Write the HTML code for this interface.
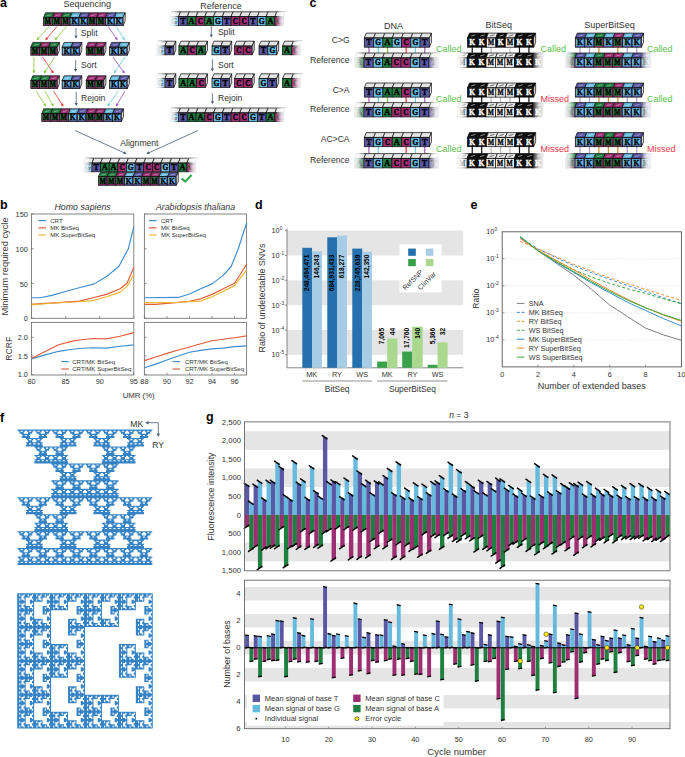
<!DOCTYPE html>
<html><head><meta charset="utf-8"><style>
html,body{margin:0;padding:0;background:#fff;width:685px;height:757px;overflow:hidden}
svg{display:block}
text{font-family:"Liberation Sans", sans-serif}
</style></head><body>
<svg width="685" height="757" viewBox="0 0 685 757">
<rect width="685" height="757" fill="#fff"/>
<text x="87.30" y="6.90" font-size="9.0" text-anchor="middle" font-weight="normal" font-style="normal" fill="#333">Sequencing</text>
<rect x="43.50" y="17.60" width="8.85" height="8.00" fill="#9d2e72"/>
<rect x="44.10" y="18.20" width="6.85" height="6.10" fill="#1f7f40"/>
<polygon points="43.50,17.60 52.35,17.60 54.35,12.80 45.50,12.80" fill="#1f7f40" stroke="#111" stroke-width="0.75"/>
<line x1="46.72" y1="15.80" x2="51.12" y2="14.60" stroke="#ffffff88" stroke-width="0.7"/>
<text x="44.82" y="24.39" font-size="8.2" textLength="6.2" lengthAdjust="spacingAndGlyphs" font-weight="bold" fill="#000" stroke="#000" stroke-width="0.35" style="font-family:'Liberation Serif', serif">M</text>
<rect x="43.50" y="17.60" width="8.85" height="8.00" fill="none" stroke="#111" stroke-width="0.75"/>
<rect x="52.35" y="17.60" width="8.85" height="8.00" fill="#9d2e72"/>
<rect x="52.95" y="18.20" width="6.85" height="6.10" fill="#1f7f40"/>
<polygon points="52.35,17.60 61.20,17.60 63.20,12.80 54.35,12.80" fill="#9d2e72" stroke="#111" stroke-width="0.75"/>
<line x1="55.57" y1="15.80" x2="59.98" y2="14.60" stroke="#ffffff88" stroke-width="0.7"/>
<text x="53.67" y="24.39" font-size="8.2" textLength="6.2" lengthAdjust="spacingAndGlyphs" font-weight="bold" fill="#000" stroke="#000" stroke-width="0.35" style="font-family:'Liberation Serif', serif">M</text>
<rect x="52.35" y="17.60" width="8.85" height="8.00" fill="none" stroke="#111" stroke-width="0.75"/>
<rect x="61.20" y="17.60" width="8.85" height="8.00" fill="#9d2e72"/>
<rect x="61.80" y="18.20" width="6.85" height="6.10" fill="#1f7f40"/>
<polygon points="61.20,17.60 70.05,17.60 72.05,12.80 63.20,12.80" fill="#1f7f40" stroke="#111" stroke-width="0.75"/>
<line x1="64.42" y1="15.80" x2="68.83" y2="14.60" stroke="#ffffff88" stroke-width="0.7"/>
<text x="62.52" y="24.39" font-size="8.2" textLength="6.2" lengthAdjust="spacingAndGlyphs" font-weight="bold" fill="#000" stroke="#000" stroke-width="0.35" style="font-family:'Liberation Serif', serif">M</text>
<rect x="61.20" y="17.60" width="8.85" height="8.00" fill="none" stroke="#111" stroke-width="0.75"/>
<rect x="70.05" y="17.60" width="8.85" height="8.00" fill="#5a57a5"/>
<rect x="70.65" y="18.20" width="6.85" height="6.10" fill="#66bade"/>
<polygon points="70.05,17.60 78.90,17.60 80.90,12.80 72.05,12.80" fill="#66bade" stroke="#111" stroke-width="0.75"/>
<line x1="73.27" y1="15.80" x2="77.67" y2="14.60" stroke="#ffffff88" stroke-width="0.7"/>
<text x="71.57" y="24.39" font-size="8.2" textLength="5.8" lengthAdjust="spacingAndGlyphs" font-weight="bold" fill="#000" stroke="#000" stroke-width="0.35" style="font-family:'Liberation Serif', serif">K</text>
<rect x="70.05" y="17.60" width="8.85" height="8.00" fill="none" stroke="#111" stroke-width="0.75"/>
<rect x="78.90" y="17.60" width="8.85" height="8.00" fill="#5a57a5"/>
<rect x="79.50" y="18.20" width="6.85" height="6.10" fill="#66bade"/>
<polygon points="78.90,17.60 87.75,17.60 89.75,12.80 80.90,12.80" fill="#5a57a5" stroke="#111" stroke-width="0.75"/>
<line x1="82.12" y1="15.80" x2="86.53" y2="14.60" stroke="#ffffff88" stroke-width="0.7"/>
<text x="80.42" y="24.39" font-size="8.2" textLength="5.8" lengthAdjust="spacingAndGlyphs" font-weight="bold" fill="#000" stroke="#000" stroke-width="0.35" style="font-family:'Liberation Serif', serif">K</text>
<rect x="78.90" y="17.60" width="8.85" height="8.00" fill="none" stroke="#111" stroke-width="0.75"/>
<rect x="87.75" y="17.60" width="8.85" height="8.00" fill="#9d2e72"/>
<rect x="88.35" y="18.20" width="6.85" height="6.10" fill="#1f7f40"/>
<polygon points="87.75,17.60 96.60,17.60 98.60,12.80 89.75,12.80" fill="#9d2e72" stroke="#111" stroke-width="0.75"/>
<line x1="90.97" y1="15.80" x2="95.38" y2="14.60" stroke="#ffffff88" stroke-width="0.7"/>
<text x="89.08" y="24.39" font-size="8.2" textLength="6.2" lengthAdjust="spacingAndGlyphs" font-weight="bold" fill="#000" stroke="#000" stroke-width="0.35" style="font-family:'Liberation Serif', serif">M</text>
<rect x="87.75" y="17.60" width="8.85" height="8.00" fill="none" stroke="#111" stroke-width="0.75"/>
<rect x="96.60" y="17.60" width="8.85" height="8.00" fill="#9d2e72"/>
<rect x="97.20" y="18.20" width="6.85" height="6.10" fill="#1f7f40"/>
<polygon points="96.60,17.60 105.45,17.60 107.45,12.80 98.60,12.80" fill="#9d2e72" stroke="#111" stroke-width="0.75"/>
<line x1="99.82" y1="15.80" x2="104.22" y2="14.60" stroke="#ffffff88" stroke-width="0.7"/>
<text x="97.92" y="24.39" font-size="8.2" textLength="6.2" lengthAdjust="spacingAndGlyphs" font-weight="bold" fill="#000" stroke="#000" stroke-width="0.35" style="font-family:'Liberation Serif', serif">M</text>
<rect x="96.60" y="17.60" width="8.85" height="8.00" fill="none" stroke="#111" stroke-width="0.75"/>
<rect x="105.45" y="17.60" width="8.85" height="8.00" fill="#5a57a5"/>
<rect x="106.05" y="18.20" width="6.85" height="6.10" fill="#66bade"/>
<polygon points="105.45,17.60 114.30,17.60 116.30,12.80 107.45,12.80" fill="#5a57a5" stroke="#111" stroke-width="0.75"/>
<line x1="108.67" y1="15.80" x2="113.07" y2="14.60" stroke="#ffffff88" stroke-width="0.7"/>
<text x="106.97" y="24.39" font-size="8.2" textLength="5.8" lengthAdjust="spacingAndGlyphs" font-weight="bold" fill="#000" stroke="#000" stroke-width="0.35" style="font-family:'Liberation Serif', serif">K</text>
<rect x="105.45" y="17.60" width="8.85" height="8.00" fill="none" stroke="#111" stroke-width="0.75"/>
<rect x="114.30" y="17.60" width="8.85" height="8.00" fill="#5a57a5"/>
<rect x="114.90" y="18.20" width="6.85" height="6.10" fill="#66bade"/>
<polygon points="114.30,17.60 123.15,17.60 125.15,12.80 116.30,12.80" fill="#66bade" stroke="#111" stroke-width="0.75"/>
<line x1="117.52" y1="15.80" x2="121.92" y2="14.60" stroke="#ffffff88" stroke-width="0.7"/>
<text x="115.82" y="24.39" font-size="8.2" textLength="5.8" lengthAdjust="spacingAndGlyphs" font-weight="bold" fill="#000" stroke="#000" stroke-width="0.35" style="font-family:'Liberation Serif', serif">K</text>
<rect x="114.30" y="17.60" width="8.85" height="8.00" fill="none" stroke="#111" stroke-width="0.75"/>
<polygon points="123.15,17.60 125.15,12.80 125.15,20.80 123.15,25.60" fill="#e8e8e8" stroke="#111" stroke-width="0.75"/>
<rect x="30.80" y="47.20" width="8.85" height="8.00" fill="#9d2e72"/>
<rect x="31.40" y="47.80" width="6.85" height="6.10" fill="#1f7f40"/>
<polygon points="30.80,47.20 39.65,47.20 41.65,42.40 32.80,42.40" fill="#1f7f40" stroke="#111" stroke-width="0.75"/>
<line x1="34.02" y1="45.40" x2="38.43" y2="44.20" stroke="#ffffff88" stroke-width="0.7"/>
<text x="32.12" y="53.99" font-size="8.2" textLength="6.2" lengthAdjust="spacingAndGlyphs" font-weight="bold" fill="#000" stroke="#000" stroke-width="0.35" style="font-family:'Liberation Serif', serif">M</text>
<rect x="30.80" y="47.20" width="8.85" height="8.00" fill="none" stroke="#111" stroke-width="0.75"/>
<rect x="39.65" y="47.20" width="8.85" height="8.00" fill="#9d2e72"/>
<rect x="40.25" y="47.80" width="6.85" height="6.10" fill="#1f7f40"/>
<polygon points="39.65,47.20 48.50,47.20 50.50,42.40 41.65,42.40" fill="#9d2e72" stroke="#111" stroke-width="0.75"/>
<line x1="42.87" y1="45.40" x2="47.27" y2="44.20" stroke="#ffffff88" stroke-width="0.7"/>
<text x="40.97" y="53.99" font-size="8.2" textLength="6.2" lengthAdjust="spacingAndGlyphs" font-weight="bold" fill="#000" stroke="#000" stroke-width="0.35" style="font-family:'Liberation Serif', serif">M</text>
<rect x="39.65" y="47.20" width="8.85" height="8.00" fill="none" stroke="#111" stroke-width="0.75"/>
<rect x="48.50" y="47.20" width="8.85" height="8.00" fill="#9d2e72"/>
<rect x="49.10" y="47.80" width="6.85" height="6.10" fill="#1f7f40"/>
<polygon points="48.50,47.20 57.35,47.20 59.35,42.40 50.50,42.40" fill="#1f7f40" stroke="#111" stroke-width="0.75"/>
<line x1="51.72" y1="45.40" x2="56.12" y2="44.20" stroke="#ffffff88" stroke-width="0.7"/>
<text x="49.82" y="53.99" font-size="8.2" textLength="6.2" lengthAdjust="spacingAndGlyphs" font-weight="bold" fill="#000" stroke="#000" stroke-width="0.35" style="font-family:'Liberation Serif', serif">M</text>
<rect x="48.50" y="47.20" width="8.85" height="8.00" fill="none" stroke="#111" stroke-width="0.75"/>
<polygon points="57.35,47.20 59.35,42.40 59.35,50.40 57.35,55.20" fill="#e8e8e8" stroke="#111" stroke-width="0.75"/>
<rect x="62.10" y="47.20" width="8.85" height="8.00" fill="#5a57a5"/>
<rect x="62.70" y="47.80" width="6.85" height="6.10" fill="#66bade"/>
<polygon points="62.10,47.20 70.95,47.20 72.95,42.40 64.10,42.40" fill="#66bade" stroke="#111" stroke-width="0.75"/>
<line x1="65.33" y1="45.40" x2="69.73" y2="44.20" stroke="#ffffff88" stroke-width="0.7"/>
<text x="63.63" y="53.99" font-size="8.2" textLength="5.8" lengthAdjust="spacingAndGlyphs" font-weight="bold" fill="#000" stroke="#000" stroke-width="0.35" style="font-family:'Liberation Serif', serif">K</text>
<rect x="62.10" y="47.20" width="8.85" height="8.00" fill="none" stroke="#111" stroke-width="0.75"/>
<rect x="70.95" y="47.20" width="8.85" height="8.00" fill="#5a57a5"/>
<rect x="71.55" y="47.80" width="6.85" height="6.10" fill="#66bade"/>
<polygon points="70.95,47.20 79.80,47.20 81.80,42.40 72.95,42.40" fill="#5a57a5" stroke="#111" stroke-width="0.75"/>
<line x1="74.17" y1="45.40" x2="78.58" y2="44.20" stroke="#ffffff88" stroke-width="0.7"/>
<text x="72.47" y="53.99" font-size="8.2" textLength="5.8" lengthAdjust="spacingAndGlyphs" font-weight="bold" fill="#000" stroke="#000" stroke-width="0.35" style="font-family:'Liberation Serif', serif">K</text>
<rect x="70.95" y="47.20" width="8.85" height="8.00" fill="none" stroke="#111" stroke-width="0.75"/>
<polygon points="79.80,47.20 81.80,42.40 81.80,50.40 79.80,55.20" fill="#e8e8e8" stroke="#111" stroke-width="0.75"/>
<rect x="86.20" y="47.20" width="8.85" height="8.00" fill="#9d2e72"/>
<rect x="86.80" y="47.80" width="6.85" height="6.10" fill="#1f7f40"/>
<polygon points="86.20,47.20 95.05,47.20 97.05,42.40 88.20,42.40" fill="#9d2e72" stroke="#111" stroke-width="0.75"/>
<line x1="89.42" y1="45.40" x2="93.83" y2="44.20" stroke="#ffffff88" stroke-width="0.7"/>
<text x="87.53" y="53.99" font-size="8.2" textLength="6.2" lengthAdjust="spacingAndGlyphs" font-weight="bold" fill="#000" stroke="#000" stroke-width="0.35" style="font-family:'Liberation Serif', serif">M</text>
<rect x="86.20" y="47.20" width="8.85" height="8.00" fill="none" stroke="#111" stroke-width="0.75"/>
<rect x="95.05" y="47.20" width="8.85" height="8.00" fill="#9d2e72"/>
<rect x="95.65" y="47.80" width="6.85" height="6.10" fill="#1f7f40"/>
<polygon points="95.05,47.20 103.90,47.20 105.90,42.40 97.05,42.40" fill="#9d2e72" stroke="#111" stroke-width="0.75"/>
<line x1="98.27" y1="45.40" x2="102.67" y2="44.20" stroke="#ffffff88" stroke-width="0.7"/>
<text x="96.38" y="53.99" font-size="8.2" textLength="6.2" lengthAdjust="spacingAndGlyphs" font-weight="bold" fill="#000" stroke="#000" stroke-width="0.35" style="font-family:'Liberation Serif', serif">M</text>
<rect x="95.05" y="47.20" width="8.85" height="8.00" fill="none" stroke="#111" stroke-width="0.75"/>
<polygon points="103.90,47.20 105.90,42.40 105.90,50.40 103.90,55.20" fill="#e8e8e8" stroke="#111" stroke-width="0.75"/>
<rect x="109.60" y="47.20" width="8.85" height="8.00" fill="#5a57a5"/>
<rect x="110.20" y="47.80" width="6.85" height="6.10" fill="#66bade"/>
<polygon points="109.60,47.20 118.45,47.20 120.45,42.40 111.60,42.40" fill="#5a57a5" stroke="#111" stroke-width="0.75"/>
<line x1="112.82" y1="45.40" x2="117.22" y2="44.20" stroke="#ffffff88" stroke-width="0.7"/>
<text x="111.12" y="53.99" font-size="8.2" textLength="5.8" lengthAdjust="spacingAndGlyphs" font-weight="bold" fill="#000" stroke="#000" stroke-width="0.35" style="font-family:'Liberation Serif', serif">K</text>
<rect x="109.60" y="47.20" width="8.85" height="8.00" fill="none" stroke="#111" stroke-width="0.75"/>
<rect x="118.45" y="47.20" width="8.85" height="8.00" fill="#5a57a5"/>
<rect x="119.05" y="47.80" width="6.85" height="6.10" fill="#66bade"/>
<polygon points="118.45,47.20 127.30,47.20 129.30,42.40 120.45,42.40" fill="#66bade" stroke="#111" stroke-width="0.75"/>
<line x1="121.67" y1="45.40" x2="126.07" y2="44.20" stroke="#ffffff88" stroke-width="0.7"/>
<text x="119.97" y="53.99" font-size="8.2" textLength="5.8" lengthAdjust="spacingAndGlyphs" font-weight="bold" fill="#000" stroke="#000" stroke-width="0.35" style="font-family:'Liberation Serif', serif">K</text>
<rect x="118.45" y="47.20" width="8.85" height="8.00" fill="none" stroke="#111" stroke-width="0.75"/>
<polygon points="127.30,47.20 129.30,42.40 129.30,50.40 127.30,55.20" fill="#e8e8e8" stroke="#111" stroke-width="0.75"/>
<rect x="30.80" y="80.60" width="8.85" height="8.00" fill="#9d2e72"/>
<rect x="31.40" y="81.20" width="6.85" height="6.10" fill="#1f7f40"/>
<polygon points="30.80,80.60 39.65,80.60 41.65,75.80 32.80,75.80" fill="#1f7f40" stroke="#111" stroke-width="0.75"/>
<line x1="34.02" y1="78.80" x2="38.43" y2="77.60" stroke="#ffffff88" stroke-width="0.7"/>
<text x="32.12" y="87.39" font-size="8.2" textLength="6.2" lengthAdjust="spacingAndGlyphs" font-weight="bold" fill="#000" stroke="#000" stroke-width="0.35" style="font-family:'Liberation Serif', serif">M</text>
<rect x="30.80" y="80.60" width="8.85" height="8.00" fill="none" stroke="#111" stroke-width="0.75"/>
<rect x="39.65" y="80.60" width="8.85" height="8.00" fill="#9d2e72"/>
<rect x="40.25" y="81.20" width="6.85" height="6.10" fill="#1f7f40"/>
<polygon points="39.65,80.60 48.50,80.60 50.50,75.80 41.65,75.80" fill="#1f7f40" stroke="#111" stroke-width="0.75"/>
<line x1="42.87" y1="78.80" x2="47.27" y2="77.60" stroke="#ffffff88" stroke-width="0.7"/>
<text x="40.97" y="87.39" font-size="8.2" textLength="6.2" lengthAdjust="spacingAndGlyphs" font-weight="bold" fill="#000" stroke="#000" stroke-width="0.35" style="font-family:'Liberation Serif', serif">M</text>
<rect x="39.65" y="80.60" width="8.85" height="8.00" fill="none" stroke="#111" stroke-width="0.75"/>
<rect x="48.50" y="80.60" width="8.85" height="8.00" fill="#9d2e72"/>
<rect x="49.10" y="81.20" width="6.85" height="6.10" fill="#1f7f40"/>
<polygon points="48.50,80.60 57.35,80.60 59.35,75.80 50.50,75.80" fill="#9d2e72" stroke="#111" stroke-width="0.75"/>
<line x1="51.72" y1="78.80" x2="56.12" y2="77.60" stroke="#ffffff88" stroke-width="0.7"/>
<text x="49.82" y="87.39" font-size="8.2" textLength="6.2" lengthAdjust="spacingAndGlyphs" font-weight="bold" fill="#000" stroke="#000" stroke-width="0.35" style="font-family:'Liberation Serif', serif">M</text>
<rect x="48.50" y="80.60" width="8.85" height="8.00" fill="none" stroke="#111" stroke-width="0.75"/>
<polygon points="57.35,80.60 59.35,75.80 59.35,83.80 57.35,88.60" fill="#e8e8e8" stroke="#111" stroke-width="0.75"/>
<rect x="62.10" y="80.60" width="8.85" height="8.00" fill="#5a57a5"/>
<rect x="62.70" y="81.20" width="6.85" height="6.10" fill="#66bade"/>
<polygon points="62.10,80.60 70.95,80.60 72.95,75.80 64.10,75.80" fill="#66bade" stroke="#111" stroke-width="0.75"/>
<line x1="65.33" y1="78.80" x2="69.73" y2="77.60" stroke="#ffffff88" stroke-width="0.7"/>
<text x="63.63" y="87.39" font-size="8.2" textLength="5.8" lengthAdjust="spacingAndGlyphs" font-weight="bold" fill="#000" stroke="#000" stroke-width="0.35" style="font-family:'Liberation Serif', serif">K</text>
<rect x="62.10" y="80.60" width="8.85" height="8.00" fill="none" stroke="#111" stroke-width="0.75"/>
<rect x="70.95" y="80.60" width="8.85" height="8.00" fill="#5a57a5"/>
<rect x="71.55" y="81.20" width="6.85" height="6.10" fill="#66bade"/>
<polygon points="70.95,80.60 79.80,80.60 81.80,75.80 72.95,75.80" fill="#5a57a5" stroke="#111" stroke-width="0.75"/>
<line x1="74.17" y1="78.80" x2="78.58" y2="77.60" stroke="#ffffff88" stroke-width="0.7"/>
<text x="72.47" y="87.39" font-size="8.2" textLength="5.8" lengthAdjust="spacingAndGlyphs" font-weight="bold" fill="#000" stroke="#000" stroke-width="0.35" style="font-family:'Liberation Serif', serif">K</text>
<rect x="70.95" y="80.60" width="8.85" height="8.00" fill="none" stroke="#111" stroke-width="0.75"/>
<polygon points="79.80,80.60 81.80,75.80 81.80,83.80 79.80,88.60" fill="#e8e8e8" stroke="#111" stroke-width="0.75"/>
<rect x="86.20" y="80.60" width="8.85" height="8.00" fill="#9d2e72"/>
<rect x="86.80" y="81.20" width="6.85" height="6.10" fill="#1f7f40"/>
<polygon points="86.20,80.60 95.05,80.60 97.05,75.80 88.20,75.80" fill="#9d2e72" stroke="#111" stroke-width="0.75"/>
<line x1="89.42" y1="78.80" x2="93.83" y2="77.60" stroke="#ffffff88" stroke-width="0.7"/>
<text x="87.53" y="87.39" font-size="8.2" textLength="6.2" lengthAdjust="spacingAndGlyphs" font-weight="bold" fill="#000" stroke="#000" stroke-width="0.35" style="font-family:'Liberation Serif', serif">M</text>
<rect x="86.20" y="80.60" width="8.85" height="8.00" fill="none" stroke="#111" stroke-width="0.75"/>
<rect x="95.05" y="80.60" width="8.85" height="8.00" fill="#9d2e72"/>
<rect x="95.65" y="81.20" width="6.85" height="6.10" fill="#1f7f40"/>
<polygon points="95.05,80.60 103.90,80.60 105.90,75.80 97.05,75.80" fill="#9d2e72" stroke="#111" stroke-width="0.75"/>
<line x1="98.27" y1="78.80" x2="102.67" y2="77.60" stroke="#ffffff88" stroke-width="0.7"/>
<text x="96.38" y="87.39" font-size="8.2" textLength="6.2" lengthAdjust="spacingAndGlyphs" font-weight="bold" fill="#000" stroke="#000" stroke-width="0.35" style="font-family:'Liberation Serif', serif">M</text>
<rect x="95.05" y="80.60" width="8.85" height="8.00" fill="none" stroke="#111" stroke-width="0.75"/>
<polygon points="103.90,80.60 105.90,75.80 105.90,83.80 103.90,88.60" fill="#e8e8e8" stroke="#111" stroke-width="0.75"/>
<rect x="109.60" y="80.60" width="8.85" height="8.00" fill="#5a57a5"/>
<rect x="110.20" y="81.20" width="6.85" height="6.10" fill="#66bade"/>
<polygon points="109.60,80.60 118.45,80.60 120.45,75.80 111.60,75.80" fill="#66bade" stroke="#111" stroke-width="0.75"/>
<line x1="112.82" y1="78.80" x2="117.22" y2="77.60" stroke="#ffffff88" stroke-width="0.7"/>
<text x="111.12" y="87.39" font-size="8.2" textLength="5.8" lengthAdjust="spacingAndGlyphs" font-weight="bold" fill="#000" stroke="#000" stroke-width="0.35" style="font-family:'Liberation Serif', serif">K</text>
<rect x="109.60" y="80.60" width="8.85" height="8.00" fill="none" stroke="#111" stroke-width="0.75"/>
<rect x="118.45" y="80.60" width="8.85" height="8.00" fill="#5a57a5"/>
<rect x="119.05" y="81.20" width="6.85" height="6.10" fill="#66bade"/>
<polygon points="118.45,80.60 127.30,80.60 129.30,75.80 120.45,75.80" fill="#5a57a5" stroke="#111" stroke-width="0.75"/>
<line x1="121.67" y1="78.80" x2="126.07" y2="77.60" stroke="#ffffff88" stroke-width="0.7"/>
<text x="119.97" y="87.39" font-size="8.2" textLength="5.8" lengthAdjust="spacingAndGlyphs" font-weight="bold" fill="#000" stroke="#000" stroke-width="0.35" style="font-family:'Liberation Serif', serif">K</text>
<rect x="118.45" y="80.60" width="8.85" height="8.00" fill="none" stroke="#111" stroke-width="0.75"/>
<polygon points="127.30,80.60 129.30,75.80 129.30,83.80 127.30,88.60" fill="#e8e8e8" stroke="#111" stroke-width="0.75"/>
<rect x="41.80" y="113.60" width="8.85" height="8.00" fill="#9d2e72"/>
<rect x="42.40" y="114.20" width="6.85" height="6.10" fill="#1f7f40"/>
<polygon points="41.80,113.60 50.65,113.60 52.65,108.80 43.80,108.80" fill="#1f7f40" stroke="#111" stroke-width="0.75"/>
<line x1="45.02" y1="111.80" x2="49.42" y2="110.60" stroke="#ffffff88" stroke-width="0.7"/>
<text x="43.12" y="120.39" font-size="8.2" textLength="6.2" lengthAdjust="spacingAndGlyphs" font-weight="bold" fill="#000" stroke="#000" stroke-width="0.35" style="font-family:'Liberation Serif', serif">M</text>
<rect x="41.80" y="113.60" width="8.85" height="8.00" fill="none" stroke="#111" stroke-width="0.75"/>
<rect x="50.65" y="113.60" width="8.85" height="8.00" fill="#9d2e72"/>
<rect x="51.25" y="114.20" width="6.85" height="6.10" fill="#1f7f40"/>
<polygon points="50.65,113.60 59.50,113.60 61.50,108.80 52.65,108.80" fill="#1f7f40" stroke="#111" stroke-width="0.75"/>
<line x1="53.87" y1="111.80" x2="58.27" y2="110.60" stroke="#ffffff88" stroke-width="0.7"/>
<text x="51.97" y="120.39" font-size="8.2" textLength="6.2" lengthAdjust="spacingAndGlyphs" font-weight="bold" fill="#000" stroke="#000" stroke-width="0.35" style="font-family:'Liberation Serif', serif">M</text>
<rect x="50.65" y="113.60" width="8.85" height="8.00" fill="none" stroke="#111" stroke-width="0.75"/>
<rect x="59.50" y="113.60" width="8.85" height="8.00" fill="#9d2e72"/>
<rect x="60.10" y="114.20" width="6.85" height="6.10" fill="#1f7f40"/>
<polygon points="59.50,113.60 68.35,113.60 70.35,108.80 61.50,108.80" fill="#9d2e72" stroke="#111" stroke-width="0.75"/>
<line x1="62.72" y1="111.80" x2="67.12" y2="110.60" stroke="#ffffff88" stroke-width="0.7"/>
<text x="60.82" y="120.39" font-size="8.2" textLength="6.2" lengthAdjust="spacingAndGlyphs" font-weight="bold" fill="#000" stroke="#000" stroke-width="0.35" style="font-family:'Liberation Serif', serif">M</text>
<rect x="59.50" y="113.60" width="8.85" height="8.00" fill="none" stroke="#111" stroke-width="0.75"/>
<rect x="68.35" y="113.60" width="8.85" height="8.00" fill="#5a57a5"/>
<rect x="68.95" y="114.20" width="6.85" height="6.10" fill="#66bade"/>
<polygon points="68.35,113.60 77.20,113.60 79.20,108.80 70.35,108.80" fill="#66bade" stroke="#111" stroke-width="0.75"/>
<line x1="71.57" y1="111.80" x2="75.97" y2="110.60" stroke="#ffffff88" stroke-width="0.7"/>
<text x="69.87" y="120.39" font-size="8.2" textLength="5.8" lengthAdjust="spacingAndGlyphs" font-weight="bold" fill="#000" stroke="#000" stroke-width="0.35" style="font-family:'Liberation Serif', serif">K</text>
<rect x="68.35" y="113.60" width="8.85" height="8.00" fill="none" stroke="#111" stroke-width="0.75"/>
<rect x="77.20" y="113.60" width="8.85" height="8.00" fill="#5a57a5"/>
<rect x="77.80" y="114.20" width="6.85" height="6.10" fill="#66bade"/>
<polygon points="77.20,113.60 86.05,113.60 88.05,108.80 79.20,108.80" fill="#5a57a5" stroke="#111" stroke-width="0.75"/>
<line x1="80.42" y1="111.80" x2="84.82" y2="110.60" stroke="#ffffff88" stroke-width="0.7"/>
<text x="78.72" y="120.39" font-size="8.2" textLength="5.8" lengthAdjust="spacingAndGlyphs" font-weight="bold" fill="#000" stroke="#000" stroke-width="0.35" style="font-family:'Liberation Serif', serif">K</text>
<rect x="77.20" y="113.60" width="8.85" height="8.00" fill="none" stroke="#111" stroke-width="0.75"/>
<rect x="86.05" y="113.60" width="8.85" height="8.00" fill="#9d2e72"/>
<rect x="86.65" y="114.20" width="6.85" height="6.10" fill="#1f7f40"/>
<polygon points="86.05,113.60 94.90,113.60 96.90,108.80 88.05,108.80" fill="#9d2e72" stroke="#111" stroke-width="0.75"/>
<line x1="89.27" y1="111.80" x2="93.67" y2="110.60" stroke="#ffffff88" stroke-width="0.7"/>
<text x="87.38" y="120.39" font-size="8.2" textLength="6.2" lengthAdjust="spacingAndGlyphs" font-weight="bold" fill="#000" stroke="#000" stroke-width="0.35" style="font-family:'Liberation Serif', serif">M</text>
<rect x="86.05" y="113.60" width="8.85" height="8.00" fill="none" stroke="#111" stroke-width="0.75"/>
<rect x="94.90" y="113.60" width="8.85" height="8.00" fill="#9d2e72"/>
<rect x="95.50" y="114.20" width="6.85" height="6.10" fill="#1f7f40"/>
<polygon points="94.90,113.60 103.75,113.60 105.75,108.80 96.90,108.80" fill="#9d2e72" stroke="#111" stroke-width="0.75"/>
<line x1="98.12" y1="111.80" x2="102.52" y2="110.60" stroke="#ffffff88" stroke-width="0.7"/>
<text x="96.22" y="120.39" font-size="8.2" textLength="6.2" lengthAdjust="spacingAndGlyphs" font-weight="bold" fill="#000" stroke="#000" stroke-width="0.35" style="font-family:'Liberation Serif', serif">M</text>
<rect x="94.90" y="113.60" width="8.85" height="8.00" fill="none" stroke="#111" stroke-width="0.75"/>
<rect x="103.75" y="113.60" width="8.85" height="8.00" fill="#5a57a5"/>
<rect x="104.35" y="114.20" width="6.85" height="6.10" fill="#66bade"/>
<polygon points="103.75,113.60 112.60,113.60 114.60,108.80 105.75,108.80" fill="#66bade" stroke="#111" stroke-width="0.75"/>
<line x1="106.97" y1="111.80" x2="111.38" y2="110.60" stroke="#ffffff88" stroke-width="0.7"/>
<text x="105.27" y="120.39" font-size="8.2" textLength="5.8" lengthAdjust="spacingAndGlyphs" font-weight="bold" fill="#000" stroke="#000" stroke-width="0.35" style="font-family:'Liberation Serif', serif">K</text>
<rect x="103.75" y="113.60" width="8.85" height="8.00" fill="none" stroke="#111" stroke-width="0.75"/>
<rect x="112.60" y="113.60" width="8.85" height="8.00" fill="#5a57a5"/>
<rect x="113.20" y="114.20" width="6.85" height="6.10" fill="#66bade"/>
<polygon points="112.60,113.60 121.45,113.60 123.45,108.80 114.60,108.80" fill="#5a57a5" stroke="#111" stroke-width="0.75"/>
<line x1="115.82" y1="111.80" x2="120.22" y2="110.60" stroke="#ffffff88" stroke-width="0.7"/>
<text x="114.12" y="120.39" font-size="8.2" textLength="5.8" lengthAdjust="spacingAndGlyphs" font-weight="bold" fill="#000" stroke="#000" stroke-width="0.35" style="font-family:'Liberation Serif', serif">K</text>
<rect x="112.60" y="113.60" width="8.85" height="8.00" fill="none" stroke="#111" stroke-width="0.75"/>
<polygon points="121.45,113.60 123.45,108.80 123.45,116.80 121.45,121.60" fill="#e8e8e8" stroke="#111" stroke-width="0.75"/>
<line x1="49.00" y1="26.50" x2="38.27" y2="38.44" stroke="#86c43c" stroke-width="0.8"/>
<polygon points="36.60,40.30 37.41,37.00 39.80,39.14" fill="#86c43c" stroke="none" stroke-width="0.5"/>
<line x1="57.00" y1="26.50" x2="46.92" y2="38.39" stroke="#e8352b" stroke-width="0.8"/>
<polygon points="45.30,40.30 46.02,36.98 48.46,39.05" fill="#e8352b" stroke="none" stroke-width="0.5"/>
<line x1="66.50" y1="26.50" x2="56.42" y2="38.39" stroke="#86c43c" stroke-width="0.8"/>
<polygon points="54.80,40.30 55.52,36.98 57.96,39.05" fill="#86c43c" stroke="none" stroke-width="0.5"/>
<line x1="108.10" y1="26.50" x2="116.18" y2="38.24" stroke="#9b52b8" stroke-width="0.8"/>
<polygon points="117.60,40.30 114.58,38.74 117.22,36.92" fill="#9b52b8" stroke="none" stroke-width="0.5"/>
<line x1="116.10" y1="26.50" x2="123.56" y2="38.19" stroke="#6fcfd0" stroke-width="0.8"/>
<polygon points="124.90,40.30 121.94,38.63 124.64,36.91" fill="#6fcfd0" stroke="none" stroke-width="0.5"/>
<line x1="76.00" y1="27.80" x2="76.00" y2="36.30" stroke="#4a5a7a" stroke-width="0.8"/>
<polygon points="76.00,38.80 74.40,35.80 77.60,35.80" fill="#4a5a7a" stroke="none" stroke-width="0.5"/>
<text x="80.80" y="35.60" font-size="8.6" text-anchor="start" font-weight="normal" font-style="normal" fill="#333">Split</text>
<line x1="33.90" y1="57.00" x2="33.90" y2="71.00" stroke="#86c43c" stroke-width="0.8"/>
<polygon points="33.90,73.50 32.30,70.50 35.50,70.50" fill="#86c43c" stroke="none" stroke-width="0.5"/>
<line x1="42.70" y1="57.00" x2="52.22" y2="71.41" stroke="#e8352b" stroke-width="0.8"/>
<polygon points="53.60,73.50 50.61,71.88 53.28,70.11" fill="#e8352b" stroke="none" stroke-width="0.5"/>
<line x1="54.70" y1="57.00" x2="45.18" y2="71.41" stroke="#86c43c" stroke-width="0.8"/>
<polygon points="43.80,73.50 44.12,70.11 46.79,71.88" fill="#86c43c" stroke="none" stroke-width="0.5"/>
<line x1="124.80" y1="57.00" x2="115.28" y2="71.41" stroke="#6fcfd0" stroke-width="0.8"/>
<polygon points="113.90,73.50 114.22,70.11 116.89,71.88" fill="#6fcfd0" stroke="none" stroke-width="0.5"/>
<line x1="112.80" y1="57.00" x2="123.33" y2="71.48" stroke="#9b52b8" stroke-width="0.8"/>
<polygon points="124.80,73.50 121.74,72.01 124.33,70.13" fill="#9b52b8" stroke="none" stroke-width="0.5"/>
<line x1="75.60" y1="60.00" x2="75.60" y2="69.50" stroke="#4a5a7a" stroke-width="0.8"/>
<polygon points="75.60,72.00 74.00,69.00 77.20,69.00" fill="#4a5a7a" stroke="none" stroke-width="0.5"/>
<text x="81.00" y="68.30" font-size="8.6" text-anchor="start" font-weight="normal" font-style="normal" fill="#333">Sort</text>
<line x1="36.10" y1="91.20" x2="44.65" y2="104.50" stroke="#86c43c" stroke-width="0.8"/>
<polygon points="46.00,106.60 43.03,104.94 45.72,103.21" fill="#86c43c" stroke="none" stroke-width="0.5"/>
<line x1="44.90" y1="91.20" x2="52.37" y2="104.42" stroke="#86c43c" stroke-width="0.8"/>
<polygon points="53.60,106.60 50.73,104.77 53.52,103.20" fill="#86c43c" stroke="none" stroke-width="0.5"/>
<line x1="53.60" y1="91.20" x2="62.15" y2="104.50" stroke="#e8352b" stroke-width="0.8"/>
<polygon points="63.50,106.60 60.53,104.94 63.22,103.21" fill="#e8352b" stroke="none" stroke-width="0.5"/>
<line x1="118.20" y1="91.20" x2="108.74" y2="104.56" stroke="#6fcfd0" stroke-width="0.8"/>
<polygon points="107.30,106.60 107.73,103.23 110.34,105.08" fill="#6fcfd0" stroke="none" stroke-width="0.5"/>
<line x1="124.80" y1="91.20" x2="117.24" y2="104.43" stroke="#9b52b8" stroke-width="0.8"/>
<polygon points="116.00,106.60 116.10,103.20 118.88,104.79" fill="#9b52b8" stroke="none" stroke-width="0.5"/>
<line x1="76.20" y1="91.80" x2="76.20" y2="103.50" stroke="#4a5a7a" stroke-width="0.8"/>
<polygon points="76.20,106.00 74.60,103.00 77.80,103.00" fill="#4a5a7a" stroke="none" stroke-width="0.5"/>
<text x="81.00" y="101.20" font-size="8.6" text-anchor="start" font-weight="normal" font-style="normal" fill="#333">Rejoin</text>
<text x="221.00" y="8.60" font-size="9.0" text-anchor="middle" font-weight="normal" font-style="normal" fill="#333">Reference</text>
<rect x="169.74" y="16.60" width="8.76" height="8.80" fill="#66bade"/>
<polygon points="169.74,16.60 178.50,16.60 180.50,11.80 171.74,11.80" fill="#e4e4e4" stroke="#111" stroke-width="0.75"/>
<text x="171.22" y="23.79" font-size="8.2" textLength="5.8" lengthAdjust="spacingAndGlyphs" font-weight="bold" fill="#000" stroke="#000" stroke-width="0.35" style="font-family:'Liberation Serif', serif">G</text>
<rect x="169.74" y="16.60" width="8.76" height="8.80" fill="none" stroke="#111" stroke-width="0.75"/>
<rect x="178.50" y="16.60" width="8.76" height="8.80" fill="#5a57a5"/>
<polygon points="178.50,16.60 187.26,16.60 189.26,11.80 180.50,11.80" fill="#e4e4e4" stroke="#111" stroke-width="0.75"/>
<text x="180.18" y="23.79" font-size="8.2" textLength="5.4" lengthAdjust="spacingAndGlyphs" font-weight="bold" fill="#000" stroke="#000" stroke-width="0.35" style="font-family:'Liberation Serif', serif">T</text>
<rect x="178.50" y="16.60" width="8.76" height="8.80" fill="none" stroke="#111" stroke-width="0.75"/>
<rect x="187.26" y="16.60" width="8.76" height="8.80" fill="#1f7f40"/>
<polygon points="187.26,16.60 196.02,16.60 198.02,11.80 189.26,11.80" fill="#e4e4e4" stroke="#111" stroke-width="0.75"/>
<text x="188.64" y="23.79" font-size="8.2" textLength="6.0" lengthAdjust="spacingAndGlyphs" font-weight="bold" fill="#000" stroke="#000" stroke-width="0.35" style="font-family:'Liberation Serif', serif">A</text>
<rect x="187.26" y="16.60" width="8.76" height="8.80" fill="none" stroke="#111" stroke-width="0.75"/>
<rect x="196.02" y="16.60" width="8.76" height="8.80" fill="#9d2e72"/>
<polygon points="196.02,16.60 204.78,16.60 206.78,11.80 198.02,11.80" fill="#e4e4e4" stroke="#111" stroke-width="0.75"/>
<text x="197.80" y="23.79" font-size="8.2" textLength="5.2" lengthAdjust="spacingAndGlyphs" font-weight="bold" fill="#000" stroke="#000" stroke-width="0.35" style="font-family:'Liberation Serif', serif">C</text>
<rect x="196.02" y="16.60" width="8.76" height="8.80" fill="none" stroke="#111" stroke-width="0.75"/>
<rect x="204.78" y="16.60" width="8.76" height="8.80" fill="#1f7f40"/>
<polygon points="204.78,16.60 213.54,16.60 215.54,11.80 206.78,11.80" fill="#e4e4e4" stroke="#111" stroke-width="0.75"/>
<text x="206.16" y="23.79" font-size="8.2" textLength="6.0" lengthAdjust="spacingAndGlyphs" font-weight="bold" fill="#000" stroke="#000" stroke-width="0.35" style="font-family:'Liberation Serif', serif">A</text>
<rect x="204.78" y="16.60" width="8.76" height="8.80" fill="none" stroke="#111" stroke-width="0.75"/>
<rect x="213.54" y="16.60" width="8.76" height="8.80" fill="#66bade"/>
<polygon points="213.54,16.60 222.30,16.60 224.30,11.80 215.54,11.80" fill="#e4e4e4" stroke="#111" stroke-width="0.75"/>
<text x="215.02" y="23.79" font-size="8.2" textLength="5.8" lengthAdjust="spacingAndGlyphs" font-weight="bold" fill="#000" stroke="#000" stroke-width="0.35" style="font-family:'Liberation Serif', serif">G</text>
<rect x="213.54" y="16.60" width="8.76" height="8.80" fill="none" stroke="#111" stroke-width="0.75"/>
<rect x="222.30" y="16.60" width="8.76" height="8.80" fill="#5a57a5"/>
<polygon points="222.30,16.60 231.06,16.60 233.06,11.80 224.30,11.80" fill="#e4e4e4" stroke="#111" stroke-width="0.75"/>
<text x="223.98" y="23.79" font-size="8.2" textLength="5.4" lengthAdjust="spacingAndGlyphs" font-weight="bold" fill="#000" stroke="#000" stroke-width="0.35" style="font-family:'Liberation Serif', serif">T</text>
<rect x="222.30" y="16.60" width="8.76" height="8.80" fill="none" stroke="#111" stroke-width="0.75"/>
<rect x="231.06" y="16.60" width="8.76" height="8.80" fill="#9d2e72"/>
<polygon points="231.06,16.60 239.82,16.60 241.82,11.80 233.06,11.80" fill="#e4e4e4" stroke="#111" stroke-width="0.75"/>
<text x="232.84" y="23.79" font-size="8.2" textLength="5.2" lengthAdjust="spacingAndGlyphs" font-weight="bold" fill="#000" stroke="#000" stroke-width="0.35" style="font-family:'Liberation Serif', serif">C</text>
<rect x="231.06" y="16.60" width="8.76" height="8.80" fill="none" stroke="#111" stroke-width="0.75"/>
<rect x="239.82" y="16.60" width="8.76" height="8.80" fill="#9d2e72"/>
<polygon points="239.82,16.60 248.58,16.60 250.58,11.80 241.82,11.80" fill="#e4e4e4" stroke="#111" stroke-width="0.75"/>
<text x="241.60" y="23.79" font-size="8.2" textLength="5.2" lengthAdjust="spacingAndGlyphs" font-weight="bold" fill="#000" stroke="#000" stroke-width="0.35" style="font-family:'Liberation Serif', serif">C</text>
<rect x="239.82" y="16.60" width="8.76" height="8.80" fill="none" stroke="#111" stroke-width="0.75"/>
<rect x="248.58" y="16.60" width="8.76" height="8.80" fill="#5a57a5"/>
<polygon points="248.58,16.60 257.34,16.60 259.34,11.80 250.58,11.80" fill="#e4e4e4" stroke="#111" stroke-width="0.75"/>
<text x="250.26" y="23.79" font-size="8.2" textLength="5.4" lengthAdjust="spacingAndGlyphs" font-weight="bold" fill="#000" stroke="#000" stroke-width="0.35" style="font-family:'Liberation Serif', serif">T</text>
<rect x="248.58" y="16.60" width="8.76" height="8.80" fill="none" stroke="#111" stroke-width="0.75"/>
<rect x="257.34" y="16.60" width="8.76" height="8.80" fill="#66bade"/>
<polygon points="257.34,16.60 266.10,16.60 268.10,11.80 259.34,11.80" fill="#e4e4e4" stroke="#111" stroke-width="0.75"/>
<text x="258.82" y="23.79" font-size="8.2" textLength="5.8" lengthAdjust="spacingAndGlyphs" font-weight="bold" fill="#000" stroke="#000" stroke-width="0.35" style="font-family:'Liberation Serif', serif">G</text>
<rect x="257.34" y="16.60" width="8.76" height="8.80" fill="none" stroke="#111" stroke-width="0.75"/>
<rect x="266.10" y="16.60" width="8.76" height="8.80" fill="#1f7f40"/>
<polygon points="266.10,16.60 274.86,16.60 276.86,11.80 268.10,11.80" fill="#e4e4e4" stroke="#111" stroke-width="0.75"/>
<text x="267.48" y="23.79" font-size="8.2" textLength="6.0" lengthAdjust="spacingAndGlyphs" font-weight="bold" fill="#000" stroke="#000" stroke-width="0.35" style="font-family:'Liberation Serif', serif">A</text>
<rect x="266.10" y="16.60" width="8.76" height="8.80" fill="none" stroke="#111" stroke-width="0.75"/>
<rect x="274.86" y="16.60" width="8.76" height="8.80" fill="#9d2e72"/>
<polygon points="274.86,16.60 283.62,16.60 285.62,11.80 276.86,11.80" fill="#e4e4e4" stroke="#111" stroke-width="0.75"/>
<text x="276.64" y="23.79" font-size="8.2" textLength="5.2" lengthAdjust="spacingAndGlyphs" font-weight="bold" fill="#000" stroke="#000" stroke-width="0.35" style="font-family:'Liberation Serif', serif">C</text>
<rect x="274.86" y="16.60" width="8.76" height="8.80" fill="none" stroke="#111" stroke-width="0.75"/>
<defs><linearGradient id="fd319" x1="0" x2="1" y1="0" y2="0"><stop offset="0" stop-color="#fff" stop-opacity="1"/><stop offset="0.55" stop-color="#fff" stop-opacity="0.8"/><stop offset="1" stop-color="#fff" stop-opacity="0.15"/></linearGradient></defs>
<rect x="168.24" y="11.30" width="10.26" height="15.10" fill="url(#fd319)"/>
<defs><linearGradient id="fd321" x1="0" x2="1" y1="0" y2="0"><stop offset="0" stop-color="#fff" stop-opacity="0.15"/><stop offset="0.45" stop-color="#fff" stop-opacity="0.8"/><stop offset="1" stop-color="#fff" stop-opacity="1"/></linearGradient></defs>
<rect x="276.36" y="11.30" width="10.76" height="15.10" fill="url(#fd321)"/>
<rect x="156.10" y="46.00" width="8.85" height="8.80" fill="#66bade"/>
<polygon points="156.10,46.00 164.95,46.00 166.95,41.20 158.10,41.20" fill="#e4e4e4" stroke="#111" stroke-width="0.75"/>
<text x="157.62" y="53.19" font-size="8.2" textLength="5.8" lengthAdjust="spacingAndGlyphs" font-weight="bold" fill="#000" stroke="#000" stroke-width="0.35" style="font-family:'Liberation Serif', serif">G</text>
<rect x="156.10" y="46.00" width="8.85" height="8.80" fill="none" stroke="#111" stroke-width="0.75"/>
<rect x="164.95" y="46.00" width="8.85" height="8.80" fill="#5a57a5"/>
<polygon points="164.95,46.00 173.80,46.00 175.80,41.20 166.95,41.20" fill="#e4e4e4" stroke="#111" stroke-width="0.75"/>
<text x="166.68" y="53.19" font-size="8.2" textLength="5.4" lengthAdjust="spacingAndGlyphs" font-weight="bold" fill="#000" stroke="#000" stroke-width="0.35" style="font-family:'Liberation Serif', serif">T</text>
<rect x="164.95" y="46.00" width="8.85" height="8.80" fill="none" stroke="#111" stroke-width="0.75"/>
<defs><linearGradient id="fd331" x1="0" x2="1" y1="0" y2="0"><stop offset="0" stop-color="#fff" stop-opacity="1"/><stop offset="0.55" stop-color="#fff" stop-opacity="0.8"/><stop offset="1" stop-color="#fff" stop-opacity="0.15"/></linearGradient></defs>
<rect x="154.60" y="40.70" width="10.35" height="15.10" fill="url(#fd331)"/>
<polygon points="173.80,46.00 175.80,41.20 175.80,50.00 173.80,54.80" fill="#e8e8e8" stroke="#111" stroke-width="0.75"/>
<rect x="178.90" y="46.00" width="8.85" height="8.80" fill="#1f7f40"/>
<polygon points="178.90,46.00 187.75,46.00 189.75,41.20 180.90,41.20" fill="#e4e4e4" stroke="#111" stroke-width="0.75"/>
<text x="180.33" y="53.19" font-size="8.2" textLength="6.0" lengthAdjust="spacingAndGlyphs" font-weight="bold" fill="#000" stroke="#000" stroke-width="0.35" style="font-family:'Liberation Serif', serif">A</text>
<rect x="178.90" y="46.00" width="8.85" height="8.80" fill="none" stroke="#111" stroke-width="0.75"/>
<rect x="187.75" y="46.00" width="8.85" height="8.80" fill="#9d2e72"/>
<polygon points="187.75,46.00 196.60,46.00 198.60,41.20 189.75,41.20" fill="#e4e4e4" stroke="#111" stroke-width="0.75"/>
<text x="189.58" y="53.19" font-size="8.2" textLength="5.2" lengthAdjust="spacingAndGlyphs" font-weight="bold" fill="#000" stroke="#000" stroke-width="0.35" style="font-family:'Liberation Serif', serif">C</text>
<rect x="187.75" y="46.00" width="8.85" height="8.80" fill="none" stroke="#111" stroke-width="0.75"/>
<rect x="196.60" y="46.00" width="8.85" height="8.80" fill="#1f7f40"/>
<polygon points="196.60,46.00 205.45,46.00 207.45,41.20 198.60,41.20" fill="#e4e4e4" stroke="#111" stroke-width="0.75"/>
<text x="198.03" y="53.19" font-size="8.2" textLength="6.0" lengthAdjust="spacingAndGlyphs" font-weight="bold" fill="#000" stroke="#000" stroke-width="0.35" style="font-family:'Liberation Serif', serif">A</text>
<rect x="196.60" y="46.00" width="8.85" height="8.80" fill="none" stroke="#111" stroke-width="0.75"/>
<polygon points="205.45,46.00 207.45,41.20 207.45,50.00 205.45,54.80" fill="#e8e8e8" stroke="#111" stroke-width="0.75"/>
<rect x="212.00" y="46.00" width="8.85" height="8.80" fill="#66bade"/>
<polygon points="212.00,46.00 220.85,46.00 222.85,41.20 214.00,41.20" fill="#e4e4e4" stroke="#111" stroke-width="0.75"/>
<text x="213.53" y="53.19" font-size="8.2" textLength="5.8" lengthAdjust="spacingAndGlyphs" font-weight="bold" fill="#000" stroke="#000" stroke-width="0.35" style="font-family:'Liberation Serif', serif">G</text>
<rect x="212.00" y="46.00" width="8.85" height="8.80" fill="none" stroke="#111" stroke-width="0.75"/>
<rect x="220.85" y="46.00" width="8.85" height="8.80" fill="#5a57a5"/>
<polygon points="220.85,46.00 229.70,46.00 231.70,41.20 222.85,41.20" fill="#e4e4e4" stroke="#111" stroke-width="0.75"/>
<text x="222.58" y="53.19" font-size="8.2" textLength="5.4" lengthAdjust="spacingAndGlyphs" font-weight="bold" fill="#000" stroke="#000" stroke-width="0.35" style="font-family:'Liberation Serif', serif">T</text>
<rect x="220.85" y="46.00" width="8.85" height="8.80" fill="none" stroke="#111" stroke-width="0.75"/>
<polygon points="229.70,46.00 231.70,41.20 231.70,50.00 229.70,54.80" fill="#e8e8e8" stroke="#111" stroke-width="0.75"/>
<rect x="234.50" y="46.00" width="8.85" height="8.80" fill="#9d2e72"/>
<polygon points="234.50,46.00 243.35,46.00 245.35,41.20 236.50,41.20" fill="#e4e4e4" stroke="#111" stroke-width="0.75"/>
<text x="236.33" y="53.19" font-size="8.2" textLength="5.2" lengthAdjust="spacingAndGlyphs" font-weight="bold" fill="#000" stroke="#000" stroke-width="0.35" style="font-family:'Liberation Serif', serif">C</text>
<rect x="234.50" y="46.00" width="8.85" height="8.80" fill="none" stroke="#111" stroke-width="0.75"/>
<rect x="243.35" y="46.00" width="8.85" height="8.80" fill="#9d2e72"/>
<polygon points="243.35,46.00 252.20,46.00 254.20,41.20 245.35,41.20" fill="#e4e4e4" stroke="#111" stroke-width="0.75"/>
<text x="245.18" y="53.19" font-size="8.2" textLength="5.2" lengthAdjust="spacingAndGlyphs" font-weight="bold" fill="#000" stroke="#000" stroke-width="0.35" style="font-family:'Liberation Serif', serif">C</text>
<rect x="243.35" y="46.00" width="8.85" height="8.80" fill="none" stroke="#111" stroke-width="0.75"/>
<polygon points="252.20,46.00 254.20,41.20 254.20,50.00 252.20,54.80" fill="#e8e8e8" stroke="#111" stroke-width="0.75"/>
<rect x="259.00" y="46.00" width="8.85" height="8.80" fill="#5a57a5"/>
<polygon points="259.00,46.00 267.85,46.00 269.85,41.20 261.00,41.20" fill="#e4e4e4" stroke="#111" stroke-width="0.75"/>
<text x="260.73" y="53.19" font-size="8.2" textLength="5.4" lengthAdjust="spacingAndGlyphs" font-weight="bold" fill="#000" stroke="#000" stroke-width="0.35" style="font-family:'Liberation Serif', serif">T</text>
<rect x="259.00" y="46.00" width="8.85" height="8.80" fill="none" stroke="#111" stroke-width="0.75"/>
<rect x="267.85" y="46.00" width="8.85" height="8.80" fill="#66bade"/>
<polygon points="267.85,46.00 276.70,46.00 278.70,41.20 269.85,41.20" fill="#e4e4e4" stroke="#111" stroke-width="0.75"/>
<text x="269.38" y="53.19" font-size="8.2" textLength="5.8" lengthAdjust="spacingAndGlyphs" font-weight="bold" fill="#000" stroke="#000" stroke-width="0.35" style="font-family:'Liberation Serif', serif">G</text>
<rect x="267.85" y="46.00" width="8.85" height="8.80" fill="none" stroke="#111" stroke-width="0.75"/>
<polygon points="276.70,46.00 278.70,41.20 278.70,50.00 276.70,54.80" fill="#e8e8e8" stroke="#111" stroke-width="0.75"/>
<rect x="282.60" y="46.00" width="8.85" height="8.80" fill="#1f7f40"/>
<polygon points="282.60,46.00 291.45,46.00 293.45,41.20 284.60,41.20" fill="#e4e4e4" stroke="#111" stroke-width="0.75"/>
<text x="284.03" y="53.19" font-size="8.2" textLength="6.0" lengthAdjust="spacingAndGlyphs" font-weight="bold" fill="#000" stroke="#000" stroke-width="0.35" style="font-family:'Liberation Serif', serif">A</text>
<rect x="282.60" y="46.00" width="8.85" height="8.80" fill="none" stroke="#111" stroke-width="0.75"/>
<rect x="291.45" y="46.00" width="8.85" height="8.80" fill="#9d2e72"/>
<polygon points="291.45,46.00 300.30,46.00 302.30,41.20 293.45,41.20" fill="#e4e4e4" stroke="#111" stroke-width="0.75"/>
<text x="293.28" y="53.19" font-size="8.2" textLength="5.2" lengthAdjust="spacingAndGlyphs" font-weight="bold" fill="#000" stroke="#000" stroke-width="0.35" style="font-family:'Liberation Serif', serif">C</text>
<rect x="291.45" y="46.00" width="8.85" height="8.80" fill="none" stroke="#111" stroke-width="0.75"/>
<defs><linearGradient id="fd382" x1="0" x2="1" y1="0" y2="0"><stop offset="0" stop-color="#fff" stop-opacity="0.15"/><stop offset="0.45" stop-color="#fff" stop-opacity="0.8"/><stop offset="1" stop-color="#fff" stop-opacity="1"/></linearGradient></defs>
<rect x="292.95" y="40.70" width="10.85" height="15.10" fill="url(#fd382)"/>
<rect x="156.10" y="78.60" width="8.85" height="8.80" fill="#66bade"/>
<polygon points="156.10,78.60 164.95,78.60 166.95,73.80 158.10,73.80" fill="#e4e4e4" stroke="#111" stroke-width="0.75"/>
<text x="157.62" y="85.79" font-size="8.2" textLength="5.8" lengthAdjust="spacingAndGlyphs" font-weight="bold" fill="#000" stroke="#000" stroke-width="0.35" style="font-family:'Liberation Serif', serif">G</text>
<rect x="156.10" y="78.60" width="8.85" height="8.80" fill="none" stroke="#111" stroke-width="0.75"/>
<rect x="164.95" y="78.60" width="8.85" height="8.80" fill="#5a57a5"/>
<polygon points="164.95,78.60 173.80,78.60 175.80,73.80 166.95,73.80" fill="#e4e4e4" stroke="#111" stroke-width="0.75"/>
<text x="166.68" y="85.79" font-size="8.2" textLength="5.4" lengthAdjust="spacingAndGlyphs" font-weight="bold" fill="#000" stroke="#000" stroke-width="0.35" style="font-family:'Liberation Serif', serif">T</text>
<rect x="164.95" y="78.60" width="8.85" height="8.80" fill="none" stroke="#111" stroke-width="0.75"/>
<defs><linearGradient id="fd392" x1="0" x2="1" y1="0" y2="0"><stop offset="0" stop-color="#fff" stop-opacity="1"/><stop offset="0.55" stop-color="#fff" stop-opacity="0.8"/><stop offset="1" stop-color="#fff" stop-opacity="0.15"/></linearGradient></defs>
<rect x="154.60" y="73.30" width="10.35" height="15.10" fill="url(#fd392)"/>
<polygon points="173.80,78.60 175.80,73.80 175.80,82.60 173.80,87.40" fill="#e8e8e8" stroke="#111" stroke-width="0.75"/>
<rect x="178.90" y="78.60" width="8.85" height="8.80" fill="#1f7f40"/>
<polygon points="178.90,78.60 187.75,78.60 189.75,73.80 180.90,73.80" fill="#e4e4e4" stroke="#111" stroke-width="0.75"/>
<text x="180.33" y="85.79" font-size="8.2" textLength="6.0" lengthAdjust="spacingAndGlyphs" font-weight="bold" fill="#000" stroke="#000" stroke-width="0.35" style="font-family:'Liberation Serif', serif">A</text>
<rect x="178.90" y="78.60" width="8.85" height="8.80" fill="none" stroke="#111" stroke-width="0.75"/>
<rect x="187.75" y="78.60" width="8.85" height="8.80" fill="#1f7f40"/>
<polygon points="187.75,78.60 196.60,78.60 198.60,73.80 189.75,73.80" fill="#e4e4e4" stroke="#111" stroke-width="0.75"/>
<text x="189.18" y="85.79" font-size="8.2" textLength="6.0" lengthAdjust="spacingAndGlyphs" font-weight="bold" fill="#000" stroke="#000" stroke-width="0.35" style="font-family:'Liberation Serif', serif">A</text>
<rect x="187.75" y="78.60" width="8.85" height="8.80" fill="none" stroke="#111" stroke-width="0.75"/>
<rect x="196.60" y="78.60" width="8.85" height="8.80" fill="#9d2e72"/>
<polygon points="196.60,78.60 205.45,78.60 207.45,73.80 198.60,73.80" fill="#e4e4e4" stroke="#111" stroke-width="0.75"/>
<text x="198.43" y="85.79" font-size="8.2" textLength="5.2" lengthAdjust="spacingAndGlyphs" font-weight="bold" fill="#000" stroke="#000" stroke-width="0.35" style="font-family:'Liberation Serif', serif">C</text>
<rect x="196.60" y="78.60" width="8.85" height="8.80" fill="none" stroke="#111" stroke-width="0.75"/>
<polygon points="205.45,78.60 207.45,73.80 207.45,82.60 205.45,87.40" fill="#e8e8e8" stroke="#111" stroke-width="0.75"/>
<rect x="212.00" y="78.60" width="8.85" height="8.80" fill="#66bade"/>
<polygon points="212.00,78.60 220.85,78.60 222.85,73.80 214.00,73.80" fill="#e4e4e4" stroke="#111" stroke-width="0.75"/>
<text x="213.53" y="85.79" font-size="8.2" textLength="5.8" lengthAdjust="spacingAndGlyphs" font-weight="bold" fill="#000" stroke="#000" stroke-width="0.35" style="font-family:'Liberation Serif', serif">G</text>
<rect x="212.00" y="78.60" width="8.85" height="8.80" fill="none" stroke="#111" stroke-width="0.75"/>
<rect x="220.85" y="78.60" width="8.85" height="8.80" fill="#5a57a5"/>
<polygon points="220.85,78.60 229.70,78.60 231.70,73.80 222.85,73.80" fill="#e4e4e4" stroke="#111" stroke-width="0.75"/>
<text x="222.58" y="85.79" font-size="8.2" textLength="5.4" lengthAdjust="spacingAndGlyphs" font-weight="bold" fill="#000" stroke="#000" stroke-width="0.35" style="font-family:'Liberation Serif', serif">T</text>
<rect x="220.85" y="78.60" width="8.85" height="8.80" fill="none" stroke="#111" stroke-width="0.75"/>
<polygon points="229.70,78.60 231.70,73.80 231.70,82.60 229.70,87.40" fill="#e8e8e8" stroke="#111" stroke-width="0.75"/>
<rect x="234.50" y="78.60" width="8.85" height="8.80" fill="#9d2e72"/>
<polygon points="234.50,78.60 243.35,78.60 245.35,73.80 236.50,73.80" fill="#e4e4e4" stroke="#111" stroke-width="0.75"/>
<text x="236.33" y="85.79" font-size="8.2" textLength="5.2" lengthAdjust="spacingAndGlyphs" font-weight="bold" fill="#000" stroke="#000" stroke-width="0.35" style="font-family:'Liberation Serif', serif">C</text>
<rect x="234.50" y="78.60" width="8.85" height="8.80" fill="none" stroke="#111" stroke-width="0.75"/>
<rect x="243.35" y="78.60" width="8.85" height="8.80" fill="#9d2e72"/>
<polygon points="243.35,78.60 252.20,78.60 254.20,73.80 245.35,73.80" fill="#e4e4e4" stroke="#111" stroke-width="0.75"/>
<text x="245.18" y="85.79" font-size="8.2" textLength="5.2" lengthAdjust="spacingAndGlyphs" font-weight="bold" fill="#000" stroke="#000" stroke-width="0.35" style="font-family:'Liberation Serif', serif">C</text>
<rect x="243.35" y="78.60" width="8.85" height="8.80" fill="none" stroke="#111" stroke-width="0.75"/>
<polygon points="252.20,78.60 254.20,73.80 254.20,82.60 252.20,87.40" fill="#e8e8e8" stroke="#111" stroke-width="0.75"/>
<rect x="259.00" y="78.60" width="8.85" height="8.80" fill="#66bade"/>
<polygon points="259.00,78.60 267.85,78.60 269.85,73.80 261.00,73.80" fill="#e4e4e4" stroke="#111" stroke-width="0.75"/>
<text x="260.53" y="85.79" font-size="8.2" textLength="5.8" lengthAdjust="spacingAndGlyphs" font-weight="bold" fill="#000" stroke="#000" stroke-width="0.35" style="font-family:'Liberation Serif', serif">G</text>
<rect x="259.00" y="78.60" width="8.85" height="8.80" fill="none" stroke="#111" stroke-width="0.75"/>
<rect x="267.85" y="78.60" width="8.85" height="8.80" fill="#5a57a5"/>
<polygon points="267.85,78.60 276.70,78.60 278.70,73.80 269.85,73.80" fill="#e4e4e4" stroke="#111" stroke-width="0.75"/>
<text x="269.58" y="85.79" font-size="8.2" textLength="5.4" lengthAdjust="spacingAndGlyphs" font-weight="bold" fill="#000" stroke="#000" stroke-width="0.35" style="font-family:'Liberation Serif', serif">T</text>
<rect x="267.85" y="78.60" width="8.85" height="8.80" fill="none" stroke="#111" stroke-width="0.75"/>
<polygon points="276.70,78.60 278.70,73.80 278.70,82.60 276.70,87.40" fill="#e8e8e8" stroke="#111" stroke-width="0.75"/>
<rect x="282.60" y="78.60" width="8.85" height="8.80" fill="#1f7f40"/>
<polygon points="282.60,78.60 291.45,78.60 293.45,73.80 284.60,73.80" fill="#e4e4e4" stroke="#111" stroke-width="0.75"/>
<text x="284.03" y="85.79" font-size="8.2" textLength="6.0" lengthAdjust="spacingAndGlyphs" font-weight="bold" fill="#000" stroke="#000" stroke-width="0.35" style="font-family:'Liberation Serif', serif">A</text>
<rect x="282.60" y="78.60" width="8.85" height="8.80" fill="none" stroke="#111" stroke-width="0.75"/>
<rect x="291.45" y="78.60" width="8.85" height="8.80" fill="#9d2e72"/>
<polygon points="291.45,78.60 300.30,78.60 302.30,73.80 293.45,73.80" fill="#e4e4e4" stroke="#111" stroke-width="0.75"/>
<text x="293.28" y="85.79" font-size="8.2" textLength="5.2" lengthAdjust="spacingAndGlyphs" font-weight="bold" fill="#000" stroke="#000" stroke-width="0.35" style="font-family:'Liberation Serif', serif">C</text>
<rect x="291.45" y="78.60" width="8.85" height="8.80" fill="none" stroke="#111" stroke-width="0.75"/>
<defs><linearGradient id="fd443" x1="0" x2="1" y1="0" y2="0"><stop offset="0" stop-color="#fff" stop-opacity="0.15"/><stop offset="0.45" stop-color="#fff" stop-opacity="0.8"/><stop offset="1" stop-color="#fff" stop-opacity="1"/></linearGradient></defs>
<rect x="292.95" y="73.30" width="10.85" height="15.10" fill="url(#fd443)"/>
<rect x="169.74" y="112.80" width="8.76" height="8.80" fill="#66bade"/>
<polygon points="169.74,112.80 178.50,112.80 180.50,108.00 171.74,108.00" fill="#e4e4e4" stroke="#111" stroke-width="0.75"/>
<text x="171.22" y="119.99" font-size="8.2" textLength="5.8" lengthAdjust="spacingAndGlyphs" font-weight="bold" fill="#000" stroke="#000" stroke-width="0.35" style="font-family:'Liberation Serif', serif">G</text>
<rect x="169.74" y="112.80" width="8.76" height="8.80" fill="none" stroke="#111" stroke-width="0.75"/>
<rect x="178.50" y="112.80" width="8.76" height="8.80" fill="#5a57a5"/>
<polygon points="178.50,112.80 187.26,112.80 189.26,108.00 180.50,108.00" fill="#e4e4e4" stroke="#111" stroke-width="0.75"/>
<text x="180.18" y="119.99" font-size="8.2" textLength="5.4" lengthAdjust="spacingAndGlyphs" font-weight="bold" fill="#000" stroke="#000" stroke-width="0.35" style="font-family:'Liberation Serif', serif">T</text>
<rect x="178.50" y="112.80" width="8.76" height="8.80" fill="none" stroke="#111" stroke-width="0.75"/>
<rect x="187.26" y="112.80" width="8.76" height="8.80" fill="#1f7f40"/>
<polygon points="187.26,112.80 196.02,112.80 198.02,108.00 189.26,108.00" fill="#e4e4e4" stroke="#111" stroke-width="0.75"/>
<text x="188.64" y="119.99" font-size="8.2" textLength="6.0" lengthAdjust="spacingAndGlyphs" font-weight="bold" fill="#000" stroke="#000" stroke-width="0.35" style="font-family:'Liberation Serif', serif">A</text>
<rect x="187.26" y="112.80" width="8.76" height="8.80" fill="none" stroke="#111" stroke-width="0.75"/>
<rect x="196.02" y="112.80" width="8.76" height="8.80" fill="#1f7f40"/>
<polygon points="196.02,112.80 204.78,112.80 206.78,108.00 198.02,108.00" fill="#e4e4e4" stroke="#111" stroke-width="0.75"/>
<text x="197.40" y="119.99" font-size="8.2" textLength="6.0" lengthAdjust="spacingAndGlyphs" font-weight="bold" fill="#000" stroke="#000" stroke-width="0.35" style="font-family:'Liberation Serif', serif">A</text>
<rect x="196.02" y="112.80" width="8.76" height="8.80" fill="none" stroke="#111" stroke-width="0.75"/>
<rect x="204.78" y="112.80" width="8.76" height="8.80" fill="#9d2e72"/>
<polygon points="204.78,112.80 213.54,112.80 215.54,108.00 206.78,108.00" fill="#e4e4e4" stroke="#111" stroke-width="0.75"/>
<text x="206.56" y="119.99" font-size="8.2" textLength="5.2" lengthAdjust="spacingAndGlyphs" font-weight="bold" fill="#000" stroke="#000" stroke-width="0.35" style="font-family:'Liberation Serif', serif">C</text>
<rect x="204.78" y="112.80" width="8.76" height="8.80" fill="none" stroke="#111" stroke-width="0.75"/>
<rect x="213.54" y="112.80" width="8.76" height="8.80" fill="#66bade"/>
<polygon points="213.54,112.80 222.30,112.80 224.30,108.00 215.54,108.00" fill="#e4e4e4" stroke="#111" stroke-width="0.75"/>
<text x="215.02" y="119.99" font-size="8.2" textLength="5.8" lengthAdjust="spacingAndGlyphs" font-weight="bold" fill="#000" stroke="#000" stroke-width="0.35" style="font-family:'Liberation Serif', serif">G</text>
<rect x="213.54" y="112.80" width="8.76" height="8.80" fill="none" stroke="#111" stroke-width="0.75"/>
<rect x="222.30" y="112.80" width="8.76" height="8.80" fill="#5a57a5"/>
<polygon points="222.30,112.80 231.06,112.80 233.06,108.00 224.30,108.00" fill="#e4e4e4" stroke="#111" stroke-width="0.75"/>
<text x="223.98" y="119.99" font-size="8.2" textLength="5.4" lengthAdjust="spacingAndGlyphs" font-weight="bold" fill="#000" stroke="#000" stroke-width="0.35" style="font-family:'Liberation Serif', serif">T</text>
<rect x="222.30" y="112.80" width="8.76" height="8.80" fill="none" stroke="#111" stroke-width="0.75"/>
<rect x="231.06" y="112.80" width="8.76" height="8.80" fill="#9d2e72"/>
<polygon points="231.06,112.80 239.82,112.80 241.82,108.00 233.06,108.00" fill="#e4e4e4" stroke="#111" stroke-width="0.75"/>
<text x="232.84" y="119.99" font-size="8.2" textLength="5.2" lengthAdjust="spacingAndGlyphs" font-weight="bold" fill="#000" stroke="#000" stroke-width="0.35" style="font-family:'Liberation Serif', serif">C</text>
<rect x="231.06" y="112.80" width="8.76" height="8.80" fill="none" stroke="#111" stroke-width="0.75"/>
<rect x="239.82" y="112.80" width="8.76" height="8.80" fill="#9d2e72"/>
<polygon points="239.82,112.80 248.58,112.80 250.58,108.00 241.82,108.00" fill="#e4e4e4" stroke="#111" stroke-width="0.75"/>
<text x="241.60" y="119.99" font-size="8.2" textLength="5.2" lengthAdjust="spacingAndGlyphs" font-weight="bold" fill="#000" stroke="#000" stroke-width="0.35" style="font-family:'Liberation Serif', serif">C</text>
<rect x="239.82" y="112.80" width="8.76" height="8.80" fill="none" stroke="#111" stroke-width="0.75"/>
<rect x="248.58" y="112.80" width="8.76" height="8.80" fill="#66bade"/>
<polygon points="248.58,112.80 257.34,112.80 259.34,108.00 250.58,108.00" fill="#e4e4e4" stroke="#111" stroke-width="0.75"/>
<text x="250.06" y="119.99" font-size="8.2" textLength="5.8" lengthAdjust="spacingAndGlyphs" font-weight="bold" fill="#000" stroke="#000" stroke-width="0.35" style="font-family:'Liberation Serif', serif">G</text>
<rect x="248.58" y="112.80" width="8.76" height="8.80" fill="none" stroke="#111" stroke-width="0.75"/>
<rect x="257.34" y="112.80" width="8.76" height="8.80" fill="#5a57a5"/>
<polygon points="257.34,112.80 266.10,112.80 268.10,108.00 259.34,108.00" fill="#e4e4e4" stroke="#111" stroke-width="0.75"/>
<text x="259.02" y="119.99" font-size="8.2" textLength="5.4" lengthAdjust="spacingAndGlyphs" font-weight="bold" fill="#000" stroke="#000" stroke-width="0.35" style="font-family:'Liberation Serif', serif">T</text>
<rect x="257.34" y="112.80" width="8.76" height="8.80" fill="none" stroke="#111" stroke-width="0.75"/>
<rect x="266.10" y="112.80" width="8.76" height="8.80" fill="#1f7f40"/>
<polygon points="266.10,112.80 274.86,112.80 276.86,108.00 268.10,108.00" fill="#e4e4e4" stroke="#111" stroke-width="0.75"/>
<text x="267.48" y="119.99" font-size="8.2" textLength="6.0" lengthAdjust="spacingAndGlyphs" font-weight="bold" fill="#000" stroke="#000" stroke-width="0.35" style="font-family:'Liberation Serif', serif">A</text>
<rect x="266.10" y="112.80" width="8.76" height="8.80" fill="none" stroke="#111" stroke-width="0.75"/>
<rect x="274.86" y="112.80" width="8.76" height="8.80" fill="#9d2e72"/>
<polygon points="274.86,112.80 283.62,112.80 285.62,108.00 276.86,108.00" fill="#e4e4e4" stroke="#111" stroke-width="0.75"/>
<text x="276.64" y="119.99" font-size="8.2" textLength="5.2" lengthAdjust="spacingAndGlyphs" font-weight="bold" fill="#000" stroke="#000" stroke-width="0.35" style="font-family:'Liberation Serif', serif">C</text>
<rect x="274.86" y="112.80" width="8.76" height="8.80" fill="none" stroke="#111" stroke-width="0.75"/>
<defs><linearGradient id="fd497" x1="0" x2="1" y1="0" y2="0"><stop offset="0" stop-color="#fff" stop-opacity="1"/><stop offset="0.55" stop-color="#fff" stop-opacity="0.8"/><stop offset="1" stop-color="#fff" stop-opacity="0.15"/></linearGradient></defs>
<rect x="168.24" y="107.50" width="10.26" height="15.10" fill="url(#fd497)"/>
<defs><linearGradient id="fd499" x1="0" x2="1" y1="0" y2="0"><stop offset="0" stop-color="#fff" stop-opacity="0.15"/><stop offset="0.45" stop-color="#fff" stop-opacity="0.8"/><stop offset="1" stop-color="#fff" stop-opacity="1"/></linearGradient></defs>
<rect x="276.36" y="107.50" width="10.76" height="15.10" fill="url(#fd499)"/>
<line x1="211.30" y1="26.30" x2="211.30" y2="34.90" stroke="#4a5a7a" stroke-width="0.8"/>
<polygon points="211.30,37.40 209.70,34.40 212.90,34.40" fill="#4a5a7a" stroke="none" stroke-width="0.5"/>
<text x="217.90" y="35.40" font-size="8.6" text-anchor="start" font-weight="normal" font-style="normal" fill="#333">Split</text>
<line x1="212.40" y1="59.30" x2="212.40" y2="68.90" stroke="#4a5a7a" stroke-width="0.8"/>
<polygon points="212.40,71.40 210.80,68.40 214.00,68.40" fill="#4a5a7a" stroke="none" stroke-width="0.5"/>
<text x="218.00" y="68.10" font-size="8.6" text-anchor="start" font-weight="normal" font-style="normal" fill="#333">Sort</text>
<line x1="212.40" y1="93.00" x2="212.40" y2="101.80" stroke="#4a5a7a" stroke-width="0.8"/>
<polygon points="212.40,104.30 210.80,101.30 214.00,101.30" fill="#4a5a7a" stroke="none" stroke-width="0.5"/>
<text x="218.00" y="101.20" font-size="8.6" text-anchor="start" font-weight="normal" font-style="normal" fill="#333">Rejoin</text>
<line x1="75.00" y1="130.50" x2="124.32" y2="152.87" stroke="#4a5a7a" stroke-width="0.8"/>
<polygon points="126.60,153.90 123.21,154.12 124.53,151.20" fill="#4a5a7a" stroke="none" stroke-width="0.5"/>
<line x1="198.00" y1="130.50" x2="148.68" y2="152.87" stroke="#4a5a7a" stroke-width="0.8"/>
<polygon points="146.40,153.90 148.47,151.20 149.79,154.12" fill="#4a5a7a" stroke="none" stroke-width="0.5"/>
<text x="139.40" y="146.40" font-size="8.6" text-anchor="middle" font-weight="normal" font-style="normal" fill="#333">Alignment</text>
<rect x="83.30" y="163.00" width="8.63" height="8.80" fill="#66bade"/>
<polygon points="83.30,163.00 91.93,163.00 93.93,158.20 85.30,158.20" fill="#e4e4e4" stroke="#111" stroke-width="0.75"/>
<text x="84.71" y="170.19" font-size="8.2" textLength="5.8" lengthAdjust="spacingAndGlyphs" font-weight="bold" fill="#000" stroke="#000" stroke-width="0.35" style="font-family:'Liberation Serif', serif">G</text>
<rect x="83.30" y="163.00" width="8.63" height="8.80" fill="none" stroke="#111" stroke-width="0.75"/>
<rect x="91.93" y="163.00" width="8.63" height="8.80" fill="#5a57a5"/>
<polygon points="91.93,163.00 100.56,163.00 102.56,158.20 93.93,158.20" fill="#e4e4e4" stroke="#111" stroke-width="0.75"/>
<text x="93.54" y="170.19" font-size="8.2" textLength="5.4" lengthAdjust="spacingAndGlyphs" font-weight="bold" fill="#000" stroke="#000" stroke-width="0.35" style="font-family:'Liberation Serif', serif">T</text>
<rect x="91.93" y="163.00" width="8.63" height="8.80" fill="none" stroke="#111" stroke-width="0.75"/>
<rect x="100.56" y="163.00" width="8.63" height="8.80" fill="#1f7f40"/>
<polygon points="100.56,163.00 109.19,163.00 111.19,158.20 102.56,158.20" fill="#e4e4e4" stroke="#111" stroke-width="0.75"/>
<text x="101.88" y="170.19" font-size="8.2" textLength="6.0" lengthAdjust="spacingAndGlyphs" font-weight="bold" fill="#000" stroke="#000" stroke-width="0.35" style="font-family:'Liberation Serif', serif">A</text>
<rect x="100.56" y="163.00" width="8.63" height="8.80" fill="none" stroke="#111" stroke-width="0.75"/>
<rect x="109.19" y="163.00" width="8.63" height="8.80" fill="#1f7f40"/>
<polygon points="109.19,163.00 117.82,163.00 119.82,158.20 111.19,158.20" fill="#e4e4e4" stroke="#111" stroke-width="0.75"/>
<text x="110.50" y="170.19" font-size="8.2" textLength="6.0" lengthAdjust="spacingAndGlyphs" font-weight="bold" fill="#000" stroke="#000" stroke-width="0.35" style="font-family:'Liberation Serif', serif">A</text>
<rect x="109.19" y="163.00" width="8.63" height="8.80" fill="none" stroke="#111" stroke-width="0.75"/>
<rect x="117.82" y="163.00" width="8.63" height="8.80" fill="#9d2e72"/>
<polygon points="117.82,163.00 126.45,163.00 128.45,158.20 119.82,158.20" fill="#e4e4e4" stroke="#111" stroke-width="0.75"/>
<text x="119.53" y="170.19" font-size="8.2" textLength="5.2" lengthAdjust="spacingAndGlyphs" font-weight="bold" fill="#000" stroke="#000" stroke-width="0.35" style="font-family:'Liberation Serif', serif">C</text>
<rect x="117.82" y="163.00" width="8.63" height="8.80" fill="none" stroke="#111" stroke-width="0.75"/>
<rect x="126.45" y="163.00" width="8.63" height="8.80" fill="#66bade"/>
<polygon points="126.45,163.00 135.08,163.00 137.08,158.20 128.45,158.20" fill="#e4e4e4" stroke="#111" stroke-width="0.75"/>
<text x="127.87" y="170.19" font-size="8.2" textLength="5.8" lengthAdjust="spacingAndGlyphs" font-weight="bold" fill="#000" stroke="#000" stroke-width="0.35" style="font-family:'Liberation Serif', serif">G</text>
<rect x="126.45" y="163.00" width="8.63" height="8.80" fill="none" stroke="#111" stroke-width="0.75"/>
<rect x="135.08" y="163.00" width="8.63" height="8.80" fill="#5a57a5"/>
<polygon points="135.08,163.00 143.71,163.00 145.71,158.20 137.08,158.20" fill="#e4e4e4" stroke="#111" stroke-width="0.75"/>
<text x="136.69" y="170.19" font-size="8.2" textLength="5.4" lengthAdjust="spacingAndGlyphs" font-weight="bold" fill="#000" stroke="#000" stroke-width="0.35" style="font-family:'Liberation Serif', serif">T</text>
<rect x="135.08" y="163.00" width="8.63" height="8.80" fill="none" stroke="#111" stroke-width="0.75"/>
<rect x="143.71" y="163.00" width="8.63" height="8.80" fill="#9d2e72"/>
<polygon points="143.71,163.00 152.34,163.00 154.34,158.20 145.71,158.20" fill="#e4e4e4" stroke="#111" stroke-width="0.75"/>
<text x="145.43" y="170.19" font-size="8.2" textLength="5.2" lengthAdjust="spacingAndGlyphs" font-weight="bold" fill="#000" stroke="#000" stroke-width="0.35" style="font-family:'Liberation Serif', serif">C</text>
<rect x="143.71" y="163.00" width="8.63" height="8.80" fill="none" stroke="#111" stroke-width="0.75"/>
<rect x="152.34" y="163.00" width="8.63" height="8.80" fill="#9d2e72"/>
<polygon points="152.34,163.00 160.97,163.00 162.97,158.20 154.34,158.20" fill="#e4e4e4" stroke="#111" stroke-width="0.75"/>
<text x="154.06" y="170.19" font-size="8.2" textLength="5.2" lengthAdjust="spacingAndGlyphs" font-weight="bold" fill="#000" stroke="#000" stroke-width="0.35" style="font-family:'Liberation Serif', serif">C</text>
<rect x="152.34" y="163.00" width="8.63" height="8.80" fill="none" stroke="#111" stroke-width="0.75"/>
<rect x="160.97" y="163.00" width="8.63" height="8.80" fill="#66bade"/>
<polygon points="160.97,163.00 169.60,163.00 171.60,158.20 162.97,158.20" fill="#e4e4e4" stroke="#111" stroke-width="0.75"/>
<text x="162.38" y="170.19" font-size="8.2" textLength="5.8" lengthAdjust="spacingAndGlyphs" font-weight="bold" fill="#000" stroke="#000" stroke-width="0.35" style="font-family:'Liberation Serif', serif">G</text>
<rect x="160.97" y="163.00" width="8.63" height="8.80" fill="none" stroke="#111" stroke-width="0.75"/>
<rect x="169.60" y="163.00" width="8.63" height="8.80" fill="#5a57a5"/>
<polygon points="169.60,163.00 178.23,163.00 180.23,158.20 171.60,158.20" fill="#e4e4e4" stroke="#111" stroke-width="0.75"/>
<text x="171.22" y="170.19" font-size="8.2" textLength="5.4" lengthAdjust="spacingAndGlyphs" font-weight="bold" fill="#000" stroke="#000" stroke-width="0.35" style="font-family:'Liberation Serif', serif">T</text>
<rect x="169.60" y="163.00" width="8.63" height="8.80" fill="none" stroke="#111" stroke-width="0.75"/>
<rect x="178.23" y="163.00" width="8.63" height="8.80" fill="#1f7f40"/>
<polygon points="178.23,163.00 186.86,163.00 188.86,158.20 180.23,158.20" fill="#e4e4e4" stroke="#111" stroke-width="0.75"/>
<text x="179.55" y="170.19" font-size="8.2" textLength="6.0" lengthAdjust="spacingAndGlyphs" font-weight="bold" fill="#000" stroke="#000" stroke-width="0.35" style="font-family:'Liberation Serif', serif">A</text>
<rect x="178.23" y="163.00" width="8.63" height="8.80" fill="none" stroke="#111" stroke-width="0.75"/>
<rect x="186.86" y="163.00" width="8.63" height="8.80" fill="#9d2e72"/>
<polygon points="186.86,163.00 195.49,163.00 197.49,158.20 188.86,158.20" fill="#e4e4e4" stroke="#111" stroke-width="0.75"/>
<text x="188.58" y="170.19" font-size="8.2" textLength="5.2" lengthAdjust="spacingAndGlyphs" font-weight="bold" fill="#000" stroke="#000" stroke-width="0.35" style="font-family:'Liberation Serif', serif">C</text>
<rect x="186.86" y="163.00" width="8.63" height="8.80" fill="none" stroke="#111" stroke-width="0.75"/>
<defs><linearGradient id="fd567" x1="0" x2="1" y1="0" y2="0"><stop offset="0" stop-color="#fff" stop-opacity="1"/><stop offset="0.55" stop-color="#fff" stop-opacity="0.8"/><stop offset="1" stop-color="#fff" stop-opacity="0.15"/></linearGradient></defs>
<rect x="81.80" y="157.70" width="10.13" height="15.10" fill="url(#fd567)"/>
<defs><linearGradient id="fd569" x1="0" x2="1" y1="0" y2="0"><stop offset="0" stop-color="#fff" stop-opacity="0.15"/><stop offset="0.45" stop-color="#fff" stop-opacity="0.8"/><stop offset="1" stop-color="#fff" stop-opacity="1"/></linearGradient></defs>
<rect x="188.36" y="157.70" width="10.63" height="15.10" fill="url(#fd569)"/>
<rect x="98.40" y="176.50" width="8.65" height="8.80" fill="#9d2e72"/>
<rect x="99.00" y="177.10" width="6.65" height="6.90" fill="#1f7f40"/>
<polygon points="98.40,176.50 107.05,176.50 109.05,172.60 100.40,172.60" fill="#1f7f40" stroke="#111" stroke-width="0.75"/>
<line x1="101.53" y1="175.15" x2="105.93" y2="173.95" stroke="#ffffff88" stroke-width="0.7"/>
<text x="99.63" y="183.69" font-size="8.2" textLength="6.2" lengthAdjust="spacingAndGlyphs" font-weight="bold" fill="#000" stroke="#000" stroke-width="0.35" style="font-family:'Liberation Serif', serif">M</text>
<rect x="98.40" y="176.50" width="8.65" height="8.80" fill="none" stroke="#111" stroke-width="0.75"/>
<rect x="107.05" y="176.50" width="8.65" height="8.80" fill="#9d2e72"/>
<rect x="107.65" y="177.10" width="6.65" height="6.90" fill="#1f7f40"/>
<polygon points="107.05,176.50 115.70,176.50 117.70,172.60 109.05,172.60" fill="#1f7f40" stroke="#111" stroke-width="0.75"/>
<line x1="110.18" y1="175.15" x2="114.58" y2="173.95" stroke="#ffffff88" stroke-width="0.7"/>
<text x="108.28" y="183.69" font-size="8.2" textLength="6.2" lengthAdjust="spacingAndGlyphs" font-weight="bold" fill="#000" stroke="#000" stroke-width="0.35" style="font-family:'Liberation Serif', serif">M</text>
<rect x="107.05" y="176.50" width="8.65" height="8.80" fill="none" stroke="#111" stroke-width="0.75"/>
<rect x="115.70" y="176.50" width="8.65" height="8.80" fill="#9d2e72"/>
<rect x="116.30" y="177.10" width="6.65" height="6.90" fill="#1f7f40"/>
<polygon points="115.70,176.50 124.35,176.50 126.35,172.60 117.70,172.60" fill="#9d2e72" stroke="#111" stroke-width="0.75"/>
<line x1="118.83" y1="175.15" x2="123.23" y2="173.95" stroke="#ffffff88" stroke-width="0.7"/>
<text x="116.93" y="183.69" font-size="8.2" textLength="6.2" lengthAdjust="spacingAndGlyphs" font-weight="bold" fill="#000" stroke="#000" stroke-width="0.35" style="font-family:'Liberation Serif', serif">M</text>
<rect x="115.70" y="176.50" width="8.65" height="8.80" fill="none" stroke="#111" stroke-width="0.75"/>
<rect x="124.35" y="176.50" width="8.65" height="8.80" fill="#5a57a5"/>
<rect x="124.95" y="177.10" width="6.65" height="6.90" fill="#66bade"/>
<polygon points="124.35,176.50 133.00,176.50 135.00,172.60 126.35,172.60" fill="#66bade" stroke="#111" stroke-width="0.75"/>
<line x1="127.48" y1="175.15" x2="131.88" y2="173.95" stroke="#ffffff88" stroke-width="0.7"/>
<text x="125.78" y="183.69" font-size="8.2" textLength="5.8" lengthAdjust="spacingAndGlyphs" font-weight="bold" fill="#000" stroke="#000" stroke-width="0.35" style="font-family:'Liberation Serif', serif">K</text>
<rect x="124.35" y="176.50" width="8.65" height="8.80" fill="none" stroke="#111" stroke-width="0.75"/>
<rect x="133.00" y="176.50" width="8.65" height="8.80" fill="#5a57a5"/>
<rect x="133.60" y="177.10" width="6.65" height="6.90" fill="#66bade"/>
<polygon points="133.00,176.50 141.65,176.50 143.65,172.60 135.00,172.60" fill="#5a57a5" stroke="#111" stroke-width="0.75"/>
<line x1="136.12" y1="175.15" x2="140.52" y2="173.95" stroke="#ffffff88" stroke-width="0.7"/>
<text x="134.42" y="183.69" font-size="8.2" textLength="5.8" lengthAdjust="spacingAndGlyphs" font-weight="bold" fill="#000" stroke="#000" stroke-width="0.35" style="font-family:'Liberation Serif', serif">K</text>
<rect x="133.00" y="176.50" width="8.65" height="8.80" fill="none" stroke="#111" stroke-width="0.75"/>
<rect x="141.65" y="176.50" width="8.65" height="8.80" fill="#9d2e72"/>
<rect x="142.25" y="177.10" width="6.65" height="6.90" fill="#1f7f40"/>
<polygon points="141.65,176.50 150.30,176.50 152.30,172.60 143.65,172.60" fill="#9d2e72" stroke="#111" stroke-width="0.75"/>
<line x1="144.78" y1="175.15" x2="149.17" y2="173.95" stroke="#ffffff88" stroke-width="0.7"/>
<text x="142.88" y="183.69" font-size="8.2" textLength="6.2" lengthAdjust="spacingAndGlyphs" font-weight="bold" fill="#000" stroke="#000" stroke-width="0.35" style="font-family:'Liberation Serif', serif">M</text>
<rect x="141.65" y="176.50" width="8.65" height="8.80" fill="none" stroke="#111" stroke-width="0.75"/>
<rect x="150.30" y="176.50" width="8.65" height="8.80" fill="#9d2e72"/>
<rect x="150.90" y="177.10" width="6.65" height="6.90" fill="#1f7f40"/>
<polygon points="150.30,176.50 158.95,176.50 160.95,172.60 152.30,172.60" fill="#9d2e72" stroke="#111" stroke-width="0.75"/>
<line x1="153.43" y1="175.15" x2="157.82" y2="173.95" stroke="#ffffff88" stroke-width="0.7"/>
<text x="151.53" y="183.69" font-size="8.2" textLength="6.2" lengthAdjust="spacingAndGlyphs" font-weight="bold" fill="#000" stroke="#000" stroke-width="0.35" style="font-family:'Liberation Serif', serif">M</text>
<rect x="150.30" y="176.50" width="8.65" height="8.80" fill="none" stroke="#111" stroke-width="0.75"/>
<rect x="158.95" y="176.50" width="8.65" height="8.80" fill="#5a57a5"/>
<rect x="159.55" y="177.10" width="6.65" height="6.90" fill="#66bade"/>
<polygon points="158.95,176.50 167.60,176.50 169.60,172.60 160.95,172.60" fill="#66bade" stroke="#111" stroke-width="0.75"/>
<line x1="162.08" y1="175.15" x2="166.47" y2="173.95" stroke="#ffffff88" stroke-width="0.7"/>
<text x="160.38" y="183.69" font-size="8.2" textLength="5.8" lengthAdjust="spacingAndGlyphs" font-weight="bold" fill="#000" stroke="#000" stroke-width="0.35" style="font-family:'Liberation Serif', serif">K</text>
<rect x="158.95" y="176.50" width="8.65" height="8.80" fill="none" stroke="#111" stroke-width="0.75"/>
<rect x="167.60" y="176.50" width="8.65" height="8.80" fill="#5a57a5"/>
<rect x="168.20" y="177.10" width="6.65" height="6.90" fill="#66bade"/>
<polygon points="167.60,176.50 176.25,176.50 178.25,172.60 169.60,172.60" fill="#5a57a5" stroke="#111" stroke-width="0.75"/>
<line x1="170.73" y1="175.15" x2="175.12" y2="173.95" stroke="#ffffff88" stroke-width="0.7"/>
<text x="169.03" y="183.69" font-size="8.2" textLength="5.8" lengthAdjust="spacingAndGlyphs" font-weight="bold" fill="#000" stroke="#000" stroke-width="0.35" style="font-family:'Liberation Serif', serif">K</text>
<rect x="167.60" y="176.50" width="8.65" height="8.80" fill="none" stroke="#111" stroke-width="0.75"/>
<polygon points="176.25,176.50 178.25,172.60 178.25,181.40 176.25,185.30" fill="#e8e8e8" stroke="#111" stroke-width="0.75"/>
<polyline points="181.60,178.40 185.20,181.60 191.60,175.00" fill="none" stroke="#27a844" stroke-width="2.0" stroke-linejoin="round"/>
<text x="393.40" y="28.60" font-size="9.0" text-anchor="middle" font-weight="normal" font-style="normal" fill="#333">DNA</text>
<text x="498.80" y="28.40" font-size="9.0" text-anchor="middle" font-weight="normal" font-style="normal" fill="#333">BitSeq</text>
<text x="609.50" y="28.40" font-size="9.0" text-anchor="middle" font-weight="normal" font-style="normal" fill="#333">SuperBitSeq</text>
<text x="349.60" y="42.90" font-size="8.6" text-anchor="end" font-weight="normal" font-style="normal" fill="#333">C&gt;G</text>
<text x="349.60" y="62.80" font-size="8.6" text-anchor="end" font-weight="normal" font-style="normal" fill="#333">Reference</text>
<line x1="368.95" y1="45.90" x2="368.95" y2="53.20" stroke="#a05bbf" stroke-width="1.2"/>
<line x1="378.25" y1="45.90" x2="378.25" y2="53.20" stroke="#6fcfe0" stroke-width="1.2"/>
<line x1="387.55" y1="45.90" x2="387.55" y2="53.20" stroke="#7ac143" stroke-width="1.2"/>
<line x1="406.15" y1="45.90" x2="406.15" y2="53.20" stroke="#e8352b" stroke-width="1.2"/>
<line x1="415.45" y1="45.90" x2="415.45" y2="53.20" stroke="#6fcfe0" stroke-width="1.2"/>
<line x1="424.75" y1="45.90" x2="424.75" y2="53.20" stroke="#a05bbf" stroke-width="1.2"/>
<rect x="364.30" y="37.90" width="9.30" height="9.30" fill="#5a57a5"/>
<polygon points="364.30,37.90 373.60,37.90 375.60,33.10 366.30,33.10" fill="#e4e4e4" stroke="#111" stroke-width="0.75"/>
<text x="366.25" y="45.34" font-size="8.2" textLength="5.4" lengthAdjust="spacingAndGlyphs" font-weight="bold" fill="#000" stroke="#000" stroke-width="0.35" style="font-family:'Liberation Serif', serif">T</text>
<rect x="364.30" y="37.90" width="9.30" height="9.30" fill="none" stroke="#111" stroke-width="0.75"/>
<rect x="373.60" y="37.90" width="9.30" height="9.30" fill="#66bade"/>
<polygon points="373.60,37.90 382.90,37.90 384.90,33.10 375.60,33.10" fill="#e4e4e4" stroke="#111" stroke-width="0.75"/>
<text x="375.35" y="45.34" font-size="8.2" textLength="5.8" lengthAdjust="spacingAndGlyphs" font-weight="bold" fill="#000" stroke="#000" stroke-width="0.35" style="font-family:'Liberation Serif', serif">G</text>
<rect x="373.60" y="37.90" width="9.30" height="9.30" fill="none" stroke="#111" stroke-width="0.75"/>
<rect x="382.90" y="37.90" width="9.30" height="9.30" fill="#1f7f40"/>
<polygon points="382.90,37.90 392.20,37.90 394.20,33.10 384.90,33.10" fill="#e4e4e4" stroke="#111" stroke-width="0.75"/>
<text x="384.55" y="45.34" font-size="8.2" textLength="6.0" lengthAdjust="spacingAndGlyphs" font-weight="bold" fill="#000" stroke="#000" stroke-width="0.35" style="font-family:'Liberation Serif', serif">A</text>
<rect x="382.90" y="37.90" width="9.30" height="9.30" fill="none" stroke="#111" stroke-width="0.75"/>
<rect x="392.20" y="37.90" width="9.30" height="9.30" fill="#66bade"/>
<polygon points="392.20,37.90 401.50,37.90 403.50,33.10 394.20,33.10" fill="#e4e4e4" stroke="#111" stroke-width="0.75"/>
<text x="393.95" y="45.34" font-size="8.2" textLength="5.8" lengthAdjust="spacingAndGlyphs" font-weight="bold" fill="#000" stroke="#000" stroke-width="0.35" style="font-family:'Liberation Serif', serif">G</text>
<rect x="392.20" y="37.90" width="9.30" height="9.30" fill="none" stroke="#111" stroke-width="0.75"/>
<rect x="401.50" y="37.90" width="9.30" height="9.30" fill="#9d2e72"/>
<polygon points="401.50,37.90 410.80,37.90 412.80,33.10 403.50,33.10" fill="#e4e4e4" stroke="#111" stroke-width="0.75"/>
<text x="403.55" y="45.34" font-size="8.2" textLength="5.2" lengthAdjust="spacingAndGlyphs" font-weight="bold" fill="#000" stroke="#000" stroke-width="0.35" style="font-family:'Liberation Serif', serif">C</text>
<rect x="401.50" y="37.90" width="9.30" height="9.30" fill="none" stroke="#111" stroke-width="0.75"/>
<rect x="410.80" y="37.90" width="9.30" height="9.30" fill="#66bade"/>
<polygon points="410.80,37.90 420.10,37.90 422.10,33.10 412.80,33.10" fill="#e4e4e4" stroke="#111" stroke-width="0.75"/>
<text x="412.55" y="45.34" font-size="8.2" textLength="5.8" lengthAdjust="spacingAndGlyphs" font-weight="bold" fill="#000" stroke="#000" stroke-width="0.35" style="font-family:'Liberation Serif', serif">G</text>
<rect x="410.80" y="37.90" width="9.30" height="9.30" fill="none" stroke="#111" stroke-width="0.75"/>
<rect x="420.10" y="37.90" width="9.30" height="9.30" fill="#5a57a5"/>
<polygon points="420.10,37.90 429.40,37.90 431.40,33.10 422.10,33.10" fill="#e4e4e4" stroke="#111" stroke-width="0.75"/>
<text x="422.05" y="45.34" font-size="8.2" textLength="5.4" lengthAdjust="spacingAndGlyphs" font-weight="bold" fill="#000" stroke="#000" stroke-width="0.35" style="font-family:'Liberation Serif', serif">T</text>
<rect x="420.10" y="37.90" width="9.30" height="9.30" fill="none" stroke="#111" stroke-width="0.75"/>
<polygon points="429.40,37.90 431.40,33.10 431.40,42.40 429.40,47.20" fill="#e8e8e8" stroke="#111" stroke-width="0.75"/>
<rect x="354.60" y="57.80" width="9.30" height="9.50" fill="#1f7f40"/>
<polygon points="354.60,57.80 363.90,57.80 365.90,53.00 356.60,53.00" fill="#e4e4e4" stroke="#111" stroke-width="0.75"/>
<text x="356.25" y="65.34" font-size="8.2" textLength="6.0" lengthAdjust="spacingAndGlyphs" font-weight="bold" fill="#000" stroke="#000" stroke-width="0.35" style="font-family:'Liberation Serif', serif">A</text>
<rect x="354.60" y="57.80" width="9.30" height="9.50" fill="none" stroke="#111" stroke-width="0.75"/>
<rect x="363.90" y="57.80" width="9.30" height="9.50" fill="#5a57a5"/>
<polygon points="363.90,57.80 373.20,57.80 375.20,53.00 365.90,53.00" fill="#e4e4e4" stroke="#111" stroke-width="0.75"/>
<text x="365.85" y="65.34" font-size="8.2" textLength="5.4" lengthAdjust="spacingAndGlyphs" font-weight="bold" fill="#000" stroke="#000" stroke-width="0.35" style="font-family:'Liberation Serif', serif">T</text>
<rect x="363.90" y="57.80" width="9.30" height="9.50" fill="none" stroke="#111" stroke-width="0.75"/>
<rect x="373.20" y="57.80" width="9.30" height="9.50" fill="#66bade"/>
<polygon points="373.20,57.80 382.50,57.80 384.50,53.00 375.20,53.00" fill="#e4e4e4" stroke="#111" stroke-width="0.75"/>
<text x="374.95" y="65.34" font-size="8.2" textLength="5.8" lengthAdjust="spacingAndGlyphs" font-weight="bold" fill="#000" stroke="#000" stroke-width="0.35" style="font-family:'Liberation Serif', serif">G</text>
<rect x="373.20" y="57.80" width="9.30" height="9.50" fill="none" stroke="#111" stroke-width="0.75"/>
<rect x="382.50" y="57.80" width="9.30" height="9.50" fill="#1f7f40"/>
<polygon points="382.50,57.80 391.80,57.80 393.80,53.00 384.50,53.00" fill="#e4e4e4" stroke="#111" stroke-width="0.75"/>
<text x="384.15" y="65.34" font-size="8.2" textLength="6.0" lengthAdjust="spacingAndGlyphs" font-weight="bold" fill="#000" stroke="#000" stroke-width="0.35" style="font-family:'Liberation Serif', serif">A</text>
<rect x="382.50" y="57.80" width="9.30" height="9.50" fill="none" stroke="#111" stroke-width="0.75"/>
<rect x="391.80" y="57.80" width="9.30" height="9.50" fill="#9d2e72"/>
<polygon points="391.80,57.80 401.10,57.80 403.10,53.00 393.80,53.00" fill="#e4e4e4" stroke="#111" stroke-width="0.75"/>
<text x="393.85" y="65.34" font-size="8.2" textLength="5.2" lengthAdjust="spacingAndGlyphs" font-weight="bold" fill="#000" stroke="#000" stroke-width="0.35" style="font-family:'Liberation Serif', serif">C</text>
<rect x="391.80" y="57.80" width="9.30" height="9.50" fill="none" stroke="#111" stroke-width="0.75"/>
<rect x="401.10" y="57.80" width="9.30" height="9.50" fill="#9d2e72"/>
<polygon points="401.10,57.80 410.40,57.80 412.40,53.00 403.10,53.00" fill="#e4e4e4" stroke="#111" stroke-width="0.75"/>
<text x="403.15" y="65.34" font-size="8.2" textLength="5.2" lengthAdjust="spacingAndGlyphs" font-weight="bold" fill="#000" stroke="#000" stroke-width="0.35" style="font-family:'Liberation Serif', serif">C</text>
<rect x="401.10" y="57.80" width="9.30" height="9.50" fill="none" stroke="#111" stroke-width="0.75"/>
<rect x="410.40" y="57.80" width="9.30" height="9.50" fill="#66bade"/>
<polygon points="410.40,57.80 419.70,57.80 421.70,53.00 412.40,53.00" fill="#e4e4e4" stroke="#111" stroke-width="0.75"/>
<text x="412.15" y="65.34" font-size="8.2" textLength="5.8" lengthAdjust="spacingAndGlyphs" font-weight="bold" fill="#000" stroke="#000" stroke-width="0.35" style="font-family:'Liberation Serif', serif">G</text>
<rect x="410.40" y="57.80" width="9.30" height="9.50" fill="none" stroke="#111" stroke-width="0.75"/>
<rect x="419.70" y="57.80" width="9.30" height="9.50" fill="#5a57a5"/>
<polygon points="419.70,57.80 429.00,57.80 431.00,53.00 421.70,53.00" fill="#e4e4e4" stroke="#111" stroke-width="0.75"/>
<text x="421.65" y="65.34" font-size="8.2" textLength="5.4" lengthAdjust="spacingAndGlyphs" font-weight="bold" fill="#000" stroke="#000" stroke-width="0.35" style="font-family:'Liberation Serif', serif">T</text>
<rect x="419.70" y="57.80" width="9.30" height="9.50" fill="none" stroke="#111" stroke-width="0.75"/>
<rect x="429.00" y="57.80" width="9.30" height="9.50" fill="#5a57a5"/>
<polygon points="429.00,57.80 438.30,57.80 440.30,53.00 431.00,53.00" fill="#e4e4e4" stroke="#111" stroke-width="0.75"/>
<text x="430.95" y="65.34" font-size="8.2" textLength="5.4" lengthAdjust="spacingAndGlyphs" font-weight="bold" fill="#000" stroke="#000" stroke-width="0.35" style="font-family:'Liberation Serif', serif">T</text>
<rect x="429.00" y="57.80" width="9.30" height="9.50" fill="none" stroke="#111" stroke-width="0.75"/>
<defs><linearGradient id="fd703" x1="0" x2="1" y1="0" y2="0"><stop offset="0" stop-color="#fff" stop-opacity="1"/><stop offset="0.55" stop-color="#fff" stop-opacity="0.8"/><stop offset="1" stop-color="#fff" stop-opacity="0.15"/></linearGradient></defs>
<rect x="351.60" y="52.30" width="12.30" height="16.00" fill="url(#fd703)"/>
<defs><linearGradient id="fd705" x1="0" x2="1" y1="0" y2="0"><stop offset="0" stop-color="#fff" stop-opacity="0.15"/><stop offset="0.45" stop-color="#fff" stop-opacity="0.8"/><stop offset="1" stop-color="#fff" stop-opacity="1"/></linearGradient></defs>
<rect x="429.00" y="52.30" width="12.30" height="16.00" fill="url(#fd705)"/>
<line x1="472.23" y1="45.90" x2="472.23" y2="53.20" stroke="#111" stroke-width="1.2"/>
<line x1="481.68" y1="45.90" x2="481.68" y2="53.20" stroke="#111" stroke-width="1.2"/>
<line x1="491.12" y1="45.90" x2="491.12" y2="53.20" stroke="#bbb" stroke-width="1.2"/>
<line x1="510.03" y1="45.90" x2="510.03" y2="53.20" stroke="#bbb" stroke-width="1.2"/>
<line x1="519.48" y1="45.90" x2="519.48" y2="53.20" stroke="#111" stroke-width="1.2"/>
<line x1="528.93" y1="45.90" x2="528.93" y2="53.20" stroke="#111" stroke-width="1.2"/>
<rect x="467.50" y="37.90" width="9.45" height="9.30" fill="#0a0a0a"/>
<polygon points="467.50,37.90 476.95,37.90 478.95,33.10 469.50,33.10" fill="#0a0a0a" stroke="#111" stroke-width="0.75"/>
<line x1="471.03" y1="36.10" x2="475.43" y2="34.90" stroke="#ffffffcc" stroke-width="0.7"/>
<text x="469.33" y="45.34" font-size="8.2" textLength="5.8" lengthAdjust="spacingAndGlyphs" font-weight="bold" fill="#fff" stroke="#fff" stroke-width="0.35" style="font-family:'Liberation Serif', serif">K</text>
<rect x="467.50" y="37.90" width="9.45" height="9.30" fill="none" stroke="#111" stroke-width="0.75"/>
<rect x="476.95" y="37.90" width="9.45" height="9.30" fill="#0a0a0a"/>
<polygon points="476.95,37.90 486.40,37.90 488.40,33.10 478.95,33.10" fill="#0a0a0a" stroke="#111" stroke-width="0.75"/>
<line x1="480.48" y1="36.10" x2="484.88" y2="34.90" stroke="#ffffffcc" stroke-width="0.7"/>
<text x="478.78" y="45.34" font-size="8.2" textLength="5.8" lengthAdjust="spacingAndGlyphs" font-weight="bold" fill="#fff" stroke="#fff" stroke-width="0.35" style="font-family:'Liberation Serif', serif">K</text>
<rect x="476.95" y="37.90" width="9.45" height="9.30" fill="none" stroke="#111" stroke-width="0.75"/>
<rect x="486.40" y="37.90" width="9.45" height="9.30" fill="#fafafa"/>
<polygon points="486.40,37.90 495.85,37.90 497.85,33.10 488.40,33.10" fill="#e8e8e8" stroke="#111" stroke-width="0.75"/>
<line x1="489.93" y1="36.10" x2="494.32" y2="34.90" stroke="#333" stroke-width="0.7"/>
<text x="488.02" y="45.34" font-size="8.2" textLength="6.2" lengthAdjust="spacingAndGlyphs" font-weight="bold" fill="#000" stroke="#000" stroke-width="0.35" style="font-family:'Liberation Serif', serif">M</text>
<rect x="486.40" y="37.90" width="9.45" height="9.30" fill="none" stroke="#111" stroke-width="0.75"/>
<rect x="495.85" y="37.90" width="9.45" height="9.30" fill="#0a0a0a"/>
<polygon points="495.85,37.90 505.30,37.90 507.30,33.10 497.85,33.10" fill="#0a0a0a" stroke="#111" stroke-width="0.75"/>
<line x1="499.38" y1="36.10" x2="503.78" y2="34.90" stroke="#ffffffcc" stroke-width="0.7"/>
<text x="497.68" y="45.34" font-size="8.2" textLength="5.8" lengthAdjust="spacingAndGlyphs" font-weight="bold" fill="#fff" stroke="#fff" stroke-width="0.35" style="font-family:'Liberation Serif', serif">K</text>
<rect x="495.85" y="37.90" width="9.45" height="9.30" fill="none" stroke="#111" stroke-width="0.75"/>
<rect x="505.30" y="37.90" width="9.45" height="9.30" fill="#fafafa"/>
<polygon points="505.30,37.90 514.75,37.90 516.75,33.10 507.30,33.10" fill="#e8e8e8" stroke="#111" stroke-width="0.75"/>
<line x1="508.83" y1="36.10" x2="513.23" y2="34.90" stroke="#333" stroke-width="0.7"/>
<text x="506.93" y="45.34" font-size="8.2" textLength="6.2" lengthAdjust="spacingAndGlyphs" font-weight="bold" fill="#000" stroke="#000" stroke-width="0.35" style="font-family:'Liberation Serif', serif">M</text>
<rect x="505.30" y="37.90" width="9.45" height="9.30" fill="none" stroke="#111" stroke-width="0.75"/>
<rect x="514.75" y="37.90" width="9.45" height="9.30" fill="#0a0a0a"/>
<polygon points="514.75,37.90 524.20,37.90 526.20,33.10 516.75,33.10" fill="#0a0a0a" stroke="#111" stroke-width="0.75"/>
<line x1="518.27" y1="36.10" x2="522.68" y2="34.90" stroke="#ffffffcc" stroke-width="0.7"/>
<text x="516.58" y="45.34" font-size="8.2" textLength="5.8" lengthAdjust="spacingAndGlyphs" font-weight="bold" fill="#fff" stroke="#fff" stroke-width="0.35" style="font-family:'Liberation Serif', serif">K</text>
<rect x="514.75" y="37.90" width="9.45" height="9.30" fill="none" stroke="#111" stroke-width="0.75"/>
<rect x="524.20" y="37.90" width="9.45" height="9.30" fill="#0a0a0a"/>
<polygon points="524.20,37.90 533.65,37.90 535.65,33.10 526.20,33.10" fill="#0a0a0a" stroke="#111" stroke-width="0.75"/>
<line x1="527.73" y1="36.10" x2="532.13" y2="34.90" stroke="#ffffffcc" stroke-width="0.7"/>
<text x="526.03" y="45.34" font-size="8.2" textLength="5.8" lengthAdjust="spacingAndGlyphs" font-weight="bold" fill="#fff" stroke="#fff" stroke-width="0.35" style="font-family:'Liberation Serif', serif">K</text>
<rect x="524.20" y="37.90" width="9.45" height="9.30" fill="none" stroke="#111" stroke-width="0.75"/>
<polygon points="533.65,37.90 535.65,33.10 535.65,42.40 533.65,47.20" fill="#e8e8e8" stroke="#111" stroke-width="0.75"/>
<rect x="457.65" y="57.80" width="9.45" height="9.50" fill="#fafafa"/>
<polygon points="457.65,57.80 467.10,57.80 469.10,53.00 459.65,53.00" fill="#e8e8e8" stroke="#111" stroke-width="0.75"/>
<line x1="461.18" y1="56.00" x2="465.58" y2="54.80" stroke="#333" stroke-width="0.7"/>
<text x="459.28" y="65.34" font-size="8.2" textLength="6.2" lengthAdjust="spacingAndGlyphs" font-weight="bold" fill="#000" stroke="#000" stroke-width="0.35" style="font-family:'Liberation Serif', serif">M</text>
<rect x="457.65" y="57.80" width="9.45" height="9.50" fill="none" stroke="#111" stroke-width="0.75"/>
<rect x="467.10" y="57.80" width="9.45" height="9.50" fill="#0a0a0a"/>
<polygon points="467.10,57.80 476.55,57.80 478.55,53.00 469.10,53.00" fill="#0a0a0a" stroke="#111" stroke-width="0.75"/>
<line x1="470.63" y1="56.00" x2="475.03" y2="54.80" stroke="#ffffffcc" stroke-width="0.7"/>
<text x="468.93" y="65.34" font-size="8.2" textLength="5.8" lengthAdjust="spacingAndGlyphs" font-weight="bold" fill="#fff" stroke="#fff" stroke-width="0.35" style="font-family:'Liberation Serif', serif">K</text>
<rect x="467.10" y="57.80" width="9.45" height="9.50" fill="none" stroke="#111" stroke-width="0.75"/>
<rect x="476.55" y="57.80" width="9.45" height="9.50" fill="#0a0a0a"/>
<polygon points="476.55,57.80 486.00,57.80 488.00,53.00 478.55,53.00" fill="#0a0a0a" stroke="#111" stroke-width="0.75"/>
<line x1="480.08" y1="56.00" x2="484.48" y2="54.80" stroke="#ffffffcc" stroke-width="0.7"/>
<text x="478.38" y="65.34" font-size="8.2" textLength="5.8" lengthAdjust="spacingAndGlyphs" font-weight="bold" fill="#fff" stroke="#fff" stroke-width="0.35" style="font-family:'Liberation Serif', serif">K</text>
<rect x="476.55" y="57.80" width="9.45" height="9.50" fill="none" stroke="#111" stroke-width="0.75"/>
<rect x="486.00" y="57.80" width="9.45" height="9.50" fill="#fafafa"/>
<polygon points="486.00,57.80 495.45,57.80 497.45,53.00 488.00,53.00" fill="#e8e8e8" stroke="#111" stroke-width="0.75"/>
<line x1="489.53" y1="56.00" x2="493.93" y2="54.80" stroke="#333" stroke-width="0.7"/>
<text x="487.63" y="65.34" font-size="8.2" textLength="6.2" lengthAdjust="spacingAndGlyphs" font-weight="bold" fill="#000" stroke="#000" stroke-width="0.35" style="font-family:'Liberation Serif', serif">M</text>
<rect x="486.00" y="57.80" width="9.45" height="9.50" fill="none" stroke="#111" stroke-width="0.75"/>
<rect x="495.45" y="57.80" width="9.45" height="9.50" fill="#fafafa"/>
<polygon points="495.45,57.80 504.90,57.80 506.90,53.00 497.45,53.00" fill="#e8e8e8" stroke="#111" stroke-width="0.75"/>
<line x1="498.98" y1="56.00" x2="503.38" y2="54.80" stroke="#333" stroke-width="0.7"/>
<text x="497.08" y="65.34" font-size="8.2" textLength="6.2" lengthAdjust="spacingAndGlyphs" font-weight="bold" fill="#000" stroke="#000" stroke-width="0.35" style="font-family:'Liberation Serif', serif">M</text>
<rect x="495.45" y="57.80" width="9.45" height="9.50" fill="none" stroke="#111" stroke-width="0.75"/>
<rect x="504.90" y="57.80" width="9.45" height="9.50" fill="#fafafa"/>
<polygon points="504.90,57.80 514.35,57.80 516.35,53.00 506.90,53.00" fill="#e8e8e8" stroke="#111" stroke-width="0.75"/>
<line x1="508.43" y1="56.00" x2="512.83" y2="54.80" stroke="#333" stroke-width="0.7"/>
<text x="506.53" y="65.34" font-size="8.2" textLength="6.2" lengthAdjust="spacingAndGlyphs" font-weight="bold" fill="#000" stroke="#000" stroke-width="0.35" style="font-family:'Liberation Serif', serif">M</text>
<rect x="504.90" y="57.80" width="9.45" height="9.50" fill="none" stroke="#111" stroke-width="0.75"/>
<rect x="514.35" y="57.80" width="9.45" height="9.50" fill="#0a0a0a"/>
<polygon points="514.35,57.80 523.80,57.80 525.80,53.00 516.35,53.00" fill="#0a0a0a" stroke="#111" stroke-width="0.75"/>
<line x1="517.88" y1="56.00" x2="522.28" y2="54.80" stroke="#ffffffcc" stroke-width="0.7"/>
<text x="516.18" y="65.34" font-size="8.2" textLength="5.8" lengthAdjust="spacingAndGlyphs" font-weight="bold" fill="#fff" stroke="#fff" stroke-width="0.35" style="font-family:'Liberation Serif', serif">K</text>
<rect x="514.35" y="57.80" width="9.45" height="9.50" fill="none" stroke="#111" stroke-width="0.75"/>
<rect x="523.80" y="57.80" width="9.45" height="9.50" fill="#0a0a0a"/>
<polygon points="523.80,57.80 533.25,57.80 535.25,53.00 525.80,53.00" fill="#0a0a0a" stroke="#111" stroke-width="0.75"/>
<line x1="527.33" y1="56.00" x2="531.73" y2="54.80" stroke="#ffffffcc" stroke-width="0.7"/>
<text x="525.63" y="65.34" font-size="8.2" textLength="5.8" lengthAdjust="spacingAndGlyphs" font-weight="bold" fill="#fff" stroke="#fff" stroke-width="0.35" style="font-family:'Liberation Serif', serif">K</text>
<rect x="523.80" y="57.80" width="9.45" height="9.50" fill="none" stroke="#111" stroke-width="0.75"/>
<rect x="533.25" y="57.80" width="9.45" height="9.50" fill="#0a0a0a"/>
<polygon points="533.25,57.80 542.70,57.80 544.70,53.00 535.25,53.00" fill="#0a0a0a" stroke="#111" stroke-width="0.75"/>
<line x1="536.77" y1="56.00" x2="541.18" y2="54.80" stroke="#ffffffcc" stroke-width="0.7"/>
<text x="535.08" y="65.34" font-size="8.2" textLength="5.8" lengthAdjust="spacingAndGlyphs" font-weight="bold" fill="#fff" stroke="#fff" stroke-width="0.35" style="font-family:'Liberation Serif', serif">K</text>
<rect x="533.25" y="57.80" width="9.45" height="9.50" fill="none" stroke="#111" stroke-width="0.75"/>
<defs><linearGradient id="fd794" x1="0" x2="1" y1="0" y2="0"><stop offset="0" stop-color="#fff" stop-opacity="1"/><stop offset="0.55" stop-color="#fff" stop-opacity="0.8"/><stop offset="1" stop-color="#fff" stop-opacity="0.15"/></linearGradient></defs>
<rect x="454.65" y="52.30" width="12.45" height="16.00" fill="url(#fd794)"/>
<defs><linearGradient id="fd796" x1="0" x2="1" y1="0" y2="0"><stop offset="0" stop-color="#fff" stop-opacity="0.15"/><stop offset="0.45" stop-color="#fff" stop-opacity="0.8"/><stop offset="1" stop-color="#fff" stop-opacity="1"/></linearGradient></defs>
<rect x="533.25" y="52.30" width="12.45" height="16.00" fill="url(#fd796)"/>
<line x1="580.02" y1="45.90" x2="580.02" y2="53.20" stroke="#b49ad8" stroke-width="1.2"/>
<line x1="589.48" y1="45.90" x2="589.48" y2="53.20" stroke="#b49ad8" stroke-width="1.2"/>
<line x1="598.92" y1="45.90" x2="598.92" y2="53.20" stroke="#c8902a" stroke-width="1.2"/>
<line x1="617.82" y1="45.90" x2="617.82" y2="53.20" stroke="#c8902a" stroke-width="1.2"/>
<line x1="627.27" y1="45.90" x2="627.27" y2="53.20" stroke="#b49ad8" stroke-width="1.2"/>
<line x1="636.73" y1="45.90" x2="636.73" y2="53.20" stroke="#b49ad8" stroke-width="1.2"/>
<rect x="575.30" y="37.90" width="9.45" height="9.30" fill="#5a57a5"/>
<rect x="575.90" y="38.50" width="7.45" height="7.40" fill="#66bade"/>
<polygon points="575.30,37.90 584.75,37.90 586.75,33.10 577.30,33.10" fill="#5a57a5" stroke="#111" stroke-width="0.75"/>
<line x1="578.82" y1="36.10" x2="583.23" y2="34.90" stroke="#ffffff88" stroke-width="0.7"/>
<text x="577.12" y="45.34" font-size="8.2" textLength="5.8" lengthAdjust="spacingAndGlyphs" font-weight="bold" fill="#000" stroke="#000" stroke-width="0.35" style="font-family:'Liberation Serif', serif">K</text>
<rect x="575.30" y="37.90" width="9.45" height="9.30" fill="none" stroke="#111" stroke-width="0.75"/>
<rect x="584.75" y="37.90" width="9.45" height="9.30" fill="#5a57a5"/>
<rect x="585.35" y="38.50" width="7.45" height="7.40" fill="#66bade"/>
<polygon points="584.75,37.90 594.20,37.90 596.20,33.10 586.75,33.10" fill="#66bade" stroke="#111" stroke-width="0.75"/>
<line x1="588.27" y1="36.10" x2="592.68" y2="34.90" stroke="#ffffff88" stroke-width="0.7"/>
<text x="586.58" y="45.34" font-size="8.2" textLength="5.8" lengthAdjust="spacingAndGlyphs" font-weight="bold" fill="#000" stroke="#000" stroke-width="0.35" style="font-family:'Liberation Serif', serif">K</text>
<rect x="584.75" y="37.90" width="9.45" height="9.30" fill="none" stroke="#111" stroke-width="0.75"/>
<rect x="594.20" y="37.90" width="9.45" height="9.30" fill="#9d2e72"/>
<rect x="594.80" y="38.50" width="7.45" height="7.40" fill="#1f7f40"/>
<polygon points="594.20,37.90 603.65,37.90 605.65,33.10 596.20,33.10" fill="#1f7f40" stroke="#111" stroke-width="0.75"/>
<line x1="597.72" y1="36.10" x2="602.12" y2="34.90" stroke="#ffffff88" stroke-width="0.7"/>
<text x="595.82" y="45.34" font-size="8.2" textLength="6.2" lengthAdjust="spacingAndGlyphs" font-weight="bold" fill="#000" stroke="#000" stroke-width="0.35" style="font-family:'Liberation Serif', serif">M</text>
<rect x="594.20" y="37.90" width="9.45" height="9.30" fill="none" stroke="#111" stroke-width="0.75"/>
<rect x="603.65" y="37.90" width="9.45" height="9.30" fill="#5a57a5"/>
<rect x="604.25" y="38.50" width="7.45" height="7.40" fill="#66bade"/>
<polygon points="603.65,37.90 613.10,37.90 615.10,33.10 605.65,33.10" fill="#66bade" stroke="#111" stroke-width="0.75"/>
<line x1="607.17" y1="36.10" x2="611.58" y2="34.90" stroke="#ffffff88" stroke-width="0.7"/>
<text x="605.48" y="45.34" font-size="8.2" textLength="5.8" lengthAdjust="spacingAndGlyphs" font-weight="bold" fill="#000" stroke="#000" stroke-width="0.35" style="font-family:'Liberation Serif', serif">K</text>
<rect x="603.65" y="37.90" width="9.45" height="9.30" fill="none" stroke="#111" stroke-width="0.75"/>
<rect x="613.10" y="37.90" width="9.45" height="9.30" fill="#9d2e72"/>
<rect x="613.70" y="38.50" width="7.45" height="7.40" fill="#1f7f40"/>
<polygon points="613.10,37.90 622.55,37.90 624.55,33.10 615.10,33.10" fill="#9d2e72" stroke="#111" stroke-width="0.75"/>
<line x1="616.62" y1="36.10" x2="621.02" y2="34.90" stroke="#ffffff88" stroke-width="0.7"/>
<text x="614.72" y="45.34" font-size="8.2" textLength="6.2" lengthAdjust="spacingAndGlyphs" font-weight="bold" fill="#000" stroke="#000" stroke-width="0.35" style="font-family:'Liberation Serif', serif">M</text>
<rect x="613.10" y="37.90" width="9.45" height="9.30" fill="none" stroke="#111" stroke-width="0.75"/>
<rect x="622.55" y="37.90" width="9.45" height="9.30" fill="#5a57a5"/>
<rect x="623.15" y="38.50" width="7.45" height="7.40" fill="#66bade"/>
<polygon points="622.55,37.90 632.00,37.90 634.00,33.10 624.55,33.10" fill="#66bade" stroke="#111" stroke-width="0.75"/>
<line x1="626.07" y1="36.10" x2="630.48" y2="34.90" stroke="#ffffff88" stroke-width="0.7"/>
<text x="624.38" y="45.34" font-size="8.2" textLength="5.8" lengthAdjust="spacingAndGlyphs" font-weight="bold" fill="#000" stroke="#000" stroke-width="0.35" style="font-family:'Liberation Serif', serif">K</text>
<rect x="622.55" y="37.90" width="9.45" height="9.30" fill="none" stroke="#111" stroke-width="0.75"/>
<rect x="632.00" y="37.90" width="9.45" height="9.30" fill="#5a57a5"/>
<rect x="632.60" y="38.50" width="7.45" height="7.40" fill="#66bade"/>
<polygon points="632.00,37.90 641.45,37.90 643.45,33.10 634.00,33.10" fill="#5a57a5" stroke="#111" stroke-width="0.75"/>
<line x1="635.52" y1="36.10" x2="639.93" y2="34.90" stroke="#ffffff88" stroke-width="0.7"/>
<text x="633.83" y="45.34" font-size="8.2" textLength="5.8" lengthAdjust="spacingAndGlyphs" font-weight="bold" fill="#000" stroke="#000" stroke-width="0.35" style="font-family:'Liberation Serif', serif">K</text>
<rect x="632.00" y="37.90" width="9.45" height="9.30" fill="none" stroke="#111" stroke-width="0.75"/>
<polygon points="641.45,37.90 643.45,33.10 643.45,42.40 641.45,47.20" fill="#e8e8e8" stroke="#111" stroke-width="0.75"/>
<rect x="565.45" y="57.80" width="9.45" height="9.50" fill="#9d2e72"/>
<rect x="566.05" y="58.40" width="7.45" height="7.60" fill="#1f7f40"/>
<polygon points="565.45,57.80 574.90,57.80 576.90,53.00 567.45,53.00" fill="#1f7f40" stroke="#111" stroke-width="0.75"/>
<line x1="568.97" y1="56.00" x2="573.38" y2="54.80" stroke="#ffffff88" stroke-width="0.7"/>
<text x="567.07" y="65.34" font-size="8.2" textLength="6.2" lengthAdjust="spacingAndGlyphs" font-weight="bold" fill="#000" stroke="#000" stroke-width="0.35" style="font-family:'Liberation Serif', serif">M</text>
<rect x="565.45" y="57.80" width="9.45" height="9.50" fill="none" stroke="#111" stroke-width="0.75"/>
<rect x="574.90" y="57.80" width="9.45" height="9.50" fill="#5a57a5"/>
<rect x="575.50" y="58.40" width="7.45" height="7.60" fill="#66bade"/>
<polygon points="574.90,57.80 584.35,57.80 586.35,53.00 576.90,53.00" fill="#5a57a5" stroke="#111" stroke-width="0.75"/>
<line x1="578.42" y1="56.00" x2="582.83" y2="54.80" stroke="#ffffff88" stroke-width="0.7"/>
<text x="576.73" y="65.34" font-size="8.2" textLength="5.8" lengthAdjust="spacingAndGlyphs" font-weight="bold" fill="#000" stroke="#000" stroke-width="0.35" style="font-family:'Liberation Serif', serif">K</text>
<rect x="574.90" y="57.80" width="9.45" height="9.50" fill="none" stroke="#111" stroke-width="0.75"/>
<rect x="584.35" y="57.80" width="9.45" height="9.50" fill="#5a57a5"/>
<rect x="584.95" y="58.40" width="7.45" height="7.60" fill="#66bade"/>
<polygon points="584.35,57.80 593.80,57.80 595.80,53.00 586.35,53.00" fill="#66bade" stroke="#111" stroke-width="0.75"/>
<line x1="587.87" y1="56.00" x2="592.27" y2="54.80" stroke="#ffffff88" stroke-width="0.7"/>
<text x="586.17" y="65.34" font-size="8.2" textLength="5.8" lengthAdjust="spacingAndGlyphs" font-weight="bold" fill="#000" stroke="#000" stroke-width="0.35" style="font-family:'Liberation Serif', serif">K</text>
<rect x="584.35" y="57.80" width="9.45" height="9.50" fill="none" stroke="#111" stroke-width="0.75"/>
<rect x="593.80" y="57.80" width="9.45" height="9.50" fill="#9d2e72"/>
<rect x="594.40" y="58.40" width="7.45" height="7.60" fill="#1f7f40"/>
<polygon points="593.80,57.80 603.25,57.80 605.25,53.00 595.80,53.00" fill="#1f7f40" stroke="#111" stroke-width="0.75"/>
<line x1="597.32" y1="56.00" x2="601.73" y2="54.80" stroke="#ffffff88" stroke-width="0.7"/>
<text x="595.42" y="65.34" font-size="8.2" textLength="6.2" lengthAdjust="spacingAndGlyphs" font-weight="bold" fill="#000" stroke="#000" stroke-width="0.35" style="font-family:'Liberation Serif', serif">M</text>
<rect x="593.80" y="57.80" width="9.45" height="9.50" fill="none" stroke="#111" stroke-width="0.75"/>
<rect x="603.25" y="57.80" width="9.45" height="9.50" fill="#9d2e72"/>
<rect x="603.85" y="58.40" width="7.45" height="7.60" fill="#1f7f40"/>
<polygon points="603.25,57.80 612.70,57.80 614.70,53.00 605.25,53.00" fill="#9d2e72" stroke="#111" stroke-width="0.75"/>
<line x1="606.77" y1="56.00" x2="611.17" y2="54.80" stroke="#ffffff88" stroke-width="0.7"/>
<text x="604.87" y="65.34" font-size="8.2" textLength="6.2" lengthAdjust="spacingAndGlyphs" font-weight="bold" fill="#000" stroke="#000" stroke-width="0.35" style="font-family:'Liberation Serif', serif">M</text>
<rect x="603.25" y="57.80" width="9.45" height="9.50" fill="none" stroke="#111" stroke-width="0.75"/>
<rect x="612.70" y="57.80" width="9.45" height="9.50" fill="#9d2e72"/>
<rect x="613.30" y="58.40" width="7.45" height="7.60" fill="#1f7f40"/>
<polygon points="612.70,57.80 622.15,57.80 624.15,53.00 614.70,53.00" fill="#9d2e72" stroke="#111" stroke-width="0.75"/>
<line x1="616.22" y1="56.00" x2="620.62" y2="54.80" stroke="#ffffff88" stroke-width="0.7"/>
<text x="614.32" y="65.34" font-size="8.2" textLength="6.2" lengthAdjust="spacingAndGlyphs" font-weight="bold" fill="#000" stroke="#000" stroke-width="0.35" style="font-family:'Liberation Serif', serif">M</text>
<rect x="612.70" y="57.80" width="9.45" height="9.50" fill="none" stroke="#111" stroke-width="0.75"/>
<rect x="622.15" y="57.80" width="9.45" height="9.50" fill="#5a57a5"/>
<rect x="622.75" y="58.40" width="7.45" height="7.60" fill="#66bade"/>
<polygon points="622.15,57.80 631.60,57.80 633.60,53.00 624.15,53.00" fill="#66bade" stroke="#111" stroke-width="0.75"/>
<line x1="625.67" y1="56.00" x2="630.08" y2="54.80" stroke="#ffffff88" stroke-width="0.7"/>
<text x="623.98" y="65.34" font-size="8.2" textLength="5.8" lengthAdjust="spacingAndGlyphs" font-weight="bold" fill="#000" stroke="#000" stroke-width="0.35" style="font-family:'Liberation Serif', serif">K</text>
<rect x="622.15" y="57.80" width="9.45" height="9.50" fill="none" stroke="#111" stroke-width="0.75"/>
<rect x="631.60" y="57.80" width="9.45" height="9.50" fill="#5a57a5"/>
<rect x="632.20" y="58.40" width="7.45" height="7.60" fill="#66bade"/>
<polygon points="631.60,57.80 641.05,57.80 643.05,53.00 633.60,53.00" fill="#5a57a5" stroke="#111" stroke-width="0.75"/>
<line x1="635.12" y1="56.00" x2="639.52" y2="54.80" stroke="#ffffff88" stroke-width="0.7"/>
<text x="633.42" y="65.34" font-size="8.2" textLength="5.8" lengthAdjust="spacingAndGlyphs" font-weight="bold" fill="#000" stroke="#000" stroke-width="0.35" style="font-family:'Liberation Serif', serif">K</text>
<rect x="631.60" y="57.80" width="9.45" height="9.50" fill="none" stroke="#111" stroke-width="0.75"/>
<rect x="641.05" y="57.80" width="9.45" height="9.50" fill="#5a57a5"/>
<rect x="641.65" y="58.40" width="7.45" height="7.60" fill="#66bade"/>
<polygon points="641.05,57.80 650.50,57.80 652.50,53.00 643.05,53.00" fill="#5a57a5" stroke="#111" stroke-width="0.75"/>
<line x1="644.57" y1="56.00" x2="648.98" y2="54.80" stroke="#ffffff88" stroke-width="0.7"/>
<text x="642.88" y="65.34" font-size="8.2" textLength="5.8" lengthAdjust="spacingAndGlyphs" font-weight="bold" fill="#000" stroke="#000" stroke-width="0.35" style="font-family:'Liberation Serif', serif">K</text>
<rect x="641.05" y="57.80" width="9.45" height="9.50" fill="none" stroke="#111" stroke-width="0.75"/>
<defs><linearGradient id="fd901" x1="0" x2="1" y1="0" y2="0"><stop offset="0" stop-color="#fff" stop-opacity="1"/><stop offset="0.55" stop-color="#fff" stop-opacity="0.8"/><stop offset="1" stop-color="#fff" stop-opacity="0.15"/></linearGradient></defs>
<rect x="562.45" y="52.30" width="12.45" height="16.00" fill="url(#fd901)"/>
<defs><linearGradient id="fd903" x1="0" x2="1" y1="0" y2="0"><stop offset="0" stop-color="#fff" stop-opacity="0.15"/><stop offset="0.45" stop-color="#fff" stop-opacity="0.8"/><stop offset="1" stop-color="#fff" stop-opacity="1"/></linearGradient></defs>
<rect x="641.05" y="52.30" width="12.45" height="16.00" fill="url(#fd903)"/>
<text x="436.00" y="52.15" font-size="9.0" text-anchor="start" font-weight="normal" font-style="normal" fill="#5cbf4a">Called</text>
<text x="540.50" y="52.15" font-size="9.0" text-anchor="start" font-weight="normal" font-style="normal" fill="#5cbf4a">Called</text>
<text x="647.00" y="52.15" font-size="9.0" text-anchor="start" font-weight="normal" font-style="normal" fill="#5cbf4a">Called</text>
<text x="349.60" y="92.80" font-size="8.6" text-anchor="end" font-weight="normal" font-style="normal" fill="#333">C&gt;A</text>
<text x="349.60" y="112.40" font-size="8.6" text-anchor="end" font-weight="normal" font-style="normal" fill="#333">Reference</text>
<line x1="368.95" y1="95.80" x2="368.95" y2="102.80" stroke="#a05bbf" stroke-width="1.2"/>
<line x1="378.25" y1="95.80" x2="378.25" y2="102.80" stroke="#6fcfe0" stroke-width="1.2"/>
<line x1="387.55" y1="95.80" x2="387.55" y2="102.80" stroke="#7ac143" stroke-width="1.2"/>
<line x1="406.15" y1="95.80" x2="406.15" y2="102.80" stroke="#e8352b" stroke-width="1.2"/>
<line x1="415.45" y1="95.80" x2="415.45" y2="102.80" stroke="#6fcfe0" stroke-width="1.2"/>
<line x1="424.75" y1="95.80" x2="424.75" y2="102.80" stroke="#a05bbf" stroke-width="1.2"/>
<rect x="364.30" y="87.80" width="9.30" height="9.30" fill="#5a57a5"/>
<polygon points="364.30,87.80 373.60,87.80 375.60,83.00 366.30,83.00" fill="#e4e4e4" stroke="#111" stroke-width="0.75"/>
<text x="366.25" y="95.24" font-size="8.2" textLength="5.4" lengthAdjust="spacingAndGlyphs" font-weight="bold" fill="#000" stroke="#000" stroke-width="0.35" style="font-family:'Liberation Serif', serif">T</text>
<rect x="364.30" y="87.80" width="9.30" height="9.30" fill="none" stroke="#111" stroke-width="0.75"/>
<rect x="373.60" y="87.80" width="9.30" height="9.30" fill="#66bade"/>
<polygon points="373.60,87.80 382.90,87.80 384.90,83.00 375.60,83.00" fill="#e4e4e4" stroke="#111" stroke-width="0.75"/>
<text x="375.35" y="95.24" font-size="8.2" textLength="5.8" lengthAdjust="spacingAndGlyphs" font-weight="bold" fill="#000" stroke="#000" stroke-width="0.35" style="font-family:'Liberation Serif', serif">G</text>
<rect x="373.60" y="87.80" width="9.30" height="9.30" fill="none" stroke="#111" stroke-width="0.75"/>
<rect x="382.90" y="87.80" width="9.30" height="9.30" fill="#1f7f40"/>
<polygon points="382.90,87.80 392.20,87.80 394.20,83.00 384.90,83.00" fill="#e4e4e4" stroke="#111" stroke-width="0.75"/>
<text x="384.55" y="95.24" font-size="8.2" textLength="6.0" lengthAdjust="spacingAndGlyphs" font-weight="bold" fill="#000" stroke="#000" stroke-width="0.35" style="font-family:'Liberation Serif', serif">A</text>
<rect x="382.90" y="87.80" width="9.30" height="9.30" fill="none" stroke="#111" stroke-width="0.75"/>
<rect x="392.20" y="87.80" width="9.30" height="9.30" fill="#1f7f40"/>
<polygon points="392.20,87.80 401.50,87.80 403.50,83.00 394.20,83.00" fill="#e4e4e4" stroke="#111" stroke-width="0.75"/>
<text x="393.85" y="95.24" font-size="8.2" textLength="6.0" lengthAdjust="spacingAndGlyphs" font-weight="bold" fill="#000" stroke="#000" stroke-width="0.35" style="font-family:'Liberation Serif', serif">A</text>
<rect x="392.20" y="87.80" width="9.30" height="9.30" fill="none" stroke="#111" stroke-width="0.75"/>
<rect x="401.50" y="87.80" width="9.30" height="9.30" fill="#9d2e72"/>
<polygon points="401.50,87.80 410.80,87.80 412.80,83.00 403.50,83.00" fill="#e4e4e4" stroke="#111" stroke-width="0.75"/>
<text x="403.55" y="95.24" font-size="8.2" textLength="5.2" lengthAdjust="spacingAndGlyphs" font-weight="bold" fill="#000" stroke="#000" stroke-width="0.35" style="font-family:'Liberation Serif', serif">C</text>
<rect x="401.50" y="87.80" width="9.30" height="9.30" fill="none" stroke="#111" stroke-width="0.75"/>
<rect x="410.80" y="87.80" width="9.30" height="9.30" fill="#66bade"/>
<polygon points="410.80,87.80 420.10,87.80 422.10,83.00 412.80,83.00" fill="#e4e4e4" stroke="#111" stroke-width="0.75"/>
<text x="412.55" y="95.24" font-size="8.2" textLength="5.8" lengthAdjust="spacingAndGlyphs" font-weight="bold" fill="#000" stroke="#000" stroke-width="0.35" style="font-family:'Liberation Serif', serif">G</text>
<rect x="410.80" y="87.80" width="9.30" height="9.30" fill="none" stroke="#111" stroke-width="0.75"/>
<rect x="420.10" y="87.80" width="9.30" height="9.30" fill="#5a57a5"/>
<polygon points="420.10,87.80 429.40,87.80 431.40,83.00 422.10,83.00" fill="#e4e4e4" stroke="#111" stroke-width="0.75"/>
<text x="422.05" y="95.24" font-size="8.2" textLength="5.4" lengthAdjust="spacingAndGlyphs" font-weight="bold" fill="#000" stroke="#000" stroke-width="0.35" style="font-family:'Liberation Serif', serif">T</text>
<rect x="420.10" y="87.80" width="9.30" height="9.30" fill="none" stroke="#111" stroke-width="0.75"/>
<polygon points="429.40,87.80 431.40,83.00 431.40,92.30 429.40,97.10" fill="#e8e8e8" stroke="#111" stroke-width="0.75"/>
<rect x="354.60" y="107.40" width="9.30" height="9.50" fill="#1f7f40"/>
<polygon points="354.60,107.40 363.90,107.40 365.90,102.60 356.60,102.60" fill="#e4e4e4" stroke="#111" stroke-width="0.75"/>
<text x="356.25" y="114.94" font-size="8.2" textLength="6.0" lengthAdjust="spacingAndGlyphs" font-weight="bold" fill="#000" stroke="#000" stroke-width="0.35" style="font-family:'Liberation Serif', serif">A</text>
<rect x="354.60" y="107.40" width="9.30" height="9.50" fill="none" stroke="#111" stroke-width="0.75"/>
<rect x="363.90" y="107.40" width="9.30" height="9.50" fill="#5a57a5"/>
<polygon points="363.90,107.40 373.20,107.40 375.20,102.60 365.90,102.60" fill="#e4e4e4" stroke="#111" stroke-width="0.75"/>
<text x="365.85" y="114.94" font-size="8.2" textLength="5.4" lengthAdjust="spacingAndGlyphs" font-weight="bold" fill="#000" stroke="#000" stroke-width="0.35" style="font-family:'Liberation Serif', serif">T</text>
<rect x="363.90" y="107.40" width="9.30" height="9.50" fill="none" stroke="#111" stroke-width="0.75"/>
<rect x="373.20" y="107.40" width="9.30" height="9.50" fill="#66bade"/>
<polygon points="373.20,107.40 382.50,107.40 384.50,102.60 375.20,102.60" fill="#e4e4e4" stroke="#111" stroke-width="0.75"/>
<text x="374.95" y="114.94" font-size="8.2" textLength="5.8" lengthAdjust="spacingAndGlyphs" font-weight="bold" fill="#000" stroke="#000" stroke-width="0.35" style="font-family:'Liberation Serif', serif">G</text>
<rect x="373.20" y="107.40" width="9.30" height="9.50" fill="none" stroke="#111" stroke-width="0.75"/>
<rect x="382.50" y="107.40" width="9.30" height="9.50" fill="#1f7f40"/>
<polygon points="382.50,107.40 391.80,107.40 393.80,102.60 384.50,102.60" fill="#e4e4e4" stroke="#111" stroke-width="0.75"/>
<text x="384.15" y="114.94" font-size="8.2" textLength="6.0" lengthAdjust="spacingAndGlyphs" font-weight="bold" fill="#000" stroke="#000" stroke-width="0.35" style="font-family:'Liberation Serif', serif">A</text>
<rect x="382.50" y="107.40" width="9.30" height="9.50" fill="none" stroke="#111" stroke-width="0.75"/>
<rect x="391.80" y="107.40" width="9.30" height="9.50" fill="#9d2e72"/>
<polygon points="391.80,107.40 401.10,107.40 403.10,102.60 393.80,102.60" fill="#e4e4e4" stroke="#111" stroke-width="0.75"/>
<text x="393.85" y="114.94" font-size="8.2" textLength="5.2" lengthAdjust="spacingAndGlyphs" font-weight="bold" fill="#000" stroke="#000" stroke-width="0.35" style="font-family:'Liberation Serif', serif">C</text>
<rect x="391.80" y="107.40" width="9.30" height="9.50" fill="none" stroke="#111" stroke-width="0.75"/>
<rect x="401.10" y="107.40" width="9.30" height="9.50" fill="#9d2e72"/>
<polygon points="401.10,107.40 410.40,107.40 412.40,102.60 403.10,102.60" fill="#e4e4e4" stroke="#111" stroke-width="0.75"/>
<text x="403.15" y="114.94" font-size="8.2" textLength="5.2" lengthAdjust="spacingAndGlyphs" font-weight="bold" fill="#000" stroke="#000" stroke-width="0.35" style="font-family:'Liberation Serif', serif">C</text>
<rect x="401.10" y="107.40" width="9.30" height="9.50" fill="none" stroke="#111" stroke-width="0.75"/>
<rect x="410.40" y="107.40" width="9.30" height="9.50" fill="#66bade"/>
<polygon points="410.40,107.40 419.70,107.40 421.70,102.60 412.40,102.60" fill="#e4e4e4" stroke="#111" stroke-width="0.75"/>
<text x="412.15" y="114.94" font-size="8.2" textLength="5.8" lengthAdjust="spacingAndGlyphs" font-weight="bold" fill="#000" stroke="#000" stroke-width="0.35" style="font-family:'Liberation Serif', serif">G</text>
<rect x="410.40" y="107.40" width="9.30" height="9.50" fill="none" stroke="#111" stroke-width="0.75"/>
<rect x="419.70" y="107.40" width="9.30" height="9.50" fill="#5a57a5"/>
<polygon points="419.70,107.40 429.00,107.40 431.00,102.60 421.70,102.60" fill="#e4e4e4" stroke="#111" stroke-width="0.75"/>
<text x="421.65" y="114.94" font-size="8.2" textLength="5.4" lengthAdjust="spacingAndGlyphs" font-weight="bold" fill="#000" stroke="#000" stroke-width="0.35" style="font-family:'Liberation Serif', serif">T</text>
<rect x="419.70" y="107.40" width="9.30" height="9.50" fill="none" stroke="#111" stroke-width="0.75"/>
<rect x="429.00" y="107.40" width="9.30" height="9.50" fill="#5a57a5"/>
<polygon points="429.00,107.40 438.30,107.40 440.30,102.60 431.00,102.60" fill="#e4e4e4" stroke="#111" stroke-width="0.75"/>
<text x="430.95" y="114.94" font-size="8.2" textLength="5.4" lengthAdjust="spacingAndGlyphs" font-weight="bold" fill="#000" stroke="#000" stroke-width="0.35" style="font-family:'Liberation Serif', serif">T</text>
<rect x="429.00" y="107.40" width="9.30" height="9.50" fill="none" stroke="#111" stroke-width="0.75"/>
<defs><linearGradient id="fd981" x1="0" x2="1" y1="0" y2="0"><stop offset="0" stop-color="#fff" stop-opacity="1"/><stop offset="0.55" stop-color="#fff" stop-opacity="0.8"/><stop offset="1" stop-color="#fff" stop-opacity="0.15"/></linearGradient></defs>
<rect x="351.60" y="101.90" width="12.30" height="16.00" fill="url(#fd981)"/>
<defs><linearGradient id="fd983" x1="0" x2="1" y1="0" y2="0"><stop offset="0" stop-color="#fff" stop-opacity="0.15"/><stop offset="0.45" stop-color="#fff" stop-opacity="0.8"/><stop offset="1" stop-color="#fff" stop-opacity="1"/></linearGradient></defs>
<rect x="429.00" y="101.90" width="12.30" height="16.00" fill="url(#fd983)"/>
<line x1="472.23" y1="95.80" x2="472.23" y2="102.80" stroke="#111" stroke-width="1.2"/>
<line x1="481.68" y1="95.80" x2="481.68" y2="102.80" stroke="#111" stroke-width="1.2"/>
<line x1="491.12" y1="95.80" x2="491.12" y2="102.80" stroke="#bbb" stroke-width="1.2"/>
<line x1="500.58" y1="95.80" x2="500.58" y2="102.80" stroke="#bbb" stroke-width="1.2"/>
<line x1="510.03" y1="95.80" x2="510.03" y2="102.80" stroke="#bbb" stroke-width="1.2"/>
<line x1="519.48" y1="95.80" x2="519.48" y2="102.80" stroke="#111" stroke-width="1.2"/>
<line x1="528.93" y1="95.80" x2="528.93" y2="102.80" stroke="#111" stroke-width="1.2"/>
<rect x="467.50" y="87.80" width="9.45" height="9.30" fill="#0a0a0a"/>
<polygon points="467.50,87.80 476.95,87.80 478.95,83.00 469.50,83.00" fill="#0a0a0a" stroke="#111" stroke-width="0.75"/>
<line x1="471.03" y1="86.00" x2="475.43" y2="84.80" stroke="#ffffffcc" stroke-width="0.7"/>
<text x="469.33" y="95.24" font-size="8.2" textLength="5.8" lengthAdjust="spacingAndGlyphs" font-weight="bold" fill="#fff" stroke="#fff" stroke-width="0.35" style="font-family:'Liberation Serif', serif">K</text>
<rect x="467.50" y="87.80" width="9.45" height="9.30" fill="none" stroke="#111" stroke-width="0.75"/>
<rect x="476.95" y="87.80" width="9.45" height="9.30" fill="#0a0a0a"/>
<polygon points="476.95,87.80 486.40,87.80 488.40,83.00 478.95,83.00" fill="#0a0a0a" stroke="#111" stroke-width="0.75"/>
<line x1="480.48" y1="86.00" x2="484.88" y2="84.80" stroke="#ffffffcc" stroke-width="0.7"/>
<text x="478.78" y="95.24" font-size="8.2" textLength="5.8" lengthAdjust="spacingAndGlyphs" font-weight="bold" fill="#fff" stroke="#fff" stroke-width="0.35" style="font-family:'Liberation Serif', serif">K</text>
<rect x="476.95" y="87.80" width="9.45" height="9.30" fill="none" stroke="#111" stroke-width="0.75"/>
<rect x="486.40" y="87.80" width="9.45" height="9.30" fill="#fafafa"/>
<polygon points="486.40,87.80 495.85,87.80 497.85,83.00 488.40,83.00" fill="#e8e8e8" stroke="#111" stroke-width="0.75"/>
<line x1="489.93" y1="86.00" x2="494.32" y2="84.80" stroke="#333" stroke-width="0.7"/>
<text x="488.02" y="95.24" font-size="8.2" textLength="6.2" lengthAdjust="spacingAndGlyphs" font-weight="bold" fill="#000" stroke="#000" stroke-width="0.35" style="font-family:'Liberation Serif', serif">M</text>
<rect x="486.40" y="87.80" width="9.45" height="9.30" fill="none" stroke="#111" stroke-width="0.75"/>
<rect x="495.85" y="87.80" width="9.45" height="9.30" fill="#fafafa"/>
<polygon points="495.85,87.80 505.30,87.80 507.30,83.00 497.85,83.00" fill="#e8e8e8" stroke="#111" stroke-width="0.75"/>
<line x1="499.38" y1="86.00" x2="503.78" y2="84.80" stroke="#333" stroke-width="0.7"/>
<text x="497.48" y="95.24" font-size="8.2" textLength="6.2" lengthAdjust="spacingAndGlyphs" font-weight="bold" fill="#000" stroke="#000" stroke-width="0.35" style="font-family:'Liberation Serif', serif">M</text>
<rect x="495.85" y="87.80" width="9.45" height="9.30" fill="none" stroke="#111" stroke-width="0.75"/>
<rect x="505.30" y="87.80" width="9.45" height="9.30" fill="#fafafa"/>
<polygon points="505.30,87.80 514.75,87.80 516.75,83.00 507.30,83.00" fill="#e8e8e8" stroke="#111" stroke-width="0.75"/>
<line x1="508.83" y1="86.00" x2="513.23" y2="84.80" stroke="#333" stroke-width="0.7"/>
<text x="506.93" y="95.24" font-size="8.2" textLength="6.2" lengthAdjust="spacingAndGlyphs" font-weight="bold" fill="#000" stroke="#000" stroke-width="0.35" style="font-family:'Liberation Serif', serif">M</text>
<rect x="505.30" y="87.80" width="9.45" height="9.30" fill="none" stroke="#111" stroke-width="0.75"/>
<rect x="514.75" y="87.80" width="9.45" height="9.30" fill="#0a0a0a"/>
<polygon points="514.75,87.80 524.20,87.80 526.20,83.00 516.75,83.00" fill="#0a0a0a" stroke="#111" stroke-width="0.75"/>
<line x1="518.27" y1="86.00" x2="522.68" y2="84.80" stroke="#ffffffcc" stroke-width="0.7"/>
<text x="516.58" y="95.24" font-size="8.2" textLength="5.8" lengthAdjust="spacingAndGlyphs" font-weight="bold" fill="#fff" stroke="#fff" stroke-width="0.35" style="font-family:'Liberation Serif', serif">K</text>
<rect x="514.75" y="87.80" width="9.45" height="9.30" fill="none" stroke="#111" stroke-width="0.75"/>
<rect x="524.20" y="87.80" width="9.45" height="9.30" fill="#0a0a0a"/>
<polygon points="524.20,87.80 533.65,87.80 535.65,83.00 526.20,83.00" fill="#0a0a0a" stroke="#111" stroke-width="0.75"/>
<line x1="527.73" y1="86.00" x2="532.13" y2="84.80" stroke="#ffffffcc" stroke-width="0.7"/>
<text x="526.03" y="95.24" font-size="8.2" textLength="5.8" lengthAdjust="spacingAndGlyphs" font-weight="bold" fill="#fff" stroke="#fff" stroke-width="0.35" style="font-family:'Liberation Serif', serif">K</text>
<rect x="524.20" y="87.80" width="9.45" height="9.30" fill="none" stroke="#111" stroke-width="0.75"/>
<polygon points="533.65,87.80 535.65,83.00 535.65,92.30 533.65,97.10" fill="#e8e8e8" stroke="#111" stroke-width="0.75"/>
<rect x="457.65" y="107.40" width="9.45" height="9.50" fill="#fafafa"/>
<polygon points="457.65,107.40 467.10,107.40 469.10,102.60 459.65,102.60" fill="#e8e8e8" stroke="#111" stroke-width="0.75"/>
<line x1="461.18" y1="105.60" x2="465.58" y2="104.40" stroke="#333" stroke-width="0.7"/>
<text x="459.28" y="114.94" font-size="8.2" textLength="6.2" lengthAdjust="spacingAndGlyphs" font-weight="bold" fill="#000" stroke="#000" stroke-width="0.35" style="font-family:'Liberation Serif', serif">M</text>
<rect x="457.65" y="107.40" width="9.45" height="9.50" fill="none" stroke="#111" stroke-width="0.75"/>
<rect x="467.10" y="107.40" width="9.45" height="9.50" fill="#0a0a0a"/>
<polygon points="467.10,107.40 476.55,107.40 478.55,102.60 469.10,102.60" fill="#0a0a0a" stroke="#111" stroke-width="0.75"/>
<line x1="470.63" y1="105.60" x2="475.03" y2="104.40" stroke="#ffffffcc" stroke-width="0.7"/>
<text x="468.93" y="114.94" font-size="8.2" textLength="5.8" lengthAdjust="spacingAndGlyphs" font-weight="bold" fill="#fff" stroke="#fff" stroke-width="0.35" style="font-family:'Liberation Serif', serif">K</text>
<rect x="467.10" y="107.40" width="9.45" height="9.50" fill="none" stroke="#111" stroke-width="0.75"/>
<rect x="476.55" y="107.40" width="9.45" height="9.50" fill="#0a0a0a"/>
<polygon points="476.55,107.40 486.00,107.40 488.00,102.60 478.55,102.60" fill="#0a0a0a" stroke="#111" stroke-width="0.75"/>
<line x1="480.08" y1="105.60" x2="484.48" y2="104.40" stroke="#ffffffcc" stroke-width="0.7"/>
<text x="478.38" y="114.94" font-size="8.2" textLength="5.8" lengthAdjust="spacingAndGlyphs" font-weight="bold" fill="#fff" stroke="#fff" stroke-width="0.35" style="font-family:'Liberation Serif', serif">K</text>
<rect x="476.55" y="107.40" width="9.45" height="9.50" fill="none" stroke="#111" stroke-width="0.75"/>
<rect x="486.00" y="107.40" width="9.45" height="9.50" fill="#fafafa"/>
<polygon points="486.00,107.40 495.45,107.40 497.45,102.60 488.00,102.60" fill="#e8e8e8" stroke="#111" stroke-width="0.75"/>
<line x1="489.53" y1="105.60" x2="493.93" y2="104.40" stroke="#333" stroke-width="0.7"/>
<text x="487.63" y="114.94" font-size="8.2" textLength="6.2" lengthAdjust="spacingAndGlyphs" font-weight="bold" fill="#000" stroke="#000" stroke-width="0.35" style="font-family:'Liberation Serif', serif">M</text>
<rect x="486.00" y="107.40" width="9.45" height="9.50" fill="none" stroke="#111" stroke-width="0.75"/>
<rect x="495.45" y="107.40" width="9.45" height="9.50" fill="#fafafa"/>
<polygon points="495.45,107.40 504.90,107.40 506.90,102.60 497.45,102.60" fill="#e8e8e8" stroke="#111" stroke-width="0.75"/>
<line x1="498.98" y1="105.60" x2="503.38" y2="104.40" stroke="#333" stroke-width="0.7"/>
<text x="497.08" y="114.94" font-size="8.2" textLength="6.2" lengthAdjust="spacingAndGlyphs" font-weight="bold" fill="#000" stroke="#000" stroke-width="0.35" style="font-family:'Liberation Serif', serif">M</text>
<rect x="495.45" y="107.40" width="9.45" height="9.50" fill="none" stroke="#111" stroke-width="0.75"/>
<rect x="504.90" y="107.40" width="9.45" height="9.50" fill="#fafafa"/>
<polygon points="504.90,107.40 514.35,107.40 516.35,102.60 506.90,102.60" fill="#e8e8e8" stroke="#111" stroke-width="0.75"/>
<line x1="508.43" y1="105.60" x2="512.83" y2="104.40" stroke="#333" stroke-width="0.7"/>
<text x="506.53" y="114.94" font-size="8.2" textLength="6.2" lengthAdjust="spacingAndGlyphs" font-weight="bold" fill="#000" stroke="#000" stroke-width="0.35" style="font-family:'Liberation Serif', serif">M</text>
<rect x="504.90" y="107.40" width="9.45" height="9.50" fill="none" stroke="#111" stroke-width="0.75"/>
<rect x="514.35" y="107.40" width="9.45" height="9.50" fill="#0a0a0a"/>
<polygon points="514.35,107.40 523.80,107.40 525.80,102.60 516.35,102.60" fill="#0a0a0a" stroke="#111" stroke-width="0.75"/>
<line x1="517.88" y1="105.60" x2="522.28" y2="104.40" stroke="#ffffffcc" stroke-width="0.7"/>
<text x="516.18" y="114.94" font-size="8.2" textLength="5.8" lengthAdjust="spacingAndGlyphs" font-weight="bold" fill="#fff" stroke="#fff" stroke-width="0.35" style="font-family:'Liberation Serif', serif">K</text>
<rect x="514.35" y="107.40" width="9.45" height="9.50" fill="none" stroke="#111" stroke-width="0.75"/>
<rect x="523.80" y="107.40" width="9.45" height="9.50" fill="#0a0a0a"/>
<polygon points="523.80,107.40 533.25,107.40 535.25,102.60 525.80,102.60" fill="#0a0a0a" stroke="#111" stroke-width="0.75"/>
<line x1="527.33" y1="105.60" x2="531.73" y2="104.40" stroke="#ffffffcc" stroke-width="0.7"/>
<text x="525.63" y="114.94" font-size="8.2" textLength="5.8" lengthAdjust="spacingAndGlyphs" font-weight="bold" fill="#fff" stroke="#fff" stroke-width="0.35" style="font-family:'Liberation Serif', serif">K</text>
<rect x="523.80" y="107.40" width="9.45" height="9.50" fill="none" stroke="#111" stroke-width="0.75"/>
<rect x="533.25" y="107.40" width="9.45" height="9.50" fill="#0a0a0a"/>
<polygon points="533.25,107.40 542.70,107.40 544.70,102.60 535.25,102.60" fill="#0a0a0a" stroke="#111" stroke-width="0.75"/>
<line x1="536.77" y1="105.60" x2="541.18" y2="104.40" stroke="#ffffffcc" stroke-width="0.7"/>
<text x="535.08" y="114.94" font-size="8.2" textLength="5.8" lengthAdjust="spacingAndGlyphs" font-weight="bold" fill="#fff" stroke="#fff" stroke-width="0.35" style="font-family:'Liberation Serif', serif">K</text>
<rect x="533.25" y="107.40" width="9.45" height="9.50" fill="none" stroke="#111" stroke-width="0.75"/>
<defs><linearGradient id="fd1073" x1="0" x2="1" y1="0" y2="0"><stop offset="0" stop-color="#fff" stop-opacity="1"/><stop offset="0.55" stop-color="#fff" stop-opacity="0.8"/><stop offset="1" stop-color="#fff" stop-opacity="0.15"/></linearGradient></defs>
<rect x="454.65" y="101.90" width="12.45" height="16.00" fill="url(#fd1073)"/>
<defs><linearGradient id="fd1075" x1="0" x2="1" y1="0" y2="0"><stop offset="0" stop-color="#fff" stop-opacity="0.15"/><stop offset="0.45" stop-color="#fff" stop-opacity="0.8"/><stop offset="1" stop-color="#fff" stop-opacity="1"/></linearGradient></defs>
<rect x="533.25" y="101.90" width="12.45" height="16.00" fill="url(#fd1075)"/>
<line x1="580.02" y1="95.80" x2="580.02" y2="102.80" stroke="#b49ad8" stroke-width="1.2"/>
<line x1="589.48" y1="95.80" x2="589.48" y2="102.80" stroke="#b49ad8" stroke-width="1.2"/>
<line x1="598.92" y1="95.80" x2="598.92" y2="102.80" stroke="#c8902a" stroke-width="1.2"/>
<line x1="608.38" y1="95.80" x2="608.38" y2="102.80" stroke="#c8902a" stroke-width="1.2"/>
<line x1="617.82" y1="95.80" x2="617.82" y2="102.80" stroke="#c8902a" stroke-width="1.2"/>
<line x1="627.27" y1="95.80" x2="627.27" y2="102.80" stroke="#b49ad8" stroke-width="1.2"/>
<line x1="636.73" y1="95.80" x2="636.73" y2="102.80" stroke="#b49ad8" stroke-width="1.2"/>
<rect x="575.30" y="87.80" width="9.45" height="9.30" fill="#5a57a5"/>
<rect x="575.90" y="88.40" width="7.45" height="7.40" fill="#66bade"/>
<polygon points="575.30,87.80 584.75,87.80 586.75,83.00 577.30,83.00" fill="#5a57a5" stroke="#111" stroke-width="0.75"/>
<line x1="578.82" y1="86.00" x2="583.23" y2="84.80" stroke="#ffffff88" stroke-width="0.7"/>
<text x="577.12" y="95.24" font-size="8.2" textLength="5.8" lengthAdjust="spacingAndGlyphs" font-weight="bold" fill="#000" stroke="#000" stroke-width="0.35" style="font-family:'Liberation Serif', serif">K</text>
<rect x="575.30" y="87.80" width="9.45" height="9.30" fill="none" stroke="#111" stroke-width="0.75"/>
<rect x="584.75" y="87.80" width="9.45" height="9.30" fill="#5a57a5"/>
<rect x="585.35" y="88.40" width="7.45" height="7.40" fill="#66bade"/>
<polygon points="584.75,87.80 594.20,87.80 596.20,83.00 586.75,83.00" fill="#66bade" stroke="#111" stroke-width="0.75"/>
<line x1="588.27" y1="86.00" x2="592.68" y2="84.80" stroke="#ffffff88" stroke-width="0.7"/>
<text x="586.58" y="95.24" font-size="8.2" textLength="5.8" lengthAdjust="spacingAndGlyphs" font-weight="bold" fill="#000" stroke="#000" stroke-width="0.35" style="font-family:'Liberation Serif', serif">K</text>
<rect x="584.75" y="87.80" width="9.45" height="9.30" fill="none" stroke="#111" stroke-width="0.75"/>
<rect x="594.20" y="87.80" width="9.45" height="9.30" fill="#9d2e72"/>
<rect x="594.80" y="88.40" width="7.45" height="7.40" fill="#1f7f40"/>
<polygon points="594.20,87.80 603.65,87.80 605.65,83.00 596.20,83.00" fill="#1f7f40" stroke="#111" stroke-width="0.75"/>
<line x1="597.72" y1="86.00" x2="602.12" y2="84.80" stroke="#ffffff88" stroke-width="0.7"/>
<text x="595.82" y="95.24" font-size="8.2" textLength="6.2" lengthAdjust="spacingAndGlyphs" font-weight="bold" fill="#000" stroke="#000" stroke-width="0.35" style="font-family:'Liberation Serif', serif">M</text>
<rect x="594.20" y="87.80" width="9.45" height="9.30" fill="none" stroke="#111" stroke-width="0.75"/>
<rect x="603.65" y="87.80" width="9.45" height="9.30" fill="#9d2e72"/>
<rect x="604.25" y="88.40" width="7.45" height="7.40" fill="#1f7f40"/>
<polygon points="603.65,87.80 613.10,87.80 615.10,83.00 605.65,83.00" fill="#1f7f40" stroke="#111" stroke-width="0.75"/>
<line x1="607.17" y1="86.00" x2="611.58" y2="84.80" stroke="#ffffff88" stroke-width="0.7"/>
<text x="605.27" y="95.24" font-size="8.2" textLength="6.2" lengthAdjust="spacingAndGlyphs" font-weight="bold" fill="#000" stroke="#000" stroke-width="0.35" style="font-family:'Liberation Serif', serif">M</text>
<rect x="603.65" y="87.80" width="9.45" height="9.30" fill="none" stroke="#111" stroke-width="0.75"/>
<rect x="613.10" y="87.80" width="9.45" height="9.30" fill="#9d2e72"/>
<rect x="613.70" y="88.40" width="7.45" height="7.40" fill="#1f7f40"/>
<polygon points="613.10,87.80 622.55,87.80 624.55,83.00 615.10,83.00" fill="#9d2e72" stroke="#111" stroke-width="0.75"/>
<line x1="616.62" y1="86.00" x2="621.02" y2="84.80" stroke="#ffffff88" stroke-width="0.7"/>
<text x="614.72" y="95.24" font-size="8.2" textLength="6.2" lengthAdjust="spacingAndGlyphs" font-weight="bold" fill="#000" stroke="#000" stroke-width="0.35" style="font-family:'Liberation Serif', serif">M</text>
<rect x="613.10" y="87.80" width="9.45" height="9.30" fill="none" stroke="#111" stroke-width="0.75"/>
<rect x="622.55" y="87.80" width="9.45" height="9.30" fill="#5a57a5"/>
<rect x="623.15" y="88.40" width="7.45" height="7.40" fill="#66bade"/>
<polygon points="622.55,87.80 632.00,87.80 634.00,83.00 624.55,83.00" fill="#66bade" stroke="#111" stroke-width="0.75"/>
<line x1="626.07" y1="86.00" x2="630.48" y2="84.80" stroke="#ffffff88" stroke-width="0.7"/>
<text x="624.38" y="95.24" font-size="8.2" textLength="5.8" lengthAdjust="spacingAndGlyphs" font-weight="bold" fill="#000" stroke="#000" stroke-width="0.35" style="font-family:'Liberation Serif', serif">K</text>
<rect x="622.55" y="87.80" width="9.45" height="9.30" fill="none" stroke="#111" stroke-width="0.75"/>
<rect x="632.00" y="87.80" width="9.45" height="9.30" fill="#5a57a5"/>
<rect x="632.60" y="88.40" width="7.45" height="7.40" fill="#66bade"/>
<polygon points="632.00,87.80 641.45,87.80 643.45,83.00 634.00,83.00" fill="#5a57a5" stroke="#111" stroke-width="0.75"/>
<line x1="635.52" y1="86.00" x2="639.93" y2="84.80" stroke="#ffffff88" stroke-width="0.7"/>
<text x="633.83" y="95.24" font-size="8.2" textLength="5.8" lengthAdjust="spacingAndGlyphs" font-weight="bold" fill="#000" stroke="#000" stroke-width="0.35" style="font-family:'Liberation Serif', serif">K</text>
<rect x="632.00" y="87.80" width="9.45" height="9.30" fill="none" stroke="#111" stroke-width="0.75"/>
<polygon points="641.45,87.80 643.45,83.00 643.45,92.30 641.45,97.10" fill="#e8e8e8" stroke="#111" stroke-width="0.75"/>
<rect x="565.45" y="107.40" width="9.45" height="9.50" fill="#9d2e72"/>
<rect x="566.05" y="108.00" width="7.45" height="7.60" fill="#1f7f40"/>
<polygon points="565.45,107.40 574.90,107.40 576.90,102.60 567.45,102.60" fill="#1f7f40" stroke="#111" stroke-width="0.75"/>
<line x1="568.97" y1="105.60" x2="573.38" y2="104.40" stroke="#ffffff88" stroke-width="0.7"/>
<text x="567.07" y="114.94" font-size="8.2" textLength="6.2" lengthAdjust="spacingAndGlyphs" font-weight="bold" fill="#000" stroke="#000" stroke-width="0.35" style="font-family:'Liberation Serif', serif">M</text>
<rect x="565.45" y="107.40" width="9.45" height="9.50" fill="none" stroke="#111" stroke-width="0.75"/>
<rect x="574.90" y="107.40" width="9.45" height="9.50" fill="#5a57a5"/>
<rect x="575.50" y="108.00" width="7.45" height="7.60" fill="#66bade"/>
<polygon points="574.90,107.40 584.35,107.40 586.35,102.60 576.90,102.60" fill="#5a57a5" stroke="#111" stroke-width="0.75"/>
<line x1="578.42" y1="105.60" x2="582.83" y2="104.40" stroke="#ffffff88" stroke-width="0.7"/>
<text x="576.73" y="114.94" font-size="8.2" textLength="5.8" lengthAdjust="spacingAndGlyphs" font-weight="bold" fill="#000" stroke="#000" stroke-width="0.35" style="font-family:'Liberation Serif', serif">K</text>
<rect x="574.90" y="107.40" width="9.45" height="9.50" fill="none" stroke="#111" stroke-width="0.75"/>
<rect x="584.35" y="107.40" width="9.45" height="9.50" fill="#5a57a5"/>
<rect x="584.95" y="108.00" width="7.45" height="7.60" fill="#66bade"/>
<polygon points="584.35,107.40 593.80,107.40 595.80,102.60 586.35,102.60" fill="#66bade" stroke="#111" stroke-width="0.75"/>
<line x1="587.87" y1="105.60" x2="592.27" y2="104.40" stroke="#ffffff88" stroke-width="0.7"/>
<text x="586.17" y="114.94" font-size="8.2" textLength="5.8" lengthAdjust="spacingAndGlyphs" font-weight="bold" fill="#000" stroke="#000" stroke-width="0.35" style="font-family:'Liberation Serif', serif">K</text>
<rect x="584.35" y="107.40" width="9.45" height="9.50" fill="none" stroke="#111" stroke-width="0.75"/>
<rect x="593.80" y="107.40" width="9.45" height="9.50" fill="#9d2e72"/>
<rect x="594.40" y="108.00" width="7.45" height="7.60" fill="#1f7f40"/>
<polygon points="593.80,107.40 603.25,107.40 605.25,102.60 595.80,102.60" fill="#1f7f40" stroke="#111" stroke-width="0.75"/>
<line x1="597.32" y1="105.60" x2="601.73" y2="104.40" stroke="#ffffff88" stroke-width="0.7"/>
<text x="595.42" y="114.94" font-size="8.2" textLength="6.2" lengthAdjust="spacingAndGlyphs" font-weight="bold" fill="#000" stroke="#000" stroke-width="0.35" style="font-family:'Liberation Serif', serif">M</text>
<rect x="593.80" y="107.40" width="9.45" height="9.50" fill="none" stroke="#111" stroke-width="0.75"/>
<rect x="603.25" y="107.40" width="9.45" height="9.50" fill="#9d2e72"/>
<rect x="603.85" y="108.00" width="7.45" height="7.60" fill="#1f7f40"/>
<polygon points="603.25,107.40 612.70,107.40 614.70,102.60 605.25,102.60" fill="#9d2e72" stroke="#111" stroke-width="0.75"/>
<line x1="606.77" y1="105.60" x2="611.17" y2="104.40" stroke="#ffffff88" stroke-width="0.7"/>
<text x="604.87" y="114.94" font-size="8.2" textLength="6.2" lengthAdjust="spacingAndGlyphs" font-weight="bold" fill="#000" stroke="#000" stroke-width="0.35" style="font-family:'Liberation Serif', serif">M</text>
<rect x="603.25" y="107.40" width="9.45" height="9.50" fill="none" stroke="#111" stroke-width="0.75"/>
<rect x="612.70" y="107.40" width="9.45" height="9.50" fill="#9d2e72"/>
<rect x="613.30" y="108.00" width="7.45" height="7.60" fill="#1f7f40"/>
<polygon points="612.70,107.40 622.15,107.40 624.15,102.60 614.70,102.60" fill="#9d2e72" stroke="#111" stroke-width="0.75"/>
<line x1="616.22" y1="105.60" x2="620.62" y2="104.40" stroke="#ffffff88" stroke-width="0.7"/>
<text x="614.32" y="114.94" font-size="8.2" textLength="6.2" lengthAdjust="spacingAndGlyphs" font-weight="bold" fill="#000" stroke="#000" stroke-width="0.35" style="font-family:'Liberation Serif', serif">M</text>
<rect x="612.70" y="107.40" width="9.45" height="9.50" fill="none" stroke="#111" stroke-width="0.75"/>
<rect x="622.15" y="107.40" width="9.45" height="9.50" fill="#5a57a5"/>
<rect x="622.75" y="108.00" width="7.45" height="7.60" fill="#66bade"/>
<polygon points="622.15,107.40 631.60,107.40 633.60,102.60 624.15,102.60" fill="#66bade" stroke="#111" stroke-width="0.75"/>
<line x1="625.67" y1="105.60" x2="630.08" y2="104.40" stroke="#ffffff88" stroke-width="0.7"/>
<text x="623.98" y="114.94" font-size="8.2" textLength="5.8" lengthAdjust="spacingAndGlyphs" font-weight="bold" fill="#000" stroke="#000" stroke-width="0.35" style="font-family:'Liberation Serif', serif">K</text>
<rect x="622.15" y="107.40" width="9.45" height="9.50" fill="none" stroke="#111" stroke-width="0.75"/>
<rect x="631.60" y="107.40" width="9.45" height="9.50" fill="#5a57a5"/>
<rect x="632.20" y="108.00" width="7.45" height="7.60" fill="#66bade"/>
<polygon points="631.60,107.40 641.05,107.40 643.05,102.60 633.60,102.60" fill="#5a57a5" stroke="#111" stroke-width="0.75"/>
<line x1="635.12" y1="105.60" x2="639.52" y2="104.40" stroke="#ffffff88" stroke-width="0.7"/>
<text x="633.42" y="114.94" font-size="8.2" textLength="5.8" lengthAdjust="spacingAndGlyphs" font-weight="bold" fill="#000" stroke="#000" stroke-width="0.35" style="font-family:'Liberation Serif', serif">K</text>
<rect x="631.60" y="107.40" width="9.45" height="9.50" fill="none" stroke="#111" stroke-width="0.75"/>
<rect x="641.05" y="107.40" width="9.45" height="9.50" fill="#5a57a5"/>
<rect x="641.65" y="108.00" width="7.45" height="7.60" fill="#66bade"/>
<polygon points="641.05,107.40 650.50,107.40 652.50,102.60 643.05,102.60" fill="#5a57a5" stroke="#111" stroke-width="0.75"/>
<line x1="644.57" y1="105.60" x2="648.98" y2="104.40" stroke="#ffffff88" stroke-width="0.7"/>
<text x="642.88" y="114.94" font-size="8.2" textLength="5.8" lengthAdjust="spacingAndGlyphs" font-weight="bold" fill="#000" stroke="#000" stroke-width="0.35" style="font-family:'Liberation Serif', serif">K</text>
<rect x="641.05" y="107.40" width="9.45" height="9.50" fill="none" stroke="#111" stroke-width="0.75"/>
<defs><linearGradient id="fd1181" x1="0" x2="1" y1="0" y2="0"><stop offset="0" stop-color="#fff" stop-opacity="1"/><stop offset="0.55" stop-color="#fff" stop-opacity="0.8"/><stop offset="1" stop-color="#fff" stop-opacity="0.15"/></linearGradient></defs>
<rect x="562.45" y="101.90" width="12.45" height="16.00" fill="url(#fd1181)"/>
<defs><linearGradient id="fd1183" x1="0" x2="1" y1="0" y2="0"><stop offset="0" stop-color="#fff" stop-opacity="0.15"/><stop offset="0.45" stop-color="#fff" stop-opacity="0.8"/><stop offset="1" stop-color="#fff" stop-opacity="1"/></linearGradient></defs>
<rect x="641.05" y="101.90" width="12.45" height="16.00" fill="url(#fd1183)"/>
<text x="436.00" y="101.90" font-size="9.0" text-anchor="start" font-weight="normal" font-style="normal" fill="#5cbf4a">Called</text>
<text x="540.50" y="101.90" font-size="9.0" text-anchor="start" font-weight="normal" font-style="normal" fill="#e8384a">Missed</text>
<text x="647.00" y="101.90" font-size="9.0" text-anchor="start" font-weight="normal" font-style="normal" fill="#5cbf4a">Called</text>
<text x="349.60" y="142.40" font-size="8.6" text-anchor="end" font-weight="normal" font-style="normal" fill="#333">AC&gt;CA</text>
<text x="349.60" y="163.40" font-size="8.6" text-anchor="end" font-weight="normal" font-style="normal" fill="#333">Reference</text>
<line x1="368.95" y1="145.40" x2="368.95" y2="153.80" stroke="#a05bbf" stroke-width="1.2"/>
<line x1="378.25" y1="145.40" x2="378.25" y2="153.80" stroke="#6fcfe0" stroke-width="1.2"/>
<line x1="406.15" y1="145.40" x2="406.15" y2="153.80" stroke="#e8352b" stroke-width="1.2"/>
<line x1="415.45" y1="145.40" x2="415.45" y2="153.80" stroke="#6fcfe0" stroke-width="1.2"/>
<line x1="424.75" y1="145.40" x2="424.75" y2="153.80" stroke="#a05bbf" stroke-width="1.2"/>
<rect x="364.30" y="137.40" width="9.30" height="9.30" fill="#5a57a5"/>
<polygon points="364.30,137.40 373.60,137.40 375.60,132.60 366.30,132.60" fill="#e4e4e4" stroke="#111" stroke-width="0.75"/>
<text x="366.25" y="144.84" font-size="8.2" textLength="5.4" lengthAdjust="spacingAndGlyphs" font-weight="bold" fill="#000" stroke="#000" stroke-width="0.35" style="font-family:'Liberation Serif', serif">T</text>
<rect x="364.30" y="137.40" width="9.30" height="9.30" fill="none" stroke="#111" stroke-width="0.75"/>
<rect x="373.60" y="137.40" width="9.30" height="9.30" fill="#66bade"/>
<polygon points="373.60,137.40 382.90,137.40 384.90,132.60 375.60,132.60" fill="#e4e4e4" stroke="#111" stroke-width="0.75"/>
<text x="375.35" y="144.84" font-size="8.2" textLength="5.8" lengthAdjust="spacingAndGlyphs" font-weight="bold" fill="#000" stroke="#000" stroke-width="0.35" style="font-family:'Liberation Serif', serif">G</text>
<rect x="373.60" y="137.40" width="9.30" height="9.30" fill="none" stroke="#111" stroke-width="0.75"/>
<rect x="382.90" y="137.40" width="9.30" height="9.30" fill="#9d2e72"/>
<polygon points="382.90,137.40 392.20,137.40 394.20,132.60 384.90,132.60" fill="#e4e4e4" stroke="#111" stroke-width="0.75"/>
<text x="384.95" y="144.84" font-size="8.2" textLength="5.2" lengthAdjust="spacingAndGlyphs" font-weight="bold" fill="#000" stroke="#000" stroke-width="0.35" style="font-family:'Liberation Serif', serif">C</text>
<rect x="382.90" y="137.40" width="9.30" height="9.30" fill="none" stroke="#111" stroke-width="0.75"/>
<rect x="392.20" y="137.40" width="9.30" height="9.30" fill="#1f7f40"/>
<polygon points="392.20,137.40 401.50,137.40 403.50,132.60 394.20,132.60" fill="#e4e4e4" stroke="#111" stroke-width="0.75"/>
<text x="393.85" y="144.84" font-size="8.2" textLength="6.0" lengthAdjust="spacingAndGlyphs" font-weight="bold" fill="#000" stroke="#000" stroke-width="0.35" style="font-family:'Liberation Serif', serif">A</text>
<rect x="392.20" y="137.40" width="9.30" height="9.30" fill="none" stroke="#111" stroke-width="0.75"/>
<rect x="401.50" y="137.40" width="9.30" height="9.30" fill="#9d2e72"/>
<polygon points="401.50,137.40 410.80,137.40 412.80,132.60 403.50,132.60" fill="#e4e4e4" stroke="#111" stroke-width="0.75"/>
<text x="403.55" y="144.84" font-size="8.2" textLength="5.2" lengthAdjust="spacingAndGlyphs" font-weight="bold" fill="#000" stroke="#000" stroke-width="0.35" style="font-family:'Liberation Serif', serif">C</text>
<rect x="401.50" y="137.40" width="9.30" height="9.30" fill="none" stroke="#111" stroke-width="0.75"/>
<rect x="410.80" y="137.40" width="9.30" height="9.30" fill="#66bade"/>
<polygon points="410.80,137.40 420.10,137.40 422.10,132.60 412.80,132.60" fill="#e4e4e4" stroke="#111" stroke-width="0.75"/>
<text x="412.55" y="144.84" font-size="8.2" textLength="5.8" lengthAdjust="spacingAndGlyphs" font-weight="bold" fill="#000" stroke="#000" stroke-width="0.35" style="font-family:'Liberation Serif', serif">G</text>
<rect x="410.80" y="137.40" width="9.30" height="9.30" fill="none" stroke="#111" stroke-width="0.75"/>
<rect x="420.10" y="137.40" width="9.30" height="9.30" fill="#5a57a5"/>
<polygon points="420.10,137.40 429.40,137.40 431.40,132.60 422.10,132.60" fill="#e4e4e4" stroke="#111" stroke-width="0.75"/>
<text x="422.05" y="144.84" font-size="8.2" textLength="5.4" lengthAdjust="spacingAndGlyphs" font-weight="bold" fill="#000" stroke="#000" stroke-width="0.35" style="font-family:'Liberation Serif', serif">T</text>
<rect x="420.10" y="137.40" width="9.30" height="9.30" fill="none" stroke="#111" stroke-width="0.75"/>
<polygon points="429.40,137.40 431.40,132.60 431.40,141.90 429.40,146.70" fill="#e8e8e8" stroke="#111" stroke-width="0.75"/>
<rect x="354.60" y="158.40" width="9.30" height="9.50" fill="#1f7f40"/>
<polygon points="354.60,158.40 363.90,158.40 365.90,153.60 356.60,153.60" fill="#e4e4e4" stroke="#111" stroke-width="0.75"/>
<text x="356.25" y="165.94" font-size="8.2" textLength="6.0" lengthAdjust="spacingAndGlyphs" font-weight="bold" fill="#000" stroke="#000" stroke-width="0.35" style="font-family:'Liberation Serif', serif">A</text>
<rect x="354.60" y="158.40" width="9.30" height="9.50" fill="none" stroke="#111" stroke-width="0.75"/>
<rect x="363.90" y="158.40" width="9.30" height="9.50" fill="#5a57a5"/>
<polygon points="363.90,158.40 373.20,158.40 375.20,153.60 365.90,153.60" fill="#e4e4e4" stroke="#111" stroke-width="0.75"/>
<text x="365.85" y="165.94" font-size="8.2" textLength="5.4" lengthAdjust="spacingAndGlyphs" font-weight="bold" fill="#000" stroke="#000" stroke-width="0.35" style="font-family:'Liberation Serif', serif">T</text>
<rect x="363.90" y="158.40" width="9.30" height="9.50" fill="none" stroke="#111" stroke-width="0.75"/>
<rect x="373.20" y="158.40" width="9.30" height="9.50" fill="#66bade"/>
<polygon points="373.20,158.40 382.50,158.40 384.50,153.60 375.20,153.60" fill="#e4e4e4" stroke="#111" stroke-width="0.75"/>
<text x="374.95" y="165.94" font-size="8.2" textLength="5.8" lengthAdjust="spacingAndGlyphs" font-weight="bold" fill="#000" stroke="#000" stroke-width="0.35" style="font-family:'Liberation Serif', serif">G</text>
<rect x="373.20" y="158.40" width="9.30" height="9.50" fill="none" stroke="#111" stroke-width="0.75"/>
<rect x="382.50" y="158.40" width="9.30" height="9.50" fill="#1f7f40"/>
<polygon points="382.50,158.40 391.80,158.40 393.80,153.60 384.50,153.60" fill="#e4e4e4" stroke="#111" stroke-width="0.75"/>
<text x="384.15" y="165.94" font-size="8.2" textLength="6.0" lengthAdjust="spacingAndGlyphs" font-weight="bold" fill="#000" stroke="#000" stroke-width="0.35" style="font-family:'Liberation Serif', serif">A</text>
<rect x="382.50" y="158.40" width="9.30" height="9.50" fill="none" stroke="#111" stroke-width="0.75"/>
<rect x="391.80" y="158.40" width="9.30" height="9.50" fill="#9d2e72"/>
<polygon points="391.80,158.40 401.10,158.40 403.10,153.60 393.80,153.60" fill="#e4e4e4" stroke="#111" stroke-width="0.75"/>
<text x="393.85" y="165.94" font-size="8.2" textLength="5.2" lengthAdjust="spacingAndGlyphs" font-weight="bold" fill="#000" stroke="#000" stroke-width="0.35" style="font-family:'Liberation Serif', serif">C</text>
<rect x="391.80" y="158.40" width="9.30" height="9.50" fill="none" stroke="#111" stroke-width="0.75"/>
<rect x="401.10" y="158.40" width="9.30" height="9.50" fill="#9d2e72"/>
<polygon points="401.10,158.40 410.40,158.40 412.40,153.60 403.10,153.60" fill="#e4e4e4" stroke="#111" stroke-width="0.75"/>
<text x="403.15" y="165.94" font-size="8.2" textLength="5.2" lengthAdjust="spacingAndGlyphs" font-weight="bold" fill="#000" stroke="#000" stroke-width="0.35" style="font-family:'Liberation Serif', serif">C</text>
<rect x="401.10" y="158.40" width="9.30" height="9.50" fill="none" stroke="#111" stroke-width="0.75"/>
<rect x="410.40" y="158.40" width="9.30" height="9.50" fill="#66bade"/>
<polygon points="410.40,158.40 419.70,158.40 421.70,153.60 412.40,153.60" fill="#e4e4e4" stroke="#111" stroke-width="0.75"/>
<text x="412.15" y="165.94" font-size="8.2" textLength="5.8" lengthAdjust="spacingAndGlyphs" font-weight="bold" fill="#000" stroke="#000" stroke-width="0.35" style="font-family:'Liberation Serif', serif">G</text>
<rect x="410.40" y="158.40" width="9.30" height="9.50" fill="none" stroke="#111" stroke-width="0.75"/>
<rect x="419.70" y="158.40" width="9.30" height="9.50" fill="#5a57a5"/>
<polygon points="419.70,158.40 429.00,158.40 431.00,153.60 421.70,153.60" fill="#e4e4e4" stroke="#111" stroke-width="0.75"/>
<text x="421.65" y="165.94" font-size="8.2" textLength="5.4" lengthAdjust="spacingAndGlyphs" font-weight="bold" fill="#000" stroke="#000" stroke-width="0.35" style="font-family:'Liberation Serif', serif">T</text>
<rect x="419.70" y="158.40" width="9.30" height="9.50" fill="none" stroke="#111" stroke-width="0.75"/>
<rect x="429.00" y="158.40" width="9.30" height="9.50" fill="#5a57a5"/>
<polygon points="429.00,158.40 438.30,158.40 440.30,153.60 431.00,153.60" fill="#e4e4e4" stroke="#111" stroke-width="0.75"/>
<text x="430.95" y="165.94" font-size="8.2" textLength="5.4" lengthAdjust="spacingAndGlyphs" font-weight="bold" fill="#000" stroke="#000" stroke-width="0.35" style="font-family:'Liberation Serif', serif">T</text>
<rect x="429.00" y="158.40" width="9.30" height="9.50" fill="none" stroke="#111" stroke-width="0.75"/>
<defs><linearGradient id="fd1260" x1="0" x2="1" y1="0" y2="0"><stop offset="0" stop-color="#fff" stop-opacity="1"/><stop offset="0.55" stop-color="#fff" stop-opacity="0.8"/><stop offset="1" stop-color="#fff" stop-opacity="0.15"/></linearGradient></defs>
<rect x="351.60" y="152.90" width="12.30" height="16.00" fill="url(#fd1260)"/>
<defs><linearGradient id="fd1262" x1="0" x2="1" y1="0" y2="0"><stop offset="0" stop-color="#fff" stop-opacity="0.15"/><stop offset="0.45" stop-color="#fff" stop-opacity="0.8"/><stop offset="1" stop-color="#fff" stop-opacity="1"/></linearGradient></defs>
<rect x="429.00" y="152.90" width="12.30" height="16.00" fill="url(#fd1262)"/>
<line x1="472.23" y1="145.40" x2="472.23" y2="153.80" stroke="#111" stroke-width="1.2"/>
<line x1="481.68" y1="145.40" x2="481.68" y2="153.80" stroke="#111" stroke-width="1.2"/>
<line x1="491.12" y1="145.40" x2="491.12" y2="153.80" stroke="#bbb" stroke-width="1.2"/>
<line x1="500.58" y1="145.40" x2="500.58" y2="153.80" stroke="#bbb" stroke-width="1.2"/>
<line x1="510.03" y1="145.40" x2="510.03" y2="153.80" stroke="#bbb" stroke-width="1.2"/>
<line x1="519.48" y1="145.40" x2="519.48" y2="153.80" stroke="#111" stroke-width="1.2"/>
<line x1="528.93" y1="145.40" x2="528.93" y2="153.80" stroke="#111" stroke-width="1.2"/>
<rect x="467.50" y="137.40" width="9.45" height="9.30" fill="#0a0a0a"/>
<polygon points="467.50,137.40 476.95,137.40 478.95,132.60 469.50,132.60" fill="#0a0a0a" stroke="#111" stroke-width="0.75"/>
<line x1="471.03" y1="135.60" x2="475.43" y2="134.40" stroke="#ffffffcc" stroke-width="0.7"/>
<text x="469.33" y="144.84" font-size="8.2" textLength="5.8" lengthAdjust="spacingAndGlyphs" font-weight="bold" fill="#fff" stroke="#fff" stroke-width="0.35" style="font-family:'Liberation Serif', serif">K</text>
<rect x="467.50" y="137.40" width="9.45" height="9.30" fill="none" stroke="#111" stroke-width="0.75"/>
<rect x="476.95" y="137.40" width="9.45" height="9.30" fill="#0a0a0a"/>
<polygon points="476.95,137.40 486.40,137.40 488.40,132.60 478.95,132.60" fill="#0a0a0a" stroke="#111" stroke-width="0.75"/>
<line x1="480.48" y1="135.60" x2="484.88" y2="134.40" stroke="#ffffffcc" stroke-width="0.7"/>
<text x="478.78" y="144.84" font-size="8.2" textLength="5.8" lengthAdjust="spacingAndGlyphs" font-weight="bold" fill="#fff" stroke="#fff" stroke-width="0.35" style="font-family:'Liberation Serif', serif">K</text>
<rect x="476.95" y="137.40" width="9.45" height="9.30" fill="none" stroke="#111" stroke-width="0.75"/>
<rect x="486.40" y="137.40" width="9.45" height="9.30" fill="#fafafa"/>
<polygon points="486.40,137.40 495.85,137.40 497.85,132.60 488.40,132.60" fill="#e8e8e8" stroke="#111" stroke-width="0.75"/>
<line x1="489.93" y1="135.60" x2="494.32" y2="134.40" stroke="#333" stroke-width="0.7"/>
<text x="488.02" y="144.84" font-size="8.2" textLength="6.2" lengthAdjust="spacingAndGlyphs" font-weight="bold" fill="#000" stroke="#000" stroke-width="0.35" style="font-family:'Liberation Serif', serif">M</text>
<rect x="486.40" y="137.40" width="9.45" height="9.30" fill="none" stroke="#111" stroke-width="0.75"/>
<rect x="495.85" y="137.40" width="9.45" height="9.30" fill="#fafafa"/>
<polygon points="495.85,137.40 505.30,137.40 507.30,132.60 497.85,132.60" fill="#e8e8e8" stroke="#111" stroke-width="0.75"/>
<line x1="499.38" y1="135.60" x2="503.78" y2="134.40" stroke="#333" stroke-width="0.7"/>
<text x="497.48" y="144.84" font-size="8.2" textLength="6.2" lengthAdjust="spacingAndGlyphs" font-weight="bold" fill="#000" stroke="#000" stroke-width="0.35" style="font-family:'Liberation Serif', serif">M</text>
<rect x="495.85" y="137.40" width="9.45" height="9.30" fill="none" stroke="#111" stroke-width="0.75"/>
<rect x="505.30" y="137.40" width="9.45" height="9.30" fill="#fafafa"/>
<polygon points="505.30,137.40 514.75,137.40 516.75,132.60 507.30,132.60" fill="#e8e8e8" stroke="#111" stroke-width="0.75"/>
<line x1="508.83" y1="135.60" x2="513.23" y2="134.40" stroke="#333" stroke-width="0.7"/>
<text x="506.93" y="144.84" font-size="8.2" textLength="6.2" lengthAdjust="spacingAndGlyphs" font-weight="bold" fill="#000" stroke="#000" stroke-width="0.35" style="font-family:'Liberation Serif', serif">M</text>
<rect x="505.30" y="137.40" width="9.45" height="9.30" fill="none" stroke="#111" stroke-width="0.75"/>
<rect x="514.75" y="137.40" width="9.45" height="9.30" fill="#0a0a0a"/>
<polygon points="514.75,137.40 524.20,137.40 526.20,132.60 516.75,132.60" fill="#0a0a0a" stroke="#111" stroke-width="0.75"/>
<line x1="518.27" y1="135.60" x2="522.68" y2="134.40" stroke="#ffffffcc" stroke-width="0.7"/>
<text x="516.58" y="144.84" font-size="8.2" textLength="5.8" lengthAdjust="spacingAndGlyphs" font-weight="bold" fill="#fff" stroke="#fff" stroke-width="0.35" style="font-family:'Liberation Serif', serif">K</text>
<rect x="514.75" y="137.40" width="9.45" height="9.30" fill="none" stroke="#111" stroke-width="0.75"/>
<rect x="524.20" y="137.40" width="9.45" height="9.30" fill="#0a0a0a"/>
<polygon points="524.20,137.40 533.65,137.40 535.65,132.60 526.20,132.60" fill="#0a0a0a" stroke="#111" stroke-width="0.75"/>
<line x1="527.73" y1="135.60" x2="532.13" y2="134.40" stroke="#ffffffcc" stroke-width="0.7"/>
<text x="526.03" y="144.84" font-size="8.2" textLength="5.8" lengthAdjust="spacingAndGlyphs" font-weight="bold" fill="#fff" stroke="#fff" stroke-width="0.35" style="font-family:'Liberation Serif', serif">K</text>
<rect x="524.20" y="137.40" width="9.45" height="9.30" fill="none" stroke="#111" stroke-width="0.75"/>
<polygon points="533.65,137.40 535.65,132.60 535.65,141.90 533.65,146.70" fill="#e8e8e8" stroke="#111" stroke-width="0.75"/>
<rect x="457.65" y="158.40" width="9.45" height="9.50" fill="#fafafa"/>
<polygon points="457.65,158.40 467.10,158.40 469.10,153.60 459.65,153.60" fill="#e8e8e8" stroke="#111" stroke-width="0.75"/>
<line x1="461.18" y1="156.60" x2="465.58" y2="155.40" stroke="#333" stroke-width="0.7"/>
<text x="459.28" y="165.94" font-size="8.2" textLength="6.2" lengthAdjust="spacingAndGlyphs" font-weight="bold" fill="#000" stroke="#000" stroke-width="0.35" style="font-family:'Liberation Serif', serif">M</text>
<rect x="457.65" y="158.40" width="9.45" height="9.50" fill="none" stroke="#111" stroke-width="0.75"/>
<rect x="467.10" y="158.40" width="9.45" height="9.50" fill="#0a0a0a"/>
<polygon points="467.10,158.40 476.55,158.40 478.55,153.60 469.10,153.60" fill="#0a0a0a" stroke="#111" stroke-width="0.75"/>
<line x1="470.63" y1="156.60" x2="475.03" y2="155.40" stroke="#ffffffcc" stroke-width="0.7"/>
<text x="468.93" y="165.94" font-size="8.2" textLength="5.8" lengthAdjust="spacingAndGlyphs" font-weight="bold" fill="#fff" stroke="#fff" stroke-width="0.35" style="font-family:'Liberation Serif', serif">K</text>
<rect x="467.10" y="158.40" width="9.45" height="9.50" fill="none" stroke="#111" stroke-width="0.75"/>
<rect x="476.55" y="158.40" width="9.45" height="9.50" fill="#0a0a0a"/>
<polygon points="476.55,158.40 486.00,158.40 488.00,153.60 478.55,153.60" fill="#0a0a0a" stroke="#111" stroke-width="0.75"/>
<line x1="480.08" y1="156.60" x2="484.48" y2="155.40" stroke="#ffffffcc" stroke-width="0.7"/>
<text x="478.38" y="165.94" font-size="8.2" textLength="5.8" lengthAdjust="spacingAndGlyphs" font-weight="bold" fill="#fff" stroke="#fff" stroke-width="0.35" style="font-family:'Liberation Serif', serif">K</text>
<rect x="476.55" y="158.40" width="9.45" height="9.50" fill="none" stroke="#111" stroke-width="0.75"/>
<rect x="486.00" y="158.40" width="9.45" height="9.50" fill="#fafafa"/>
<polygon points="486.00,158.40 495.45,158.40 497.45,153.60 488.00,153.60" fill="#e8e8e8" stroke="#111" stroke-width="0.75"/>
<line x1="489.53" y1="156.60" x2="493.93" y2="155.40" stroke="#333" stroke-width="0.7"/>
<text x="487.63" y="165.94" font-size="8.2" textLength="6.2" lengthAdjust="spacingAndGlyphs" font-weight="bold" fill="#000" stroke="#000" stroke-width="0.35" style="font-family:'Liberation Serif', serif">M</text>
<rect x="486.00" y="158.40" width="9.45" height="9.50" fill="none" stroke="#111" stroke-width="0.75"/>
<rect x="495.45" y="158.40" width="9.45" height="9.50" fill="#fafafa"/>
<polygon points="495.45,158.40 504.90,158.40 506.90,153.60 497.45,153.60" fill="#e8e8e8" stroke="#111" stroke-width="0.75"/>
<line x1="498.98" y1="156.60" x2="503.38" y2="155.40" stroke="#333" stroke-width="0.7"/>
<text x="497.08" y="165.94" font-size="8.2" textLength="6.2" lengthAdjust="spacingAndGlyphs" font-weight="bold" fill="#000" stroke="#000" stroke-width="0.35" style="font-family:'Liberation Serif', serif">M</text>
<rect x="495.45" y="158.40" width="9.45" height="9.50" fill="none" stroke="#111" stroke-width="0.75"/>
<rect x="504.90" y="158.40" width="9.45" height="9.50" fill="#fafafa"/>
<polygon points="504.90,158.40 514.35,158.40 516.35,153.60 506.90,153.60" fill="#e8e8e8" stroke="#111" stroke-width="0.75"/>
<line x1="508.43" y1="156.60" x2="512.83" y2="155.40" stroke="#333" stroke-width="0.7"/>
<text x="506.53" y="165.94" font-size="8.2" textLength="6.2" lengthAdjust="spacingAndGlyphs" font-weight="bold" fill="#000" stroke="#000" stroke-width="0.35" style="font-family:'Liberation Serif', serif">M</text>
<rect x="504.90" y="158.40" width="9.45" height="9.50" fill="none" stroke="#111" stroke-width="0.75"/>
<rect x="514.35" y="158.40" width="9.45" height="9.50" fill="#0a0a0a"/>
<polygon points="514.35,158.40 523.80,158.40 525.80,153.60 516.35,153.60" fill="#0a0a0a" stroke="#111" stroke-width="0.75"/>
<line x1="517.88" y1="156.60" x2="522.28" y2="155.40" stroke="#ffffffcc" stroke-width="0.7"/>
<text x="516.18" y="165.94" font-size="8.2" textLength="5.8" lengthAdjust="spacingAndGlyphs" font-weight="bold" fill="#fff" stroke="#fff" stroke-width="0.35" style="font-family:'Liberation Serif', serif">K</text>
<rect x="514.35" y="158.40" width="9.45" height="9.50" fill="none" stroke="#111" stroke-width="0.75"/>
<rect x="523.80" y="158.40" width="9.45" height="9.50" fill="#0a0a0a"/>
<polygon points="523.80,158.40 533.25,158.40 535.25,153.60 525.80,153.60" fill="#0a0a0a" stroke="#111" stroke-width="0.75"/>
<line x1="527.33" y1="156.60" x2="531.73" y2="155.40" stroke="#ffffffcc" stroke-width="0.7"/>
<text x="525.63" y="165.94" font-size="8.2" textLength="5.8" lengthAdjust="spacingAndGlyphs" font-weight="bold" fill="#fff" stroke="#fff" stroke-width="0.35" style="font-family:'Liberation Serif', serif">K</text>
<rect x="523.80" y="158.40" width="9.45" height="9.50" fill="none" stroke="#111" stroke-width="0.75"/>
<rect x="533.25" y="158.40" width="9.45" height="9.50" fill="#0a0a0a"/>
<polygon points="533.25,158.40 542.70,158.40 544.70,153.60 535.25,153.60" fill="#0a0a0a" stroke="#111" stroke-width="0.75"/>
<line x1="536.77" y1="156.60" x2="541.18" y2="155.40" stroke="#ffffffcc" stroke-width="0.7"/>
<text x="535.08" y="165.94" font-size="8.2" textLength="5.8" lengthAdjust="spacingAndGlyphs" font-weight="bold" fill="#fff" stroke="#fff" stroke-width="0.35" style="font-family:'Liberation Serif', serif">K</text>
<rect x="533.25" y="158.40" width="9.45" height="9.50" fill="none" stroke="#111" stroke-width="0.75"/>
<defs><linearGradient id="fd1352" x1="0" x2="1" y1="0" y2="0"><stop offset="0" stop-color="#fff" stop-opacity="1"/><stop offset="0.55" stop-color="#fff" stop-opacity="0.8"/><stop offset="1" stop-color="#fff" stop-opacity="0.15"/></linearGradient></defs>
<rect x="454.65" y="152.90" width="12.45" height="16.00" fill="url(#fd1352)"/>
<defs><linearGradient id="fd1354" x1="0" x2="1" y1="0" y2="0"><stop offset="0" stop-color="#fff" stop-opacity="0.15"/><stop offset="0.45" stop-color="#fff" stop-opacity="0.8"/><stop offset="1" stop-color="#fff" stop-opacity="1"/></linearGradient></defs>
<rect x="533.25" y="152.90" width="12.45" height="16.00" fill="url(#fd1354)"/>
<line x1="580.02" y1="145.40" x2="580.02" y2="153.80" stroke="#b49ad8" stroke-width="1.2"/>
<line x1="589.48" y1="145.40" x2="589.48" y2="153.80" stroke="#b49ad8" stroke-width="1.2"/>
<line x1="598.92" y1="145.40" x2="598.92" y2="153.80" stroke="#c8902a" stroke-width="1.2"/>
<line x1="608.38" y1="145.40" x2="608.38" y2="153.80" stroke="#c8902a" stroke-width="1.2"/>
<line x1="617.82" y1="145.40" x2="617.82" y2="153.80" stroke="#c8902a" stroke-width="1.2"/>
<line x1="627.27" y1="145.40" x2="627.27" y2="153.80" stroke="#b49ad8" stroke-width="1.2"/>
<line x1="636.73" y1="145.40" x2="636.73" y2="153.80" stroke="#b49ad8" stroke-width="1.2"/>
<rect x="575.30" y="137.40" width="9.45" height="9.30" fill="#5a57a5"/>
<rect x="575.90" y="138.00" width="7.45" height="7.40" fill="#66bade"/>
<polygon points="575.30,137.40 584.75,137.40 586.75,132.60 577.30,132.60" fill="#5a57a5" stroke="#111" stroke-width="0.75"/>
<line x1="578.82" y1="135.60" x2="583.23" y2="134.40" stroke="#ffffff88" stroke-width="0.7"/>
<text x="577.12" y="144.84" font-size="8.2" textLength="5.8" lengthAdjust="spacingAndGlyphs" font-weight="bold" fill="#000" stroke="#000" stroke-width="0.35" style="font-family:'Liberation Serif', serif">K</text>
<rect x="575.30" y="137.40" width="9.45" height="9.30" fill="none" stroke="#111" stroke-width="0.75"/>
<rect x="584.75" y="137.40" width="9.45" height="9.30" fill="#5a57a5"/>
<rect x="585.35" y="138.00" width="7.45" height="7.40" fill="#66bade"/>
<polygon points="584.75,137.40 594.20,137.40 596.20,132.60 586.75,132.60" fill="#66bade" stroke="#111" stroke-width="0.75"/>
<line x1="588.27" y1="135.60" x2="592.68" y2="134.40" stroke="#ffffff88" stroke-width="0.7"/>
<text x="586.58" y="144.84" font-size="8.2" textLength="5.8" lengthAdjust="spacingAndGlyphs" font-weight="bold" fill="#000" stroke="#000" stroke-width="0.35" style="font-family:'Liberation Serif', serif">K</text>
<rect x="584.75" y="137.40" width="9.45" height="9.30" fill="none" stroke="#111" stroke-width="0.75"/>
<rect x="594.20" y="137.40" width="9.45" height="9.30" fill="#9d2e72"/>
<rect x="594.80" y="138.00" width="7.45" height="7.40" fill="#1f7f40"/>
<polygon points="594.20,137.40 603.65,137.40 605.65,132.60 596.20,132.60" fill="#9d2e72" stroke="#111" stroke-width="0.75"/>
<line x1="597.72" y1="135.60" x2="602.12" y2="134.40" stroke="#ffffff88" stroke-width="0.7"/>
<text x="595.82" y="144.84" font-size="8.2" textLength="6.2" lengthAdjust="spacingAndGlyphs" font-weight="bold" fill="#000" stroke="#000" stroke-width="0.35" style="font-family:'Liberation Serif', serif">M</text>
<rect x="594.20" y="137.40" width="9.45" height="9.30" fill="none" stroke="#111" stroke-width="0.75"/>
<rect x="603.65" y="137.40" width="9.45" height="9.30" fill="#9d2e72"/>
<rect x="604.25" y="138.00" width="7.45" height="7.40" fill="#1f7f40"/>
<polygon points="603.65,137.40 613.10,137.40 615.10,132.60 605.65,132.60" fill="#1f7f40" stroke="#111" stroke-width="0.75"/>
<line x1="607.17" y1="135.60" x2="611.58" y2="134.40" stroke="#ffffff88" stroke-width="0.7"/>
<text x="605.27" y="144.84" font-size="8.2" textLength="6.2" lengthAdjust="spacingAndGlyphs" font-weight="bold" fill="#000" stroke="#000" stroke-width="0.35" style="font-family:'Liberation Serif', serif">M</text>
<rect x="603.65" y="137.40" width="9.45" height="9.30" fill="none" stroke="#111" stroke-width="0.75"/>
<rect x="613.10" y="137.40" width="9.45" height="9.30" fill="#9d2e72"/>
<rect x="613.70" y="138.00" width="7.45" height="7.40" fill="#1f7f40"/>
<polygon points="613.10,137.40 622.55,137.40 624.55,132.60 615.10,132.60" fill="#9d2e72" stroke="#111" stroke-width="0.75"/>
<line x1="616.62" y1="135.60" x2="621.02" y2="134.40" stroke="#ffffff88" stroke-width="0.7"/>
<text x="614.72" y="144.84" font-size="8.2" textLength="6.2" lengthAdjust="spacingAndGlyphs" font-weight="bold" fill="#000" stroke="#000" stroke-width="0.35" style="font-family:'Liberation Serif', serif">M</text>
<rect x="613.10" y="137.40" width="9.45" height="9.30" fill="none" stroke="#111" stroke-width="0.75"/>
<rect x="622.55" y="137.40" width="9.45" height="9.30" fill="#5a57a5"/>
<rect x="623.15" y="138.00" width="7.45" height="7.40" fill="#66bade"/>
<polygon points="622.55,137.40 632.00,137.40 634.00,132.60 624.55,132.60" fill="#66bade" stroke="#111" stroke-width="0.75"/>
<line x1="626.07" y1="135.60" x2="630.48" y2="134.40" stroke="#ffffff88" stroke-width="0.7"/>
<text x="624.38" y="144.84" font-size="8.2" textLength="5.8" lengthAdjust="spacingAndGlyphs" font-weight="bold" fill="#000" stroke="#000" stroke-width="0.35" style="font-family:'Liberation Serif', serif">K</text>
<rect x="622.55" y="137.40" width="9.45" height="9.30" fill="none" stroke="#111" stroke-width="0.75"/>
<rect x="632.00" y="137.40" width="9.45" height="9.30" fill="#5a57a5"/>
<rect x="632.60" y="138.00" width="7.45" height="7.40" fill="#66bade"/>
<polygon points="632.00,137.40 641.45,137.40 643.45,132.60 634.00,132.60" fill="#5a57a5" stroke="#111" stroke-width="0.75"/>
<line x1="635.52" y1="135.60" x2="639.93" y2="134.40" stroke="#ffffff88" stroke-width="0.7"/>
<text x="633.83" y="144.84" font-size="8.2" textLength="5.8" lengthAdjust="spacingAndGlyphs" font-weight="bold" fill="#000" stroke="#000" stroke-width="0.35" style="font-family:'Liberation Serif', serif">K</text>
<rect x="632.00" y="137.40" width="9.45" height="9.30" fill="none" stroke="#111" stroke-width="0.75"/>
<polygon points="641.45,137.40 643.45,132.60 643.45,141.90 641.45,146.70" fill="#e8e8e8" stroke="#111" stroke-width="0.75"/>
<rect x="565.45" y="158.40" width="9.45" height="9.50" fill="#9d2e72"/>
<rect x="566.05" y="159.00" width="7.45" height="7.60" fill="#1f7f40"/>
<polygon points="565.45,158.40 574.90,158.40 576.90,153.60 567.45,153.60" fill="#1f7f40" stroke="#111" stroke-width="0.75"/>
<line x1="568.97" y1="156.60" x2="573.38" y2="155.40" stroke="#ffffff88" stroke-width="0.7"/>
<text x="567.07" y="165.94" font-size="8.2" textLength="6.2" lengthAdjust="spacingAndGlyphs" font-weight="bold" fill="#000" stroke="#000" stroke-width="0.35" style="font-family:'Liberation Serif', serif">M</text>
<rect x="565.45" y="158.40" width="9.45" height="9.50" fill="none" stroke="#111" stroke-width="0.75"/>
<rect x="574.90" y="158.40" width="9.45" height="9.50" fill="#5a57a5"/>
<rect x="575.50" y="159.00" width="7.45" height="7.60" fill="#66bade"/>
<polygon points="574.90,158.40 584.35,158.40 586.35,153.60 576.90,153.60" fill="#5a57a5" stroke="#111" stroke-width="0.75"/>
<line x1="578.42" y1="156.60" x2="582.83" y2="155.40" stroke="#ffffff88" stroke-width="0.7"/>
<text x="576.73" y="165.94" font-size="8.2" textLength="5.8" lengthAdjust="spacingAndGlyphs" font-weight="bold" fill="#000" stroke="#000" stroke-width="0.35" style="font-family:'Liberation Serif', serif">K</text>
<rect x="574.90" y="158.40" width="9.45" height="9.50" fill="none" stroke="#111" stroke-width="0.75"/>
<rect x="584.35" y="158.40" width="9.45" height="9.50" fill="#5a57a5"/>
<rect x="584.95" y="159.00" width="7.45" height="7.60" fill="#66bade"/>
<polygon points="584.35,158.40 593.80,158.40 595.80,153.60 586.35,153.60" fill="#66bade" stroke="#111" stroke-width="0.75"/>
<line x1="587.87" y1="156.60" x2="592.27" y2="155.40" stroke="#ffffff88" stroke-width="0.7"/>
<text x="586.17" y="165.94" font-size="8.2" textLength="5.8" lengthAdjust="spacingAndGlyphs" font-weight="bold" fill="#000" stroke="#000" stroke-width="0.35" style="font-family:'Liberation Serif', serif">K</text>
<rect x="584.35" y="158.40" width="9.45" height="9.50" fill="none" stroke="#111" stroke-width="0.75"/>
<rect x="593.80" y="158.40" width="9.45" height="9.50" fill="#9d2e72"/>
<rect x="594.40" y="159.00" width="7.45" height="7.60" fill="#1f7f40"/>
<polygon points="593.80,158.40 603.25,158.40 605.25,153.60 595.80,153.60" fill="#1f7f40" stroke="#111" stroke-width="0.75"/>
<line x1="597.32" y1="156.60" x2="601.73" y2="155.40" stroke="#ffffff88" stroke-width="0.7"/>
<text x="595.42" y="165.94" font-size="8.2" textLength="6.2" lengthAdjust="spacingAndGlyphs" font-weight="bold" fill="#000" stroke="#000" stroke-width="0.35" style="font-family:'Liberation Serif', serif">M</text>
<rect x="593.80" y="158.40" width="9.45" height="9.50" fill="none" stroke="#111" stroke-width="0.75"/>
<rect x="603.25" y="158.40" width="9.45" height="9.50" fill="#9d2e72"/>
<rect x="603.85" y="159.00" width="7.45" height="7.60" fill="#1f7f40"/>
<polygon points="603.25,158.40 612.70,158.40 614.70,153.60 605.25,153.60" fill="#9d2e72" stroke="#111" stroke-width="0.75"/>
<line x1="606.77" y1="156.60" x2="611.17" y2="155.40" stroke="#ffffff88" stroke-width="0.7"/>
<text x="604.87" y="165.94" font-size="8.2" textLength="6.2" lengthAdjust="spacingAndGlyphs" font-weight="bold" fill="#000" stroke="#000" stroke-width="0.35" style="font-family:'Liberation Serif', serif">M</text>
<rect x="603.25" y="158.40" width="9.45" height="9.50" fill="none" stroke="#111" stroke-width="0.75"/>
<rect x="612.70" y="158.40" width="9.45" height="9.50" fill="#9d2e72"/>
<rect x="613.30" y="159.00" width="7.45" height="7.60" fill="#1f7f40"/>
<polygon points="612.70,158.40 622.15,158.40 624.15,153.60 614.70,153.60" fill="#9d2e72" stroke="#111" stroke-width="0.75"/>
<line x1="616.22" y1="156.60" x2="620.62" y2="155.40" stroke="#ffffff88" stroke-width="0.7"/>
<text x="614.32" y="165.94" font-size="8.2" textLength="6.2" lengthAdjust="spacingAndGlyphs" font-weight="bold" fill="#000" stroke="#000" stroke-width="0.35" style="font-family:'Liberation Serif', serif">M</text>
<rect x="612.70" y="158.40" width="9.45" height="9.50" fill="none" stroke="#111" stroke-width="0.75"/>
<rect x="622.15" y="158.40" width="9.45" height="9.50" fill="#5a57a5"/>
<rect x="622.75" y="159.00" width="7.45" height="7.60" fill="#66bade"/>
<polygon points="622.15,158.40 631.60,158.40 633.60,153.60 624.15,153.60" fill="#66bade" stroke="#111" stroke-width="0.75"/>
<line x1="625.67" y1="156.60" x2="630.08" y2="155.40" stroke="#ffffff88" stroke-width="0.7"/>
<text x="623.98" y="165.94" font-size="8.2" textLength="5.8" lengthAdjust="spacingAndGlyphs" font-weight="bold" fill="#000" stroke="#000" stroke-width="0.35" style="font-family:'Liberation Serif', serif">K</text>
<rect x="622.15" y="158.40" width="9.45" height="9.50" fill="none" stroke="#111" stroke-width="0.75"/>
<rect x="631.60" y="158.40" width="9.45" height="9.50" fill="#5a57a5"/>
<rect x="632.20" y="159.00" width="7.45" height="7.60" fill="#66bade"/>
<polygon points="631.60,158.40 641.05,158.40 643.05,153.60 633.60,153.60" fill="#5a57a5" stroke="#111" stroke-width="0.75"/>
<line x1="635.12" y1="156.60" x2="639.52" y2="155.40" stroke="#ffffff88" stroke-width="0.7"/>
<text x="633.42" y="165.94" font-size="8.2" textLength="5.8" lengthAdjust="spacingAndGlyphs" font-weight="bold" fill="#000" stroke="#000" stroke-width="0.35" style="font-family:'Liberation Serif', serif">K</text>
<rect x="631.60" y="158.40" width="9.45" height="9.50" fill="none" stroke="#111" stroke-width="0.75"/>
<rect x="641.05" y="158.40" width="9.45" height="9.50" fill="#5a57a5"/>
<rect x="641.65" y="159.00" width="7.45" height="7.60" fill="#66bade"/>
<polygon points="641.05,158.40 650.50,158.40 652.50,153.60 643.05,153.60" fill="#5a57a5" stroke="#111" stroke-width="0.75"/>
<line x1="644.57" y1="156.60" x2="648.98" y2="155.40" stroke="#ffffff88" stroke-width="0.7"/>
<text x="642.88" y="165.94" font-size="8.2" textLength="5.8" lengthAdjust="spacingAndGlyphs" font-weight="bold" fill="#000" stroke="#000" stroke-width="0.35" style="font-family:'Liberation Serif', serif">K</text>
<rect x="641.05" y="158.40" width="9.45" height="9.50" fill="none" stroke="#111" stroke-width="0.75"/>
<defs><linearGradient id="fd1460" x1="0" x2="1" y1="0" y2="0"><stop offset="0" stop-color="#fff" stop-opacity="1"/><stop offset="0.55" stop-color="#fff" stop-opacity="0.8"/><stop offset="1" stop-color="#fff" stop-opacity="0.15"/></linearGradient></defs>
<rect x="562.45" y="152.90" width="12.45" height="16.00" fill="url(#fd1460)"/>
<defs><linearGradient id="fd1462" x1="0" x2="1" y1="0" y2="0"><stop offset="0" stop-color="#fff" stop-opacity="0.15"/><stop offset="0.45" stop-color="#fff" stop-opacity="0.8"/><stop offset="1" stop-color="#fff" stop-opacity="1"/></linearGradient></defs>
<rect x="641.05" y="152.90" width="12.45" height="16.00" fill="url(#fd1462)"/>
<text x="436.00" y="152.20" font-size="9.0" text-anchor="start" font-weight="normal" font-style="normal" fill="#5cbf4a">Called</text>
<text x="540.50" y="152.20" font-size="9.0" text-anchor="start" font-weight="normal" font-style="normal" fill="#e8384a">Missed</text>
<text x="647.00" y="152.20" font-size="9.0" text-anchor="start" font-weight="normal" font-style="normal" fill="#e8384a">Missed</text>
<rect x="31.5" y="214.0" width="102.30000000000001" height="104.30000000000001" fill="none" stroke="#777" stroke-width="0.9"/>
<rect x="31.5" y="322.4" width="102.30000000000001" height="52.60000000000002" fill="none" stroke="#777" stroke-width="0.9"/>
<line x1="31.50" y1="318.30" x2="33.70" y2="318.30" stroke="#777" stroke-width="0.8"/>
<line x1="31.50" y1="283.53" x2="33.70" y2="283.53" stroke="#777" stroke-width="0.8"/>
<line x1="31.50" y1="248.77" x2="33.70" y2="248.77" stroke="#777" stroke-width="0.8"/>
<line x1="31.50" y1="214.00" x2="33.70" y2="214.00" stroke="#777" stroke-width="0.8"/>
<line x1="31.50" y1="374.50" x2="33.70" y2="374.50" stroke="#777" stroke-width="0.8"/>
<line x1="31.50" y1="355.95" x2="33.70" y2="355.95" stroke="#777" stroke-width="0.8"/>
<line x1="31.50" y1="337.40" x2="33.70" y2="337.40" stroke="#777" stroke-width="0.8"/>
<line x1="31.50" y1="318.30" x2="31.50" y2="316.10" stroke="#777" stroke-width="0.8"/>
<line x1="31.50" y1="375.00" x2="31.50" y2="372.80" stroke="#777" stroke-width="0.8"/>
<line x1="65.60" y1="318.30" x2="65.60" y2="316.10" stroke="#777" stroke-width="0.8"/>
<line x1="65.60" y1="375.00" x2="65.60" y2="372.80" stroke="#777" stroke-width="0.8"/>
<line x1="99.70" y1="318.30" x2="99.70" y2="316.10" stroke="#777" stroke-width="0.8"/>
<line x1="99.70" y1="375.00" x2="99.70" y2="372.80" stroke="#777" stroke-width="0.8"/>
<line x1="133.80" y1="318.30" x2="133.80" y2="316.10" stroke="#777" stroke-width="0.8"/>
<line x1="133.80" y1="375.00" x2="133.80" y2="372.80" stroke="#777" stroke-width="0.8"/>
<polyline points="31.50,297.79 40.37,297.79 51.96,295.35 65.60,291.53 79.24,287.71 94.24,283.88 106.52,276.58 118.80,266.50 128.34,248.77 133.80,226.52" fill="none" stroke="#3d8cd0" stroke-width="1.15" stroke-linejoin="round"/>
<polyline points="31.50,304.39 45.14,303.35 58.78,302.66 79.24,301.13 92.88,297.79 106.52,294.38 120.16,288.82 126.98,283.26 133.80,267.54" fill="none" stroke="#e05d3a" stroke-width="1.15" stroke-linejoin="round"/>
<polyline points="31.50,304.88 45.14,303.70 58.78,302.79 79.24,301.75 92.88,300.64 106.52,296.74 120.16,292.16 126.98,286.59 133.80,274.49" fill="none" stroke="#f0b334" stroke-width="1.15" stroke-linejoin="round"/>
<polyline points="31.50,358.92 45.14,354.84 58.78,351.31 72.42,349.27 79.24,348.53 92.88,347.79 106.52,348.16 120.16,346.30 133.80,344.82" fill="none" stroke="#3d8cd0" stroke-width="1.15" stroke-linejoin="round"/>
<polyline points="31.50,358.55 45.14,351.50 58.78,344.82 72.42,341.11 79.24,340.00 92.88,338.51 106.52,338.88 120.16,336.29 133.80,332.58" fill="none" stroke="#e05d3a" stroke-width="1.15" stroke-linejoin="round"/>
<rect x="144.4" y="214.0" width="102.19999999999999" height="104.30000000000001" fill="none" stroke="#777" stroke-width="0.9"/>
<rect x="144.4" y="322.4" width="102.19999999999999" height="52.60000000000002" fill="none" stroke="#777" stroke-width="0.9"/>
<line x1="144.40" y1="318.30" x2="146.60" y2="318.30" stroke="#777" stroke-width="0.8"/>
<line x1="144.40" y1="283.53" x2="146.60" y2="283.53" stroke="#777" stroke-width="0.8"/>
<line x1="144.40" y1="248.77" x2="146.60" y2="248.77" stroke="#777" stroke-width="0.8"/>
<line x1="144.40" y1="214.00" x2="146.60" y2="214.00" stroke="#777" stroke-width="0.8"/>
<line x1="144.40" y1="374.50" x2="146.60" y2="374.50" stroke="#777" stroke-width="0.8"/>
<line x1="144.40" y1="355.95" x2="146.60" y2="355.95" stroke="#777" stroke-width="0.8"/>
<line x1="144.40" y1="337.40" x2="146.60" y2="337.40" stroke="#777" stroke-width="0.8"/>
<line x1="144.40" y1="318.30" x2="144.40" y2="316.10" stroke="#777" stroke-width="0.8"/>
<line x1="144.40" y1="375.00" x2="144.40" y2="372.80" stroke="#777" stroke-width="0.8"/>
<line x1="166.94" y1="318.30" x2="166.94" y2="316.10" stroke="#777" stroke-width="0.8"/>
<line x1="166.94" y1="375.00" x2="166.94" y2="372.80" stroke="#777" stroke-width="0.8"/>
<line x1="189.47" y1="318.30" x2="189.47" y2="316.10" stroke="#777" stroke-width="0.8"/>
<line x1="189.47" y1="375.00" x2="189.47" y2="372.80" stroke="#777" stroke-width="0.8"/>
<line x1="212.01" y1="318.30" x2="212.01" y2="316.10" stroke="#777" stroke-width="0.8"/>
<line x1="212.01" y1="375.00" x2="212.01" y2="372.80" stroke="#777" stroke-width="0.8"/>
<line x1="234.54" y1="318.30" x2="234.54" y2="316.10" stroke="#777" stroke-width="0.8"/>
<line x1="234.54" y1="375.00" x2="234.54" y2="372.80" stroke="#777" stroke-width="0.8"/>
<polyline points="144.40,297.79 178.20,297.44 189.47,293.96 200.74,288.82 212.01,283.88 223.28,275.40 231.16,266.50 237.92,249.74 246.60,223.04" fill="none" stroke="#3d8cd0" stroke-width="1.15" stroke-linejoin="round"/>
<polyline points="144.40,304.39 155.67,304.39 166.94,303.35 178.20,302.31 189.47,301.26 200.74,298.83 212.01,294.38 223.28,288.82 234.54,283.26 246.60,264.27" fill="none" stroke="#e05d3a" stroke-width="1.15" stroke-linejoin="round"/>
<polyline points="144.40,302.66 178.20,302.31 189.47,301.61 200.74,301.13 212.01,296.74 223.28,291.18 234.54,285.62 246.60,269.84" fill="none" stroke="#f0b334" stroke-width="1.15" stroke-linejoin="round"/>
<polyline points="144.40,367.82 155.67,364.11 166.94,360.03 178.20,355.95 189.47,352.24 200.74,350.38 212.01,348.90 223.28,348.16 234.54,346.68 246.60,345.93" fill="none" stroke="#3d8cd0" stroke-width="1.15" stroke-linejoin="round"/>
<polyline points="144.40,360.59 155.67,357.06 166.94,353.35 178.20,350.01 189.47,347.05 200.74,343.71 212.01,340.74 223.28,339.25 234.54,337.77 246.60,335.92" fill="none" stroke="#e05d3a" stroke-width="1.15" stroke-linejoin="round"/>
<text x="27.80" y="217.20" font-size="7.3" text-anchor="end" font-weight="normal" font-style="normal" fill="#333">150</text>
<text x="27.80" y="251.70" font-size="7.3" text-anchor="end" font-weight="normal" font-style="normal" fill="#333">100</text>
<text x="27.80" y="286.50" font-size="7.3" text-anchor="end" font-weight="normal" font-style="normal" fill="#333">50</text>
<text x="27.80" y="321.30" font-size="7.3" text-anchor="end" font-weight="normal" font-style="normal" fill="#333">0</text>
<text x="27.80" y="340.30" font-size="7.3" text-anchor="end" font-weight="normal" font-style="normal" fill="#333">2.0</text>
<text x="27.80" y="358.90" font-size="7.3" text-anchor="end" font-weight="normal" font-style="normal" fill="#333">1.5</text>
<text x="27.80" y="377.40" font-size="7.3" text-anchor="end" font-weight="normal" font-style="normal" fill="#333">1.0</text>
<text x="31.50" y="384.40" font-size="7.3" text-anchor="middle" font-weight="normal" font-style="normal" fill="#333">80</text>
<text x="65.60" y="384.40" font-size="7.3" text-anchor="middle" font-weight="normal" font-style="normal" fill="#333">85</text>
<text x="99.70" y="384.40" font-size="7.3" text-anchor="middle" font-weight="normal" font-style="normal" fill="#333">90</text>
<text x="133.80" y="384.40" font-size="7.3" text-anchor="middle" font-weight="normal" font-style="normal" fill="#333">95</text>
<text x="144.40" y="384.40" font-size="7.3" text-anchor="middle" font-weight="normal" font-style="normal" fill="#333">88</text>
<text x="166.90" y="384.40" font-size="7.3" text-anchor="middle" font-weight="normal" font-style="normal" fill="#333">90</text>
<text x="189.50" y="384.40" font-size="7.3" text-anchor="middle" font-weight="normal" font-style="normal" fill="#333">92</text>
<text x="212.00" y="384.40" font-size="7.3" text-anchor="middle" font-weight="normal" font-style="normal" fill="#333">94</text>
<text x="234.60" y="384.40" font-size="7.3" text-anchor="middle" font-weight="normal" font-style="normal" fill="#333">96</text>
<text x="138.70" y="397.50" font-size="7.8" text-anchor="middle" font-weight="normal" font-style="normal" fill="#333">UMR (%)</text>
<text x="82.60" y="210.00" font-size="8.8" text-anchor="middle" font-weight="normal" font-style="italic" fill="#333">Homo sapiens</text>
<text x="195.50" y="210.00" font-size="8.8" text-anchor="middle" font-weight="normal" font-style="italic" fill="#333">Arabidopsis thaliana</text>
<text x="7.90" y="266.50" font-size="9.3" text-anchor="middle" font-weight="normal" font-style="normal" fill="#333" transform="rotate(-90 7.9 266.5)">Minimum required cycle</text>
<text x="12.30" y="348.70" font-size="8.6" text-anchor="middle" font-weight="normal" font-style="normal" fill="#333" transform="rotate(-90 12.3 348.7)">RCRF</text>
<line x1="38.40" y1="220.60" x2="46.00" y2="220.60" stroke="#3d8cd0" stroke-width="1.15"/>
<text x="50.20" y="222.70" font-size="6.1" text-anchor="start" font-weight="normal" font-style="normal" fill="#333">CRT</text>
<line x1="38.40" y1="227.80" x2="46.00" y2="227.80" stroke="#e05d3a" stroke-width="1.15"/>
<text x="50.20" y="229.90" font-size="6.1" text-anchor="start" font-weight="normal" font-style="normal" fill="#333">MK BitSeq</text>
<line x1="38.40" y1="235.00" x2="46.00" y2="235.00" stroke="#f0b334" stroke-width="1.15"/>
<text x="50.20" y="237.10" font-size="6.1" text-anchor="start" font-weight="normal" font-style="normal" fill="#333">MK SuperBitSeq</text>
<line x1="149.00" y1="220.60" x2="156.60" y2="220.60" stroke="#3d8cd0" stroke-width="1.15"/>
<text x="160.90" y="222.70" font-size="6.1" text-anchor="start" font-weight="normal" font-style="normal" fill="#333">CRT</text>
<line x1="149.00" y1="227.80" x2="156.60" y2="227.80" stroke="#e05d3a" stroke-width="1.15"/>
<text x="160.90" y="229.90" font-size="6.1" text-anchor="start" font-weight="normal" font-style="normal" fill="#333">MK BitSeq</text>
<line x1="149.00" y1="235.00" x2="156.60" y2="235.00" stroke="#f0b334" stroke-width="1.15"/>
<text x="160.90" y="237.10" font-size="6.1" text-anchor="start" font-weight="normal" font-style="normal" fill="#333">MK SuperBitSeq</text>
<line x1="61.20" y1="361.60" x2="68.80" y2="361.60" stroke="#3d8cd0" stroke-width="1.15"/>
<text x="72.20" y="363.70" font-size="6.1" text-anchor="start" font-weight="normal" font-style="normal" fill="#333">CRT/MK BitSeq</text>
<line x1="61.20" y1="369.00" x2="68.80" y2="369.00" stroke="#e05d3a" stroke-width="1.15"/>
<text x="72.20" y="371.10" font-size="6.1" text-anchor="start" font-weight="normal" font-style="normal" fill="#333">CRT/MK SuperBitSeq</text>
<line x1="172.50" y1="361.60" x2="180.10" y2="361.60" stroke="#3d8cd0" stroke-width="1.15"/>
<text x="184.90" y="363.70" font-size="6.1" text-anchor="start" font-weight="normal" font-style="normal" fill="#333">CRT/MK BitSeq</text>
<line x1="172.50" y1="369.00" x2="180.10" y2="369.00" stroke="#e05d3a" stroke-width="1.15"/>
<text x="184.90" y="371.10" font-size="6.1" text-anchor="start" font-weight="normal" font-style="normal" fill="#333">CRT/MK SuperBitSeq</text>
<rect x="287.00" y="230.60" width="176.20" height="24.85" fill="#e5e5e5"/>
<rect x="287.00" y="280.30" width="176.20" height="24.85" fill="#e5e5e5"/>
<rect x="287.00" y="330.00" width="176.20" height="24.85" fill="#e5e5e5"/>
<line x1="287.00" y1="228.50" x2="287.00" y2="367.80" stroke="#777" stroke-width="0.9"/>
<line x1="287.00" y1="367.80" x2="463.20" y2="367.80" stroke="#777" stroke-width="0.9"/>
<line x1="284.80" y1="230.60" x2="287.00" y2="230.60" stroke="#777" stroke-width="0.8"/>
<line x1="284.80" y1="255.45" x2="287.00" y2="255.45" stroke="#777" stroke-width="0.8"/>
<line x1="284.80" y1="280.30" x2="287.00" y2="280.30" stroke="#777" stroke-width="0.8"/>
<line x1="284.80" y1="305.15" x2="287.00" y2="305.15" stroke="#777" stroke-width="0.8"/>
<line x1="284.80" y1="330.00" x2="287.00" y2="330.00" stroke="#777" stroke-width="0.8"/>
<line x1="284.80" y1="354.85" x2="287.00" y2="354.85" stroke="#777" stroke-width="0.8"/>
<rect x="302.30" y="247.80" width="9.70" height="120.00" fill="#2570ad"/>
<rect x="312.00" y="251.30" width="10.00" height="116.50" fill="#a6cde5"/>
<rect x="327.30" y="237.30" width="9.70" height="130.50" fill="#2570ad"/>
<rect x="337.00" y="235.50" width="10.00" height="132.30" fill="#a6cde5"/>
<rect x="352.30" y="248.60" width="9.90" height="119.20" fill="#2570ad"/>
<rect x="362.20" y="251.80" width="9.80" height="116.00" fill="#a6cde5"/>
<rect x="377.20" y="361.60" width="10.00" height="6.20" fill="#38a049"/>
<rect x="387.20" y="338.50" width="10.20" height="29.30" fill="#a9d88e"/>
<rect x="402.20" y="351.60" width="10.00" height="16.20" fill="#38a049"/>
<rect x="412.20" y="326.70" width="10.50" height="41.10" fill="#a9d88e"/>
<rect x="427.70" y="364.80" width="9.90" height="3.00" fill="#38a049"/>
<rect x="437.60" y="342.40" width="10.00" height="25.40" fill="#a9d88e"/>
<text x="309.45" y="254.60" font-size="6.6" text-anchor="end" font-weight="bold" font-style="normal" fill="#000" transform="rotate(-90 309.45 254.6)">248,494,471</text>
<text x="319.30" y="254.60" font-size="6.6" text-anchor="end" font-weight="bold" font-style="normal" fill="#000" transform="rotate(-90 319.3 254.6)">146,243</text>
<text x="334.45" y="254.60" font-size="6.6" text-anchor="end" font-weight="bold" font-style="normal" fill="#000" transform="rotate(-90 334.45 254.6)">684,931,433</text>
<text x="344.30" y="254.60" font-size="6.6" text-anchor="end" font-weight="bold" font-style="normal" fill="#000" transform="rotate(-90 344.3 254.6)">618,277</text>
<text x="359.55" y="254.60" font-size="6.6" text-anchor="end" font-weight="bold" font-style="normal" fill="#000" transform="rotate(-90 359.55 254.6)">228,745,639</text>
<text x="369.40" y="254.60" font-size="6.6" text-anchor="end" font-weight="bold" font-style="normal" fill="#000" transform="rotate(-90 369.40000000000003 254.6)">142,350</text>
<text x="384.50" y="327.80" font-size="6.6" text-anchor="end" font-weight="bold" font-style="normal" fill="#000" transform="rotate(-90 384.5 327.8)">7,065</text>
<text x="394.60" y="327.80" font-size="6.6" text-anchor="end" font-weight="bold" font-style="normal" fill="#000" transform="rotate(-90 394.59999999999997 327.8)">44</text>
<text x="409.50" y="327.80" font-size="6.6" text-anchor="end" font-weight="bold" font-style="normal" fill="#000" transform="rotate(-90 409.5 327.8)">17,760</text>
<text x="419.75" y="327.80" font-size="6.6" text-anchor="end" font-weight="bold" font-style="normal" fill="#000" transform="rotate(-90 419.75 327.8)">140</text>
<text x="434.95" y="327.80" font-size="6.6" text-anchor="end" font-weight="bold" font-style="normal" fill="#000" transform="rotate(-90 434.95 327.8)">5,366</text>
<text x="444.90" y="327.80" font-size="6.6" text-anchor="end" font-weight="bold" font-style="normal" fill="#000" transform="rotate(-90 444.90000000000003 327.8)">32</text>
<rect x="399.50" y="244.40" width="42.10" height="48.10" fill="#fff"/>
<rect x="408.20" y="248.60" width="7.60" height="7.20" fill="#2570ad"/>
<rect x="425.80" y="248.60" width="7.60" height="7.20" fill="#a6cde5"/>
<rect x="408.20" y="259.00" width="7.60" height="7.20" fill="#38a049"/>
<rect x="425.80" y="259.00" width="7.60" height="7.20" fill="#a9d88e"/>
<text x="405.50" y="290.50" font-size="7.0" text-anchor="start" font-weight="normal" font-style="normal" fill="#333" transform="rotate(-45 405.5 290.5)">RefSNP</text>
<text x="420.50" y="290.50" font-size="7.0" text-anchor="start" font-weight="normal" font-style="normal" fill="#333" transform="rotate(-45 420.5 290.5)">ClinVar</text>
<text x="279.60" y="233.20" font-size="7.2" text-anchor="end" font-weight="normal" font-style="normal" fill="#333">10</text>
<text x="279.80" y="230.20" font-size="4.8" text-anchor="start" font-weight="normal" font-style="normal" fill="#333">0</text>
<text x="279.60" y="258.05" font-size="7.2" text-anchor="end" font-weight="normal" font-style="normal" fill="#333">10</text>
<text x="279.80" y="255.05" font-size="4.8" text-anchor="start" font-weight="normal" font-style="normal" fill="#333">-1</text>
<text x="279.60" y="282.90" font-size="7.2" text-anchor="end" font-weight="normal" font-style="normal" fill="#333">10</text>
<text x="279.80" y="279.90" font-size="4.8" text-anchor="start" font-weight="normal" font-style="normal" fill="#333">-2</text>
<text x="279.60" y="307.75" font-size="7.2" text-anchor="end" font-weight="normal" font-style="normal" fill="#333">10</text>
<text x="279.80" y="304.75" font-size="4.8" text-anchor="start" font-weight="normal" font-style="normal" fill="#333">-3</text>
<text x="279.60" y="332.60" font-size="7.2" text-anchor="end" font-weight="normal" font-style="normal" fill="#333">10</text>
<text x="279.80" y="329.60" font-size="4.8" text-anchor="start" font-weight="normal" font-style="normal" fill="#333">-4</text>
<text x="279.60" y="357.45" font-size="7.2" text-anchor="end" font-weight="normal" font-style="normal" fill="#333">10</text>
<text x="279.80" y="354.45" font-size="4.8" text-anchor="start" font-weight="normal" font-style="normal" fill="#333">-5</text>
<text x="311.70" y="377.40" font-size="7.3" text-anchor="middle" font-weight="normal" font-style="normal" fill="#333">MK</text>
<text x="337.00" y="377.40" font-size="7.3" text-anchor="middle" font-weight="normal" font-style="normal" fill="#333">RY</text>
<text x="362.20" y="377.40" font-size="7.3" text-anchor="middle" font-weight="normal" font-style="normal" fill="#333">WS</text>
<text x="387.20" y="377.40" font-size="7.3" text-anchor="middle" font-weight="normal" font-style="normal" fill="#333">MK</text>
<text x="412.40" y="377.40" font-size="7.3" text-anchor="middle" font-weight="normal" font-style="normal" fill="#333">RY</text>
<text x="437.60" y="377.40" font-size="7.3" text-anchor="middle" font-weight="normal" font-style="normal" fill="#333">WS</text>
<line x1="302.30" y1="381.00" x2="372.00" y2="381.00" stroke="#777" stroke-width="0.8"/>
<line x1="377.20" y1="381.00" x2="447.60" y2="381.00" stroke="#777" stroke-width="0.8"/>
<text x="337.20" y="392.20" font-size="8.4" text-anchor="middle" font-weight="normal" font-style="normal" fill="#333">BitSeq</text>
<text x="412.40" y="392.20" font-size="8.4" text-anchor="middle" font-weight="normal" font-style="normal" fill="#333">SuperBitSeq</text>
<text x="264.50" y="298.00" font-size="8.9" text-anchor="middle" font-weight="normal" font-style="normal" fill="#333" transform="rotate(-90 264.5 298.0)">Ratio of undetectable SNVs</text>
<line x1="502.20" y1="258.82" x2="681.40" y2="258.82" stroke="#d0d0d0" stroke-width="0.6" stroke-dasharray="1.2,1.6"/>
<line x1="502.20" y1="285.84" x2="681.40" y2="285.84" stroke="#d0d0d0" stroke-width="0.6" stroke-dasharray="1.2,1.6"/>
<line x1="502.20" y1="312.86" x2="681.40" y2="312.86" stroke="#d0d0d0" stroke-width="0.6" stroke-dasharray="1.2,1.6"/>
<line x1="502.20" y1="339.88" x2="681.40" y2="339.88" stroke="#d0d0d0" stroke-width="0.6" stroke-dasharray="1.2,1.6"/>
<rect x="502.2" y="231.8" width="179.2" height="135.09999999999997" fill="none" stroke="#555" stroke-width="0.9"/>
<line x1="538.04" y1="366.90" x2="538.04" y2="364.70" stroke="#777" stroke-width="0.8"/>
<line x1="573.88" y1="366.90" x2="573.88" y2="364.70" stroke="#777" stroke-width="0.8"/>
<line x1="609.72" y1="366.90" x2="609.72" y2="364.70" stroke="#777" stroke-width="0.8"/>
<line x1="645.56" y1="366.90" x2="645.56" y2="364.70" stroke="#777" stroke-width="0.8"/>
<line x1="502.20" y1="258.82" x2="504.40" y2="258.82" stroke="#777" stroke-width="0.8"/>
<line x1="502.20" y1="285.84" x2="504.40" y2="285.84" stroke="#777" stroke-width="0.8"/>
<line x1="502.20" y1="312.86" x2="504.40" y2="312.86" stroke="#777" stroke-width="0.8"/>
<line x1="502.20" y1="339.88" x2="504.40" y2="339.88" stroke="#777" stroke-width="0.8"/>
<polyline points="520.12,237.23 538.04,250.79 555.96,263.00 573.88,275.21 591.80,289.58 609.72,305.05 627.64,316.71 645.56,328.11 663.48,334.89 681.40,340.31" fill="none" stroke="#808080" stroke-width="1.0" stroke-linejoin="round"/>
<polyline points="520.12,237.23 538.04,248.89 555.96,257.57 573.88,265.71 591.80,272.76 609.72,279.27 627.64,285.51 645.56,291.48 663.48,297.72 681.40,303.69" fill="none" stroke="#3b8ed3" stroke-width="1.0" stroke-linejoin="round" stroke-dasharray="3,2.2"/>
<polyline points="520.12,241.29 538.04,248.89 555.96,256.76 573.88,264.35 591.80,271.14 609.72,277.92 627.64,283.62 645.56,289.31 663.48,295.01 681.40,300.44" fill="none" stroke="#f28c2e" stroke-width="1.0" stroke-linejoin="round" stroke-dasharray="3,2.2"/>
<polyline points="520.12,237.23 538.04,250.79 555.96,260.83 573.88,269.78 591.80,277.10 609.72,283.34 627.64,288.77 645.56,293.38 663.48,298.81 681.40,303.69" fill="none" stroke="#3aa63c" stroke-width="1.0" stroke-linejoin="round" stroke-dasharray="3,2.2"/>
<polyline points="520.12,237.23 538.04,250.79 555.96,262.18 573.88,272.49 591.80,283.07 609.72,292.84 627.64,302.33 645.56,310.47 663.48,318.61 681.40,325.94" fill="none" stroke="#3b8ed3" stroke-width="1.0" stroke-linejoin="round"/>
<polyline points="520.12,238.58 538.04,250.25 555.96,260.28 573.88,269.78 591.80,280.36 609.72,290.13 627.64,299.35 645.56,307.76 663.48,315.08 681.40,321.32" fill="none" stroke="#f28c2e" stroke-width="1.0" stroke-linejoin="round"/>
<polyline points="520.12,236.41 538.04,250.79 555.96,261.64 573.88,271.68 591.80,281.99 609.72,291.48 627.64,300.16 645.56,307.76 663.48,314.54 681.40,320.51" fill="none" stroke="#3aa63c" stroke-width="1.0" stroke-linejoin="round"/>
<line x1="516.90" y1="303.40" x2="524.40" y2="303.40" stroke="#808080" stroke-width="1.0"/>
<text x="528.70" y="305.90" font-size="7.2" text-anchor="start" font-weight="normal" font-style="normal" fill="#333">SNA</text>
<line x1="516.90" y1="312.35" x2="524.40" y2="312.35" stroke="#3b8ed3" stroke-width="1.0" stroke-dasharray="3,1.6"/>
<text x="528.70" y="314.85" font-size="7.2" text-anchor="start" font-weight="normal" font-style="normal" fill="#333">MK BitSeq</text>
<line x1="516.90" y1="321.30" x2="524.40" y2="321.30" stroke="#f28c2e" stroke-width="1.0" stroke-dasharray="3,1.6"/>
<text x="528.70" y="323.80" font-size="7.2" text-anchor="start" font-weight="normal" font-style="normal" fill="#333">RY BitSeq</text>
<line x1="516.90" y1="330.25" x2="524.40" y2="330.25" stroke="#3aa63c" stroke-width="1.0" stroke-dasharray="3,1.6"/>
<text x="528.70" y="332.75" font-size="7.2" text-anchor="start" font-weight="normal" font-style="normal" fill="#333">WS BitSeq</text>
<line x1="516.90" y1="339.20" x2="524.40" y2="339.20" stroke="#3b8ed3" stroke-width="1.0"/>
<text x="528.70" y="341.70" font-size="7.2" text-anchor="start" font-weight="normal" font-style="normal" fill="#333">MK SuperBitSeq</text>
<line x1="516.90" y1="348.15" x2="524.40" y2="348.15" stroke="#f28c2e" stroke-width="1.0"/>
<text x="528.70" y="350.65" font-size="7.2" text-anchor="start" font-weight="normal" font-style="normal" fill="#333">RY SuperBitSeq</text>
<line x1="516.90" y1="357.10" x2="524.40" y2="357.10" stroke="#3aa63c" stroke-width="1.0"/>
<text x="528.70" y="359.60" font-size="7.2" text-anchor="start" font-weight="normal" font-style="normal" fill="#333">WS SuperBitSeq</text>
<text x="494.20" y="234.40" font-size="7.2" text-anchor="end" font-weight="normal" font-style="normal" fill="#333">10</text>
<text x="494.40" y="231.40" font-size="4.8" text-anchor="start" font-weight="normal" font-style="normal" fill="#333">0</text>
<text x="494.20" y="261.42" font-size="7.2" text-anchor="end" font-weight="normal" font-style="normal" fill="#333">10</text>
<text x="494.40" y="258.42" font-size="4.8" text-anchor="start" font-weight="normal" font-style="normal" fill="#333">-1</text>
<text x="494.20" y="288.44" font-size="7.2" text-anchor="end" font-weight="normal" font-style="normal" fill="#333">10</text>
<text x="494.40" y="285.44" font-size="4.8" text-anchor="start" font-weight="normal" font-style="normal" fill="#333">-2</text>
<text x="494.20" y="315.46" font-size="7.2" text-anchor="end" font-weight="normal" font-style="normal" fill="#333">10</text>
<text x="494.40" y="312.46" font-size="4.8" text-anchor="start" font-weight="normal" font-style="normal" fill="#333">-3</text>
<text x="494.20" y="342.48" font-size="7.2" text-anchor="end" font-weight="normal" font-style="normal" fill="#333">10</text>
<text x="494.40" y="339.48" font-size="4.8" text-anchor="start" font-weight="normal" font-style="normal" fill="#333">-4</text>
<text x="502.20" y="377.00" font-size="7.3" text-anchor="middle" font-weight="normal" font-style="normal" fill="#333">0</text>
<text x="538.04" y="377.00" font-size="7.3" text-anchor="middle" font-weight="normal" font-style="normal" fill="#333">2</text>
<text x="573.88" y="377.00" font-size="7.3" text-anchor="middle" font-weight="normal" font-style="normal" fill="#333">4</text>
<text x="609.72" y="377.00" font-size="7.3" text-anchor="middle" font-weight="normal" font-style="normal" fill="#333">6</text>
<text x="645.56" y="377.00" font-size="7.3" text-anchor="middle" font-weight="normal" font-style="normal" fill="#333">8</text>
<text x="681.40" y="377.00" font-size="7.3" text-anchor="middle" font-weight="normal" font-style="normal" fill="#333">10</text>
<text x="591.80" y="389.30" font-size="9.0" text-anchor="middle" font-weight="normal" font-style="normal" fill="#333">Number of extended bases</text>
<text x="479.00" y="298.70" font-size="8.6" text-anchor="middle" font-weight="normal" font-style="normal" fill="#333" transform="rotate(-90 479.0 298.7)">Ratio</text>
<path transform="translate(17.5 429.6) scale(1.05391 1.05781)" d="M0 0h128v1h-128zM1 1h2v1h-2zM5 1h2v1h-2zM9 1h2v1h-2zM13 1h2v1h-2zM17 1h2v1h-2zM21 1h2v1h-2zM25 1h2v1h-2zM29 1h2v1h-2zM33 1h2v1h-2zM37 1h2v1h-2zM41 1h2v1h-2zM45 1h2v1h-2zM49 1h2v1h-2zM53 1h2v1h-2zM57 1h2v1h-2zM61 1h2v1h-2zM65 1h2v1h-2zM69 1h2v1h-2zM73 1h2v1h-2zM77 1h2v1h-2zM81 1h2v1h-2zM85 1h2v1h-2zM89 1h2v1h-2zM93 1h2v1h-2zM97 1h2v1h-2zM101 1h2v1h-2zM105 1h2v1h-2zM109 1h2v1h-2zM113 1h2v1h-2zM117 1h2v1h-2zM121 1h2v1h-2zM125 1h2v1h-2zM2 2h4v1h-4zM10 2h4v1h-4zM18 2h4v1h-4zM26 2h4v1h-4zM34 2h4v1h-4zM42 2h4v1h-4zM50 2h4v1h-4zM58 2h4v1h-4zM66 2h4v1h-4zM74 2h4v1h-4zM82 2h4v1h-4zM90 2h4v1h-4zM98 2h4v1h-4zM106 2h4v1h-4zM114 2h4v1h-4zM122 2h4v1h-4zM2 3h4v1h-4zM10 3h4v1h-4zM18 3h4v1h-4zM26 3h4v1h-4zM34 3h4v1h-4zM42 3h4v1h-4zM50 3h4v1h-4zM58 3h4v1h-4zM66 3h4v1h-4zM74 3h4v1h-4zM82 3h4v1h-4zM90 3h4v1h-4zM98 3h4v1h-4zM106 3h4v1h-4zM114 3h4v1h-4zM122 3h4v1h-4zM4 4h8v1h-8zM20 4h8v1h-8zM36 4h8v1h-8zM52 4h8v1h-8zM68 4h8v1h-8zM84 4h8v1h-8zM100 4h8v1h-8zM116 4h8v1h-8zM5 5h2v1h-2zM9 5h2v1h-2zM21 5h2v1h-2zM25 5h2v1h-2zM37 5h2v1h-2zM41 5h2v1h-2zM53 5h2v1h-2zM57 5h2v1h-2zM69 5h2v1h-2zM73 5h2v1h-2zM85 5h2v1h-2zM89 5h2v1h-2zM101 5h2v1h-2zM105 5h2v1h-2zM117 5h2v1h-2zM121 5h2v1h-2zM4 6h8v1h-8zM20 6h8v1h-8zM36 6h8v1h-8zM52 6h8v1h-8zM68 6h8v1h-8zM84 6h8v1h-8zM100 6h8v1h-8zM116 6h8v1h-8zM4 7h8v1h-8zM20 7h8v1h-8zM36 7h8v1h-8zM52 7h8v1h-8zM68 7h8v1h-8zM84 7h8v1h-8zM100 7h8v1h-8zM116 7h8v1h-8zM8 8h16v1h-16zM40 8h16v1h-16zM72 8h16v1h-16zM104 8h16v1h-16zM9 9h2v1h-2zM13 9h2v1h-2zM17 9h2v1h-2zM21 9h2v1h-2zM41 9h2v1h-2zM45 9h2v1h-2zM49 9h2v1h-2zM53 9h2v1h-2zM73 9h2v1h-2zM77 9h2v1h-2zM81 9h2v1h-2zM85 9h2v1h-2zM105 9h2v1h-2zM109 9h2v1h-2zM113 9h2v1h-2zM117 9h2v1h-2zM10 10h4v1h-4zM18 10h4v1h-4zM42 10h4v1h-4zM50 10h4v1h-4zM74 10h4v1h-4zM82 10h4v1h-4zM106 10h4v1h-4zM114 10h4v1h-4zM10 11h4v1h-4zM18 11h4v1h-4zM42 11h4v1h-4zM50 11h4v1h-4zM74 11h4v1h-4zM82 11h4v1h-4zM106 11h4v1h-4zM114 11h4v1h-4zM8 12h16v1h-16zM40 12h16v1h-16zM72 12h16v1h-16zM104 12h16v1h-16zM9 13h2v1h-2zM13 13h2v1h-2zM17 13h2v1h-2zM21 13h2v1h-2zM41 13h2v1h-2zM45 13h2v1h-2zM49 13h2v1h-2zM53 13h2v1h-2zM73 13h2v1h-2zM77 13h2v1h-2zM81 13h2v1h-2zM85 13h2v1h-2zM105 13h2v1h-2zM109 13h2v1h-2zM113 13h2v1h-2zM117 13h2v1h-2zM8 14h16v1h-16zM40 14h16v1h-16zM72 14h16v1h-16zM104 14h16v1h-16zM8 15h16v1h-16zM40 15h16v1h-16zM72 15h16v1h-16zM104 15h16v1h-16zM16 16h32v1h-32zM80 16h32v1h-32zM17 17h2v1h-2zM21 17h2v1h-2zM25 17h2v1h-2zM29 17h2v1h-2zM33 17h2v1h-2zM37 17h2v1h-2zM41 17h2v1h-2zM45 17h2v1h-2zM81 17h2v1h-2zM85 17h2v1h-2zM89 17h2v1h-2zM93 17h2v1h-2zM97 17h2v1h-2zM101 17h2v1h-2zM105 17h2v1h-2zM109 17h2v1h-2zM18 18h4v1h-4zM26 18h4v1h-4zM34 18h4v1h-4zM42 18h4v1h-4zM82 18h4v1h-4zM90 18h4v1h-4zM98 18h4v1h-4zM106 18h4v1h-4zM18 19h4v1h-4zM26 19h4v1h-4zM34 19h4v1h-4zM42 19h4v1h-4zM82 19h4v1h-4zM90 19h4v1h-4zM98 19h4v1h-4zM106 19h4v1h-4zM20 20h8v1h-8zM36 20h8v1h-8zM84 20h8v1h-8zM100 20h8v1h-8zM21 21h2v1h-2zM25 21h2v1h-2zM37 21h2v1h-2zM41 21h2v1h-2zM85 21h2v1h-2zM89 21h2v1h-2zM101 21h2v1h-2zM105 21h2v1h-2zM20 22h8v1h-8zM36 22h8v1h-8zM84 22h8v1h-8zM100 22h8v1h-8zM20 23h8v1h-8zM36 23h8v1h-8zM84 23h8v1h-8zM100 23h8v1h-8zM16 24h32v1h-32zM80 24h32v1h-32zM17 25h2v1h-2zM21 25h2v1h-2zM25 25h2v1h-2zM29 25h2v1h-2zM33 25h2v1h-2zM37 25h2v1h-2zM41 25h2v1h-2zM45 25h2v1h-2zM81 25h2v1h-2zM85 25h2v1h-2zM89 25h2v1h-2zM93 25h2v1h-2zM97 25h2v1h-2zM101 25h2v1h-2zM105 25h2v1h-2zM109 25h2v1h-2zM18 26h4v1h-4zM26 26h4v1h-4zM34 26h4v1h-4zM42 26h4v1h-4zM82 26h4v1h-4zM90 26h4v1h-4zM98 26h4v1h-4zM106 26h4v1h-4zM18 27h4v1h-4zM26 27h4v1h-4zM34 27h4v1h-4zM42 27h4v1h-4zM82 27h4v1h-4zM90 27h4v1h-4zM98 27h4v1h-4zM106 27h4v1h-4zM16 28h32v1h-32zM80 28h32v1h-32zM17 29h2v1h-2zM21 29h2v1h-2zM25 29h2v1h-2zM29 29h2v1h-2zM33 29h2v1h-2zM37 29h2v1h-2zM41 29h2v1h-2zM45 29h2v1h-2zM81 29h2v1h-2zM85 29h2v1h-2zM89 29h2v1h-2zM93 29h2v1h-2zM97 29h2v1h-2zM101 29h2v1h-2zM105 29h2v1h-2zM109 29h2v1h-2zM16 30h32v1h-32zM80 30h32v1h-32zM16 31h32v1h-32zM80 31h32v1h-32zM32 32h64v1h-64zM33 33h2v1h-2zM37 33h2v1h-2zM41 33h2v1h-2zM45 33h2v1h-2zM49 33h2v1h-2zM53 33h2v1h-2zM57 33h2v1h-2zM61 33h2v1h-2zM65 33h2v1h-2zM69 33h2v1h-2zM73 33h2v1h-2zM77 33h2v1h-2zM81 33h2v1h-2zM85 33h2v1h-2zM89 33h2v1h-2zM93 33h2v1h-2zM34 34h4v1h-4zM42 34h4v1h-4zM50 34h4v1h-4zM58 34h4v1h-4zM66 34h4v1h-4zM74 34h4v1h-4zM82 34h4v1h-4zM90 34h4v1h-4zM34 35h4v1h-4zM42 35h4v1h-4zM50 35h4v1h-4zM58 35h4v1h-4zM66 35h4v1h-4zM74 35h4v1h-4zM82 35h4v1h-4zM90 35h4v1h-4zM36 36h8v1h-8zM52 36h8v1h-8zM68 36h8v1h-8zM84 36h8v1h-8zM37 37h2v1h-2zM41 37h2v1h-2zM53 37h2v1h-2zM57 37h2v1h-2zM69 37h2v1h-2zM73 37h2v1h-2zM85 37h2v1h-2zM89 37h2v1h-2zM36 38h8v1h-8zM52 38h8v1h-8zM68 38h8v1h-8zM84 38h8v1h-8zM36 39h8v1h-8zM52 39h8v1h-8zM68 39h8v1h-8zM84 39h8v1h-8zM40 40h16v1h-16zM72 40h16v1h-16zM41 41h2v1h-2zM45 41h2v1h-2zM49 41h2v1h-2zM53 41h2v1h-2zM73 41h2v1h-2zM77 41h2v1h-2zM81 41h2v1h-2zM85 41h2v1h-2zM42 42h4v1h-4zM50 42h4v1h-4zM74 42h4v1h-4zM82 42h4v1h-4zM42 43h4v1h-4zM50 43h4v1h-4zM74 43h4v1h-4zM82 43h4v1h-4zM40 44h16v1h-16zM72 44h16v1h-16zM41 45h2v1h-2zM45 45h2v1h-2zM49 45h2v1h-2zM53 45h2v1h-2zM73 45h2v1h-2zM77 45h2v1h-2zM81 45h2v1h-2zM85 45h2v1h-2zM40 46h16v1h-16zM72 46h16v1h-16zM40 47h16v1h-16zM72 47h16v1h-16zM32 48h64v1h-64zM33 49h2v1h-2zM37 49h2v1h-2zM41 49h2v1h-2zM45 49h2v1h-2zM49 49h2v1h-2zM53 49h2v1h-2zM57 49h2v1h-2zM61 49h2v1h-2zM65 49h2v1h-2zM69 49h2v1h-2zM73 49h2v1h-2zM77 49h2v1h-2zM81 49h2v1h-2zM85 49h2v1h-2zM89 49h2v1h-2zM93 49h2v1h-2zM34 50h4v1h-4zM42 50h4v1h-4zM50 50h4v1h-4zM58 50h4v1h-4zM66 50h4v1h-4zM74 50h4v1h-4zM82 50h4v1h-4zM90 50h4v1h-4zM34 51h4v1h-4zM42 51h4v1h-4zM50 51h4v1h-4zM58 51h4v1h-4zM66 51h4v1h-4zM74 51h4v1h-4zM82 51h4v1h-4zM90 51h4v1h-4zM36 52h8v1h-8zM52 52h8v1h-8zM68 52h8v1h-8zM84 52h8v1h-8zM37 53h2v1h-2zM41 53h2v1h-2zM53 53h2v1h-2zM57 53h2v1h-2zM69 53h2v1h-2zM73 53h2v1h-2zM85 53h2v1h-2zM89 53h2v1h-2zM36 54h8v1h-8zM52 54h8v1h-8zM68 54h8v1h-8zM84 54h8v1h-8zM36 55h8v1h-8zM52 55h8v1h-8zM68 55h8v1h-8zM84 55h8v1h-8zM32 56h64v1h-64zM33 57h2v1h-2zM37 57h2v1h-2zM41 57h2v1h-2zM45 57h2v1h-2zM49 57h2v1h-2zM53 57h2v1h-2zM57 57h2v1h-2zM61 57h2v1h-2zM65 57h2v1h-2zM69 57h2v1h-2zM73 57h2v1h-2zM77 57h2v1h-2zM81 57h2v1h-2zM85 57h2v1h-2zM89 57h2v1h-2zM93 57h2v1h-2zM34 58h4v1h-4zM42 58h4v1h-4zM50 58h4v1h-4zM58 58h4v1h-4zM66 58h4v1h-4zM74 58h4v1h-4zM82 58h4v1h-4zM90 58h4v1h-4zM34 59h4v1h-4zM42 59h4v1h-4zM50 59h4v1h-4zM58 59h4v1h-4zM66 59h4v1h-4zM74 59h4v1h-4zM82 59h4v1h-4zM90 59h4v1h-4zM32 60h64v1h-64zM33 61h2v1h-2zM37 61h2v1h-2zM41 61h2v1h-2zM45 61h2v1h-2zM49 61h2v1h-2zM53 61h2v1h-2zM57 61h2v1h-2zM61 61h2v1h-2zM65 61h2v1h-2zM69 61h2v1h-2zM73 61h2v1h-2zM77 61h2v1h-2zM81 61h2v1h-2zM85 61h2v1h-2zM89 61h2v1h-2zM93 61h2v1h-2zM32 62h64v1h-64zM32 63h64v1h-64zM0 64h128v1h-128zM1 65h2v1h-2zM5 65h2v1h-2zM9 65h2v1h-2zM13 65h2v1h-2zM17 65h2v1h-2zM21 65h2v1h-2zM25 65h2v1h-2zM29 65h2v1h-2zM33 65h2v1h-2zM37 65h2v1h-2zM41 65h2v1h-2zM45 65h2v1h-2zM49 65h2v1h-2zM53 65h2v1h-2zM57 65h2v1h-2zM61 65h2v1h-2zM65 65h2v1h-2zM69 65h2v1h-2zM73 65h2v1h-2zM77 65h2v1h-2zM81 65h2v1h-2zM85 65h2v1h-2zM89 65h2v1h-2zM93 65h2v1h-2zM97 65h2v1h-2zM101 65h2v1h-2zM105 65h2v1h-2zM109 65h2v1h-2zM113 65h2v1h-2zM117 65h2v1h-2zM121 65h2v1h-2zM125 65h2v1h-2zM2 66h4v1h-4zM10 66h4v1h-4zM18 66h4v1h-4zM26 66h4v1h-4zM34 66h4v1h-4zM42 66h4v1h-4zM50 66h4v1h-4zM58 66h4v1h-4zM66 66h4v1h-4zM74 66h4v1h-4zM82 66h4v1h-4zM90 66h4v1h-4zM98 66h4v1h-4zM106 66h4v1h-4zM114 66h4v1h-4zM122 66h4v1h-4zM2 67h4v1h-4zM10 67h4v1h-4zM18 67h4v1h-4zM26 67h4v1h-4zM34 67h4v1h-4zM42 67h4v1h-4zM50 67h4v1h-4zM58 67h4v1h-4zM66 67h4v1h-4zM74 67h4v1h-4zM82 67h4v1h-4zM90 67h4v1h-4zM98 67h4v1h-4zM106 67h4v1h-4zM114 67h4v1h-4zM122 67h4v1h-4zM4 68h8v1h-8zM20 68h8v1h-8zM36 68h8v1h-8zM52 68h8v1h-8zM68 68h8v1h-8zM84 68h8v1h-8zM100 68h8v1h-8zM116 68h8v1h-8zM5 69h2v1h-2zM9 69h2v1h-2zM21 69h2v1h-2zM25 69h2v1h-2zM37 69h2v1h-2zM41 69h2v1h-2zM53 69h2v1h-2zM57 69h2v1h-2zM69 69h2v1h-2zM73 69h2v1h-2zM85 69h2v1h-2zM89 69h2v1h-2zM101 69h2v1h-2zM105 69h2v1h-2zM117 69h2v1h-2zM121 69h2v1h-2zM4 70h8v1h-8zM20 70h8v1h-8zM36 70h8v1h-8zM52 70h8v1h-8zM68 70h8v1h-8zM84 70h8v1h-8zM100 70h8v1h-8zM116 70h8v1h-8zM4 71h8v1h-8zM20 71h8v1h-8zM36 71h8v1h-8zM52 71h8v1h-8zM68 71h8v1h-8zM84 71h8v1h-8zM100 71h8v1h-8zM116 71h8v1h-8zM8 72h16v1h-16zM40 72h16v1h-16zM72 72h16v1h-16zM104 72h16v1h-16zM9 73h2v1h-2zM13 73h2v1h-2zM17 73h2v1h-2zM21 73h2v1h-2zM41 73h2v1h-2zM45 73h2v1h-2zM49 73h2v1h-2zM53 73h2v1h-2zM73 73h2v1h-2zM77 73h2v1h-2zM81 73h2v1h-2zM85 73h2v1h-2zM105 73h2v1h-2zM109 73h2v1h-2zM113 73h2v1h-2zM117 73h2v1h-2zM10 74h4v1h-4zM18 74h4v1h-4zM42 74h4v1h-4zM50 74h4v1h-4zM74 74h4v1h-4zM82 74h4v1h-4zM106 74h4v1h-4zM114 74h4v1h-4zM10 75h4v1h-4zM18 75h4v1h-4zM42 75h4v1h-4zM50 75h4v1h-4zM74 75h4v1h-4zM82 75h4v1h-4zM106 75h4v1h-4zM114 75h4v1h-4zM8 76h16v1h-16zM40 76h16v1h-16zM72 76h16v1h-16zM104 76h16v1h-16zM9 77h2v1h-2zM13 77h2v1h-2zM17 77h2v1h-2zM21 77h2v1h-2zM41 77h2v1h-2zM45 77h2v1h-2zM49 77h2v1h-2zM53 77h2v1h-2zM73 77h2v1h-2zM77 77h2v1h-2zM81 77h2v1h-2zM85 77h2v1h-2zM105 77h2v1h-2zM109 77h2v1h-2zM113 77h2v1h-2zM117 77h2v1h-2zM8 78h16v1h-16zM40 78h16v1h-16zM72 78h16v1h-16zM104 78h16v1h-16zM8 79h16v1h-16zM40 79h16v1h-16zM72 79h16v1h-16zM104 79h16v1h-16zM16 80h32v1h-32zM80 80h32v1h-32zM17 81h2v1h-2zM21 81h2v1h-2zM25 81h2v1h-2zM29 81h2v1h-2zM33 81h2v1h-2zM37 81h2v1h-2zM41 81h2v1h-2zM45 81h2v1h-2zM81 81h2v1h-2zM85 81h2v1h-2zM89 81h2v1h-2zM93 81h2v1h-2zM97 81h2v1h-2zM101 81h2v1h-2zM105 81h2v1h-2zM109 81h2v1h-2zM18 82h4v1h-4zM26 82h4v1h-4zM34 82h4v1h-4zM42 82h4v1h-4zM82 82h4v1h-4zM90 82h4v1h-4zM98 82h4v1h-4zM106 82h4v1h-4zM18 83h4v1h-4zM26 83h4v1h-4zM34 83h4v1h-4zM42 83h4v1h-4zM82 83h4v1h-4zM90 83h4v1h-4zM98 83h4v1h-4zM106 83h4v1h-4zM20 84h8v1h-8zM36 84h8v1h-8zM84 84h8v1h-8zM100 84h8v1h-8zM21 85h2v1h-2zM25 85h2v1h-2zM37 85h2v1h-2zM41 85h2v1h-2zM85 85h2v1h-2zM89 85h2v1h-2zM101 85h2v1h-2zM105 85h2v1h-2zM20 86h8v1h-8zM36 86h8v1h-8zM84 86h8v1h-8zM100 86h8v1h-8zM20 87h8v1h-8zM36 87h8v1h-8zM84 87h8v1h-8zM100 87h8v1h-8zM16 88h32v1h-32zM80 88h32v1h-32zM17 89h2v1h-2zM21 89h2v1h-2zM25 89h2v1h-2zM29 89h2v1h-2zM33 89h2v1h-2zM37 89h2v1h-2zM41 89h2v1h-2zM45 89h2v1h-2zM81 89h2v1h-2zM85 89h2v1h-2zM89 89h2v1h-2zM93 89h2v1h-2zM97 89h2v1h-2zM101 89h2v1h-2zM105 89h2v1h-2zM109 89h2v1h-2zM18 90h4v1h-4zM26 90h4v1h-4zM34 90h4v1h-4zM42 90h4v1h-4zM82 90h4v1h-4zM90 90h4v1h-4zM98 90h4v1h-4zM106 90h4v1h-4zM18 91h4v1h-4zM26 91h4v1h-4zM34 91h4v1h-4zM42 91h4v1h-4zM82 91h4v1h-4zM90 91h4v1h-4zM98 91h4v1h-4zM106 91h4v1h-4zM16 92h32v1h-32zM80 92h32v1h-32zM17 93h2v1h-2zM21 93h2v1h-2zM25 93h2v1h-2zM29 93h2v1h-2zM33 93h2v1h-2zM37 93h2v1h-2zM41 93h2v1h-2zM45 93h2v1h-2zM81 93h2v1h-2zM85 93h2v1h-2zM89 93h2v1h-2zM93 93h2v1h-2zM97 93h2v1h-2zM101 93h2v1h-2zM105 93h2v1h-2zM109 93h2v1h-2zM16 94h32v1h-32zM80 94h32v1h-32zM16 95h32v1h-32zM80 95h32v1h-32zM0 96h128v1h-128zM1 97h2v1h-2zM5 97h2v1h-2zM9 97h2v1h-2zM13 97h2v1h-2zM17 97h2v1h-2zM21 97h2v1h-2zM25 97h2v1h-2zM29 97h2v1h-2zM33 97h2v1h-2zM37 97h2v1h-2zM41 97h2v1h-2zM45 97h2v1h-2zM49 97h2v1h-2zM53 97h2v1h-2zM57 97h2v1h-2zM61 97h2v1h-2zM65 97h2v1h-2zM69 97h2v1h-2zM73 97h2v1h-2zM77 97h2v1h-2zM81 97h2v1h-2zM85 97h2v1h-2zM89 97h2v1h-2zM93 97h2v1h-2zM97 97h2v1h-2zM101 97h2v1h-2zM105 97h2v1h-2zM109 97h2v1h-2zM113 97h2v1h-2zM117 97h2v1h-2zM121 97h2v1h-2zM125 97h2v1h-2zM2 98h4v1h-4zM10 98h4v1h-4zM18 98h4v1h-4zM26 98h4v1h-4zM34 98h4v1h-4zM42 98h4v1h-4zM50 98h4v1h-4zM58 98h4v1h-4zM66 98h4v1h-4zM74 98h4v1h-4zM82 98h4v1h-4zM90 98h4v1h-4zM98 98h4v1h-4zM106 98h4v1h-4zM114 98h4v1h-4zM122 98h4v1h-4zM2 99h4v1h-4zM10 99h4v1h-4zM18 99h4v1h-4zM26 99h4v1h-4zM34 99h4v1h-4zM42 99h4v1h-4zM50 99h4v1h-4zM58 99h4v1h-4zM66 99h4v1h-4zM74 99h4v1h-4zM82 99h4v1h-4zM90 99h4v1h-4zM98 99h4v1h-4zM106 99h4v1h-4zM114 99h4v1h-4zM122 99h4v1h-4zM4 100h8v1h-8zM20 100h8v1h-8zM36 100h8v1h-8zM52 100h8v1h-8zM68 100h8v1h-8zM84 100h8v1h-8zM100 100h8v1h-8zM116 100h8v1h-8zM5 101h2v1h-2zM9 101h2v1h-2zM21 101h2v1h-2zM25 101h2v1h-2zM37 101h2v1h-2zM41 101h2v1h-2zM53 101h2v1h-2zM57 101h2v1h-2zM69 101h2v1h-2zM73 101h2v1h-2zM85 101h2v1h-2zM89 101h2v1h-2zM101 101h2v1h-2zM105 101h2v1h-2zM117 101h2v1h-2zM121 101h2v1h-2zM4 102h8v1h-8zM20 102h8v1h-8zM36 102h8v1h-8zM52 102h8v1h-8zM68 102h8v1h-8zM84 102h8v1h-8zM100 102h8v1h-8zM116 102h8v1h-8zM4 103h8v1h-8zM20 103h8v1h-8zM36 103h8v1h-8zM52 103h8v1h-8zM68 103h8v1h-8zM84 103h8v1h-8zM100 103h8v1h-8zM116 103h8v1h-8zM8 104h16v1h-16zM40 104h16v1h-16zM72 104h16v1h-16zM104 104h16v1h-16zM9 105h2v1h-2zM13 105h2v1h-2zM17 105h2v1h-2zM21 105h2v1h-2zM41 105h2v1h-2zM45 105h2v1h-2zM49 105h2v1h-2zM53 105h2v1h-2zM73 105h2v1h-2zM77 105h2v1h-2zM81 105h2v1h-2zM85 105h2v1h-2zM105 105h2v1h-2zM109 105h2v1h-2zM113 105h2v1h-2zM117 105h2v1h-2zM10 106h4v1h-4zM18 106h4v1h-4zM42 106h4v1h-4zM50 106h4v1h-4zM74 106h4v1h-4zM82 106h4v1h-4zM106 106h4v1h-4zM114 106h4v1h-4zM10 107h4v1h-4zM18 107h4v1h-4zM42 107h4v1h-4zM50 107h4v1h-4zM74 107h4v1h-4zM82 107h4v1h-4zM106 107h4v1h-4zM114 107h4v1h-4zM8 108h16v1h-16zM40 108h16v1h-16zM72 108h16v1h-16zM104 108h16v1h-16zM9 109h2v1h-2zM13 109h2v1h-2zM17 109h2v1h-2zM21 109h2v1h-2zM41 109h2v1h-2zM45 109h2v1h-2zM49 109h2v1h-2zM53 109h2v1h-2zM73 109h2v1h-2zM77 109h2v1h-2zM81 109h2v1h-2zM85 109h2v1h-2zM105 109h2v1h-2zM109 109h2v1h-2zM113 109h2v1h-2zM117 109h2v1h-2zM8 110h16v1h-16zM40 110h16v1h-16zM72 110h16v1h-16zM104 110h16v1h-16zM8 111h16v1h-16zM40 111h16v1h-16zM72 111h16v1h-16zM104 111h16v1h-16zM0 112h128v1h-128zM1 113h2v1h-2zM5 113h2v1h-2zM9 113h2v1h-2zM13 113h2v1h-2zM17 113h2v1h-2zM21 113h2v1h-2zM25 113h2v1h-2zM29 113h2v1h-2zM33 113h2v1h-2zM37 113h2v1h-2zM41 113h2v1h-2zM45 113h2v1h-2zM49 113h2v1h-2zM53 113h2v1h-2zM57 113h2v1h-2zM61 113h2v1h-2zM65 113h2v1h-2zM69 113h2v1h-2zM73 113h2v1h-2zM77 113h2v1h-2zM81 113h2v1h-2zM85 113h2v1h-2zM89 113h2v1h-2zM93 113h2v1h-2zM97 113h2v1h-2zM101 113h2v1h-2zM105 113h2v1h-2zM109 113h2v1h-2zM113 113h2v1h-2zM117 113h2v1h-2zM121 113h2v1h-2zM125 113h2v1h-2zM2 114h4v1h-4zM10 114h4v1h-4zM18 114h4v1h-4zM26 114h4v1h-4zM34 114h4v1h-4zM42 114h4v1h-4zM50 114h4v1h-4zM58 114h4v1h-4zM66 114h4v1h-4zM74 114h4v1h-4zM82 114h4v1h-4zM90 114h4v1h-4zM98 114h4v1h-4zM106 114h4v1h-4zM114 114h4v1h-4zM122 114h4v1h-4zM2 115h4v1h-4zM10 115h4v1h-4zM18 115h4v1h-4zM26 115h4v1h-4zM34 115h4v1h-4zM42 115h4v1h-4zM50 115h4v1h-4zM58 115h4v1h-4zM66 115h4v1h-4zM74 115h4v1h-4zM82 115h4v1h-4zM90 115h4v1h-4zM98 115h4v1h-4zM106 115h4v1h-4zM114 115h4v1h-4zM122 115h4v1h-4zM4 116h8v1h-8zM20 116h8v1h-8zM36 116h8v1h-8zM52 116h8v1h-8zM68 116h8v1h-8zM84 116h8v1h-8zM100 116h8v1h-8zM116 116h8v1h-8zM5 117h2v1h-2zM9 117h2v1h-2zM21 117h2v1h-2zM25 117h2v1h-2zM37 117h2v1h-2zM41 117h2v1h-2zM53 117h2v1h-2zM57 117h2v1h-2zM69 117h2v1h-2zM73 117h2v1h-2zM85 117h2v1h-2zM89 117h2v1h-2zM101 117h2v1h-2zM105 117h2v1h-2zM117 117h2v1h-2zM121 117h2v1h-2zM4 118h8v1h-8zM20 118h8v1h-8zM36 118h8v1h-8zM52 118h8v1h-8zM68 118h8v1h-8zM84 118h8v1h-8zM100 118h8v1h-8zM116 118h8v1h-8zM4 119h8v1h-8zM20 119h8v1h-8zM36 119h8v1h-8zM52 119h8v1h-8zM68 119h8v1h-8zM84 119h8v1h-8zM100 119h8v1h-8zM116 119h8v1h-8zM0 120h128v1h-128zM1 121h2v1h-2zM5 121h2v1h-2zM9 121h2v1h-2zM13 121h2v1h-2zM17 121h2v1h-2zM21 121h2v1h-2zM25 121h2v1h-2zM29 121h2v1h-2zM33 121h2v1h-2zM37 121h2v1h-2zM41 121h2v1h-2zM45 121h2v1h-2zM49 121h2v1h-2zM53 121h2v1h-2zM57 121h2v1h-2zM61 121h2v1h-2zM65 121h2v1h-2zM69 121h2v1h-2zM73 121h2v1h-2zM77 121h2v1h-2zM81 121h2v1h-2zM85 121h2v1h-2zM89 121h2v1h-2zM93 121h2v1h-2zM97 121h2v1h-2zM101 121h2v1h-2zM105 121h2v1h-2zM109 121h2v1h-2zM113 121h2v1h-2zM117 121h2v1h-2zM121 121h2v1h-2zM125 121h2v1h-2zM2 122h4v1h-4zM10 122h4v1h-4zM18 122h4v1h-4zM26 122h4v1h-4zM34 122h4v1h-4zM42 122h4v1h-4zM50 122h4v1h-4zM58 122h4v1h-4zM66 122h4v1h-4zM74 122h4v1h-4zM82 122h4v1h-4zM90 122h4v1h-4zM98 122h4v1h-4zM106 122h4v1h-4zM114 122h4v1h-4zM122 122h4v1h-4zM2 123h4v1h-4zM10 123h4v1h-4zM18 123h4v1h-4zM26 123h4v1h-4zM34 123h4v1h-4zM42 123h4v1h-4zM50 123h4v1h-4zM58 123h4v1h-4zM66 123h4v1h-4zM74 123h4v1h-4zM82 123h4v1h-4zM90 123h4v1h-4zM98 123h4v1h-4zM106 123h4v1h-4zM114 123h4v1h-4zM122 123h4v1h-4zM0 124h128v1h-128zM1 125h2v1h-2zM5 125h2v1h-2zM9 125h2v1h-2zM13 125h2v1h-2zM17 125h2v1h-2zM21 125h2v1h-2zM25 125h2v1h-2zM29 125h2v1h-2zM33 125h2v1h-2zM37 125h2v1h-2zM41 125h2v1h-2zM45 125h2v1h-2zM49 125h2v1h-2zM53 125h2v1h-2zM57 125h2v1h-2zM61 125h2v1h-2zM65 125h2v1h-2zM69 125h2v1h-2zM73 125h2v1h-2zM77 125h2v1h-2zM81 125h2v1h-2zM85 125h2v1h-2zM89 125h2v1h-2zM93 125h2v1h-2zM97 125h2v1h-2zM101 125h2v1h-2zM105 125h2v1h-2zM109 125h2v1h-2zM113 125h2v1h-2zM117 125h2v1h-2zM121 125h2v1h-2zM125 125h2v1h-2zM0 126h128v1h-128zM0 127h128v1h-128z" fill="#3583c5"/>
<path transform="translate(17.2 593.3) scale(1.05937 1.05703)" d="M0 0h128v1h-128zM0 1h2v1h-2zM3 1h3v1h-3zM7 1h3v1h-3zM11 1h3v1h-3zM15 1h3v1h-3zM19 1h3v1h-3zM23 1h3v1h-3zM27 1h3v1h-3zM31 1h3v1h-3zM35 1h3v1h-3zM39 1h3v1h-3zM43 1h3v1h-3zM47 1h3v1h-3zM51 1h3v1h-3zM55 1h3v1h-3zM59 1h3v1h-3zM63 1h3v1h-3zM67 1h3v1h-3zM71 1h3v1h-3zM75 1h3v1h-3zM79 1h3v1h-3zM83 1h3v1h-3zM87 1h3v1h-3zM91 1h3v1h-3zM95 1h3v1h-3zM99 1h3v1h-3zM103 1h3v1h-3zM107 1h3v1h-3zM111 1h3v1h-3zM115 1h3v1h-3zM119 1h3v1h-3zM123 1h3v1h-3zM127 1h1v1h-1zM0 2h2v1h-2zM3 2h1v1h-1zM7 2h3v1h-3zM11 2h1v1h-1zM15 2h3v1h-3zM19 2h1v1h-1zM23 2h3v1h-3zM27 2h1v1h-1zM31 2h3v1h-3zM35 2h1v1h-1zM39 2h3v1h-3zM43 2h1v1h-1zM47 2h3v1h-3zM51 2h1v1h-1zM55 2h3v1h-3zM59 2h1v1h-1zM63 2h3v1h-3zM67 2h1v1h-1zM71 2h3v1h-3zM75 2h1v1h-1zM79 2h3v1h-3zM83 2h1v1h-1zM87 2h3v1h-3zM91 2h1v1h-1zM95 2h3v1h-3zM99 2h1v1h-1zM103 2h3v1h-3zM107 2h1v1h-1zM111 2h3v1h-3zM115 2h1v1h-1zM119 2h3v1h-3zM123 2h1v1h-1zM127 2h1v1h-1zM0 3h4v1h-4zM6 3h6v1h-6zM14 3h6v1h-6zM22 3h6v1h-6zM30 3h6v1h-6zM38 3h6v1h-6zM46 3h6v1h-6zM54 3h6v1h-6zM62 3h6v1h-6zM70 3h6v1h-6zM78 3h6v1h-6zM86 3h6v1h-6zM94 3h6v1h-6zM102 3h6v1h-6zM110 3h6v1h-6zM118 3h6v1h-6zM126 3h2v1h-2zM0 4h4v1h-4zM6 4h2v1h-2zM14 4h6v1h-6zM22 4h2v1h-2zM30 4h6v1h-6zM38 4h2v1h-2zM46 4h6v1h-6zM54 4h2v1h-2zM62 4h6v1h-6zM70 4h2v1h-2zM78 4h6v1h-6zM86 4h2v1h-2zM94 4h6v1h-6zM102 4h2v1h-2zM110 4h6v1h-6zM118 4h2v1h-2zM126 4h2v1h-2zM0 5h2v1h-2zM3 5h1v1h-1zM7 5h1v1h-1zM15 5h3v1h-3zM19 5h1v1h-1zM23 5h1v1h-1zM31 5h3v1h-3zM35 5h1v1h-1zM39 5h1v1h-1zM47 5h3v1h-3zM51 5h1v1h-1zM55 5h1v1h-1zM63 5h3v1h-3zM67 5h1v1h-1zM71 5h1v1h-1zM79 5h3v1h-3zM83 5h1v1h-1zM87 5h1v1h-1zM95 5h3v1h-3zM99 5h1v1h-1zM103 5h1v1h-1zM111 5h3v1h-3zM115 5h1v1h-1zM119 5h1v1h-1zM127 5h1v1h-1zM0 6h2v1h-2zM3 6h3v1h-3zM7 6h1v1h-1zM12 6h2v1h-2zM15 6h3v1h-3zM19 6h3v1h-3zM23 6h1v1h-1zM28 6h2v1h-2zM31 6h3v1h-3zM35 6h3v1h-3zM39 6h1v1h-1zM44 6h2v1h-2zM47 6h3v1h-3zM51 6h3v1h-3zM55 6h1v1h-1zM60 6h2v1h-2zM63 6h3v1h-3zM67 6h3v1h-3zM71 6h1v1h-1zM76 6h2v1h-2zM79 6h3v1h-3zM83 6h3v1h-3zM87 6h1v1h-1zM92 6h2v1h-2zM95 6h3v1h-3zM99 6h3v1h-3zM103 6h1v1h-1zM108 6h2v1h-2zM111 6h3v1h-3zM115 6h3v1h-3zM119 6h1v1h-1zM124 6h2v1h-2zM127 6h1v1h-1zM0 7h8v1h-8zM12 7h12v1h-12zM28 7h12v1h-12zM44 7h12v1h-12zM60 7h12v1h-12zM76 7h12v1h-12zM92 7h12v1h-12zM108 7h12v1h-12zM124 7h4v1h-4zM0 8h8v1h-8zM12 8h4v1h-4zM28 8h12v1h-12zM44 8h4v1h-4zM60 8h12v1h-12zM76 8h4v1h-4zM92 8h12v1h-12zM108 8h4v1h-4zM124 8h4v1h-4zM0 9h2v1h-2zM3 9h3v1h-3zM7 9h1v1h-1zM12 9h2v1h-2zM15 9h1v1h-1zM28 9h2v1h-2zM31 9h3v1h-3zM35 9h3v1h-3zM39 9h1v1h-1zM44 9h2v1h-2zM47 9h1v1h-1zM60 9h2v1h-2zM63 9h3v1h-3zM67 9h3v1h-3zM71 9h1v1h-1zM76 9h2v1h-2zM79 9h1v1h-1zM92 9h2v1h-2zM95 9h3v1h-3zM99 9h3v1h-3zM103 9h1v1h-1zM108 9h2v1h-2zM111 9h1v1h-1zM124 9h2v1h-2zM127 9h1v1h-1zM0 10h2v1h-2zM3 10h1v1h-1zM7 10h1v1h-1zM15 10h1v1h-1zM31 10h3v1h-3zM35 10h1v1h-1zM39 10h1v1h-1zM47 10h1v1h-1zM63 10h3v1h-3zM67 10h1v1h-1zM71 10h1v1h-1zM79 10h1v1h-1zM95 10h3v1h-3zM99 10h1v1h-1zM103 10h1v1h-1zM111 10h1v1h-1zM127 10h1v1h-1zM0 11h4v1h-4zM6 11h2v1h-2zM14 11h2v1h-2zM30 11h6v1h-6zM38 11h2v1h-2zM46 11h2v1h-2zM62 11h6v1h-6zM70 11h2v1h-2zM78 11h2v1h-2zM94 11h6v1h-6zM102 11h2v1h-2zM110 11h2v1h-2zM126 11h2v1h-2zM0 12h4v1h-4zM6 12h6v1h-6zM14 12h2v1h-2zM24 12h4v1h-4zM30 12h6v1h-6zM38 12h6v1h-6zM46 12h2v1h-2zM56 12h4v1h-4zM62 12h6v1h-6zM70 12h6v1h-6zM78 12h2v1h-2zM88 12h4v1h-4zM94 12h6v1h-6zM102 12h6v1h-6zM110 12h2v1h-2zM120 12h4v1h-4zM126 12h2v1h-2zM0 13h2v1h-2zM3 13h1v1h-1zM7 13h3v1h-3zM11 13h1v1h-1zM15 13h1v1h-1zM24 13h2v1h-2zM27 13h1v1h-1zM31 13h3v1h-3zM35 13h1v1h-1zM39 13h3v1h-3zM43 13h1v1h-1zM47 13h1v1h-1zM56 13h2v1h-2zM59 13h1v1h-1zM63 13h3v1h-3zM67 13h1v1h-1zM71 13h3v1h-3zM75 13h1v1h-1zM79 13h1v1h-1zM88 13h2v1h-2zM91 13h1v1h-1zM95 13h3v1h-3zM99 13h1v1h-1zM103 13h3v1h-3zM107 13h1v1h-1zM111 13h1v1h-1zM120 13h2v1h-2zM123 13h1v1h-1zM127 13h1v1h-1zM0 14h2v1h-2zM3 14h3v1h-3zM7 14h3v1h-3zM11 14h3v1h-3zM15 14h1v1h-1zM24 14h2v1h-2zM27 14h3v1h-3zM31 14h3v1h-3zM35 14h3v1h-3zM39 14h3v1h-3zM43 14h3v1h-3zM47 14h1v1h-1zM56 14h2v1h-2zM59 14h3v1h-3zM63 14h3v1h-3zM67 14h3v1h-3zM71 14h3v1h-3zM75 14h3v1h-3zM79 14h1v1h-1zM88 14h2v1h-2zM91 14h3v1h-3zM95 14h3v1h-3zM99 14h3v1h-3zM103 14h3v1h-3zM107 14h3v1h-3zM111 14h1v1h-1zM120 14h2v1h-2zM123 14h3v1h-3zM127 14h1v1h-1zM0 15h16v1h-16zM24 15h24v1h-24zM56 15h24v1h-24zM88 15h24v1h-24zM120 15h8v1h-8zM0 16h16v1h-16zM24 16h8v1h-8zM56 16h24v1h-24zM88 16h8v1h-8zM120 16h8v1h-8zM0 17h2v1h-2zM3 17h3v1h-3zM7 17h3v1h-3zM11 17h3v1h-3zM15 17h1v1h-1zM24 17h2v1h-2zM27 17h3v1h-3zM31 17h1v1h-1zM56 17h2v1h-2zM59 17h3v1h-3zM63 17h3v1h-3zM67 17h3v1h-3zM71 17h3v1h-3zM75 17h3v1h-3zM79 17h1v1h-1zM88 17h2v1h-2zM91 17h3v1h-3zM95 17h1v1h-1zM120 17h2v1h-2zM123 17h3v1h-3zM127 17h1v1h-1zM0 18h2v1h-2zM3 18h1v1h-1zM7 18h3v1h-3zM11 18h1v1h-1zM15 18h1v1h-1zM24 18h2v1h-2zM27 18h1v1h-1zM31 18h1v1h-1zM56 18h2v1h-2zM59 18h1v1h-1zM63 18h3v1h-3zM67 18h1v1h-1zM71 18h3v1h-3zM75 18h1v1h-1zM79 18h1v1h-1zM88 18h2v1h-2zM91 18h1v1h-1zM95 18h1v1h-1zM120 18h2v1h-2zM123 18h1v1h-1zM127 18h1v1h-1zM0 19h4v1h-4zM6 19h6v1h-6zM14 19h2v1h-2zM24 19h4v1h-4zM30 19h2v1h-2zM56 19h4v1h-4zM62 19h6v1h-6zM70 19h6v1h-6zM78 19h2v1h-2zM88 19h4v1h-4zM94 19h2v1h-2zM120 19h4v1h-4zM126 19h2v1h-2zM0 20h4v1h-4zM6 20h2v1h-2zM14 20h2v1h-2zM30 20h2v1h-2zM62 20h6v1h-6zM70 20h2v1h-2zM78 20h2v1h-2zM94 20h2v1h-2zM126 20h2v1h-2zM0 21h2v1h-2zM3 21h1v1h-1zM7 21h1v1h-1zM15 21h1v1h-1zM31 21h1v1h-1zM63 21h3v1h-3zM67 21h1v1h-1zM71 21h1v1h-1zM79 21h1v1h-1zM95 21h1v1h-1zM127 21h1v1h-1zM0 22h2v1h-2zM3 22h3v1h-3zM7 22h1v1h-1zM12 22h2v1h-2zM15 22h1v1h-1zM28 22h2v1h-2zM31 22h1v1h-1zM60 22h2v1h-2zM63 22h3v1h-3zM67 22h3v1h-3zM71 22h1v1h-1zM76 22h2v1h-2zM79 22h1v1h-1zM92 22h2v1h-2zM95 22h1v1h-1zM124 22h2v1h-2zM127 22h1v1h-1zM0 23h8v1h-8zM12 23h4v1h-4zM28 23h4v1h-4zM60 23h12v1h-12zM76 23h4v1h-4zM92 23h4v1h-4zM124 23h4v1h-4zM0 24h8v1h-8zM12 24h12v1h-12zM28 24h4v1h-4zM48 24h8v1h-8zM60 24h12v1h-12zM76 24h12v1h-12zM92 24h4v1h-4zM112 24h8v1h-8zM124 24h4v1h-4zM0 25h2v1h-2zM3 25h3v1h-3zM7 25h1v1h-1zM12 25h2v1h-2zM15 25h3v1h-3zM19 25h3v1h-3zM23 25h1v1h-1zM28 25h2v1h-2zM31 25h1v1h-1zM48 25h2v1h-2zM51 25h3v1h-3zM55 25h1v1h-1zM60 25h2v1h-2zM63 25h3v1h-3zM67 25h3v1h-3zM71 25h1v1h-1zM76 25h2v1h-2zM79 25h3v1h-3zM83 25h3v1h-3zM87 25h1v1h-1zM92 25h2v1h-2zM95 25h1v1h-1zM112 25h2v1h-2zM115 25h3v1h-3zM119 25h1v1h-1zM124 25h2v1h-2zM127 25h1v1h-1zM0 26h2v1h-2zM3 26h1v1h-1zM7 26h1v1h-1zM15 26h3v1h-3zM19 26h1v1h-1zM23 26h1v1h-1zM31 26h1v1h-1zM48 26h2v1h-2zM51 26h1v1h-1zM55 26h1v1h-1zM63 26h3v1h-3zM67 26h1v1h-1zM71 26h1v1h-1zM79 26h3v1h-3zM83 26h1v1h-1zM87 26h1v1h-1zM95 26h1v1h-1zM112 26h2v1h-2zM115 26h1v1h-1zM119 26h1v1h-1zM127 26h1v1h-1zM0 27h4v1h-4zM6 27h2v1h-2zM14 27h6v1h-6zM22 27h2v1h-2zM30 27h2v1h-2zM48 27h4v1h-4zM54 27h2v1h-2zM62 27h6v1h-6zM70 27h2v1h-2zM78 27h6v1h-6zM86 27h2v1h-2zM94 27h2v1h-2zM112 27h4v1h-4zM118 27h2v1h-2zM126 27h2v1h-2zM0 28h4v1h-4zM6 28h6v1h-6zM14 28h6v1h-6zM22 28h6v1h-6zM30 28h2v1h-2zM48 28h4v1h-4zM54 28h6v1h-6zM62 28h6v1h-6zM70 28h6v1h-6zM78 28h6v1h-6zM86 28h6v1h-6zM94 28h2v1h-2zM112 28h4v1h-4zM118 28h6v1h-6zM126 28h2v1h-2zM0 29h2v1h-2zM3 29h1v1h-1zM7 29h3v1h-3zM11 29h1v1h-1zM15 29h3v1h-3zM19 29h1v1h-1zM23 29h3v1h-3zM27 29h1v1h-1zM31 29h1v1h-1zM48 29h2v1h-2zM51 29h1v1h-1zM55 29h3v1h-3zM59 29h1v1h-1zM63 29h3v1h-3zM67 29h1v1h-1zM71 29h3v1h-3zM75 29h1v1h-1zM79 29h3v1h-3zM83 29h1v1h-1zM87 29h3v1h-3zM91 29h1v1h-1zM95 29h1v1h-1zM112 29h2v1h-2zM115 29h1v1h-1zM119 29h3v1h-3zM123 29h1v1h-1zM127 29h1v1h-1zM0 30h2v1h-2zM3 30h3v1h-3zM7 30h3v1h-3zM11 30h3v1h-3zM15 30h3v1h-3zM19 30h3v1h-3zM23 30h3v1h-3zM27 30h3v1h-3zM31 30h1v1h-1zM48 30h2v1h-2zM51 30h3v1h-3zM55 30h3v1h-3zM59 30h3v1h-3zM63 30h3v1h-3zM67 30h3v1h-3zM71 30h3v1h-3zM75 30h3v1h-3zM79 30h3v1h-3zM83 30h3v1h-3zM87 30h3v1h-3zM91 30h3v1h-3zM95 30h1v1h-1zM112 30h2v1h-2zM115 30h3v1h-3zM119 30h3v1h-3zM123 30h3v1h-3zM127 30h1v1h-1zM0 31h32v1h-32zM48 31h48v1h-48zM112 31h16v1h-16zM0 32h32v1h-32zM48 32h16v1h-16zM112 32h16v1h-16zM0 33h2v1h-2zM3 33h3v1h-3zM7 33h3v1h-3zM11 33h3v1h-3zM15 33h3v1h-3zM19 33h3v1h-3zM23 33h3v1h-3zM27 33h3v1h-3zM31 33h1v1h-1zM48 33h2v1h-2zM51 33h3v1h-3zM55 33h3v1h-3zM59 33h3v1h-3zM63 33h1v1h-1zM112 33h2v1h-2zM115 33h3v1h-3zM119 33h3v1h-3zM123 33h3v1h-3zM127 33h1v1h-1zM0 34h2v1h-2zM3 34h1v1h-1zM7 34h3v1h-3zM11 34h1v1h-1zM15 34h3v1h-3zM19 34h1v1h-1zM23 34h3v1h-3zM27 34h1v1h-1zM31 34h1v1h-1zM48 34h2v1h-2zM51 34h1v1h-1zM55 34h3v1h-3zM59 34h1v1h-1zM63 34h1v1h-1zM112 34h2v1h-2zM115 34h1v1h-1zM119 34h3v1h-3zM123 34h1v1h-1zM127 34h1v1h-1zM0 35h4v1h-4zM6 35h6v1h-6zM14 35h6v1h-6zM22 35h6v1h-6zM30 35h2v1h-2zM48 35h4v1h-4zM54 35h6v1h-6zM62 35h2v1h-2zM112 35h4v1h-4zM118 35h6v1h-6zM126 35h2v1h-2zM0 36h4v1h-4zM6 36h2v1h-2zM14 36h6v1h-6zM22 36h2v1h-2zM30 36h2v1h-2zM48 36h4v1h-4zM54 36h2v1h-2zM62 36h2v1h-2zM112 36h4v1h-4zM118 36h2v1h-2zM126 36h2v1h-2zM0 37h2v1h-2zM3 37h1v1h-1zM7 37h1v1h-1zM15 37h3v1h-3zM19 37h1v1h-1zM23 37h1v1h-1zM31 37h1v1h-1zM48 37h2v1h-2zM51 37h1v1h-1zM55 37h1v1h-1zM63 37h1v1h-1zM112 37h2v1h-2zM115 37h1v1h-1zM119 37h1v1h-1zM127 37h1v1h-1zM0 38h2v1h-2zM3 38h3v1h-3zM7 38h1v1h-1zM12 38h2v1h-2zM15 38h3v1h-3zM19 38h3v1h-3zM23 38h1v1h-1zM28 38h2v1h-2zM31 38h1v1h-1zM48 38h2v1h-2zM51 38h3v1h-3zM55 38h1v1h-1zM60 38h2v1h-2zM63 38h1v1h-1zM112 38h2v1h-2zM115 38h3v1h-3zM119 38h1v1h-1zM124 38h2v1h-2zM127 38h1v1h-1zM0 39h8v1h-8zM12 39h12v1h-12zM28 39h4v1h-4zM48 39h8v1h-8zM60 39h4v1h-4zM112 39h8v1h-8zM124 39h4v1h-4zM0 40h8v1h-8zM12 40h4v1h-4zM28 40h4v1h-4zM60 40h4v1h-4zM124 40h4v1h-4zM0 41h2v1h-2zM3 41h3v1h-3zM7 41h1v1h-1zM12 41h2v1h-2zM15 41h1v1h-1zM28 41h2v1h-2zM31 41h1v1h-1zM60 41h2v1h-2zM63 41h1v1h-1zM124 41h2v1h-2zM127 41h1v1h-1zM0 42h2v1h-2zM3 42h1v1h-1zM7 42h1v1h-1zM15 42h1v1h-1zM31 42h1v1h-1zM63 42h1v1h-1zM127 42h1v1h-1zM0 43h4v1h-4zM6 43h2v1h-2zM14 43h2v1h-2zM30 43h2v1h-2zM62 43h2v1h-2zM126 43h2v1h-2zM0 44h4v1h-4zM6 44h6v1h-6zM14 44h2v1h-2zM24 44h4v1h-4zM30 44h2v1h-2zM56 44h4v1h-4zM62 44h2v1h-2zM120 44h4v1h-4zM126 44h2v1h-2zM0 45h2v1h-2zM3 45h1v1h-1zM7 45h3v1h-3zM11 45h1v1h-1zM15 45h1v1h-1zM24 45h2v1h-2zM27 45h1v1h-1zM31 45h1v1h-1zM56 45h2v1h-2zM59 45h1v1h-1zM63 45h1v1h-1zM120 45h2v1h-2zM123 45h1v1h-1zM127 45h1v1h-1zM0 46h2v1h-2zM3 46h3v1h-3zM7 46h3v1h-3zM11 46h3v1h-3zM15 46h1v1h-1zM24 46h2v1h-2zM27 46h3v1h-3zM31 46h1v1h-1zM56 46h2v1h-2zM59 46h3v1h-3zM63 46h1v1h-1zM120 46h2v1h-2zM123 46h3v1h-3zM127 46h1v1h-1zM0 47h16v1h-16zM24 47h8v1h-8zM56 47h8v1h-8zM120 47h8v1h-8zM0 48h16v1h-16zM24 48h24v1h-24zM56 48h8v1h-8zM96 48h16v1h-16zM120 48h8v1h-8zM0 49h2v1h-2zM3 49h3v1h-3zM7 49h3v1h-3zM11 49h3v1h-3zM15 49h1v1h-1zM24 49h2v1h-2zM27 49h3v1h-3zM31 49h3v1h-3zM35 49h3v1h-3zM39 49h3v1h-3zM43 49h3v1h-3zM47 49h1v1h-1zM56 49h2v1h-2zM59 49h3v1h-3zM63 49h1v1h-1zM96 49h2v1h-2zM99 49h3v1h-3zM103 49h3v1h-3zM107 49h3v1h-3zM111 49h1v1h-1zM120 49h2v1h-2zM123 49h3v1h-3zM127 49h1v1h-1zM0 50h2v1h-2zM3 50h1v1h-1zM7 50h3v1h-3zM11 50h1v1h-1zM15 50h1v1h-1zM24 50h2v1h-2zM27 50h1v1h-1zM31 50h3v1h-3zM35 50h1v1h-1zM39 50h3v1h-3zM43 50h1v1h-1zM47 50h1v1h-1zM56 50h2v1h-2zM59 50h1v1h-1zM63 50h1v1h-1zM96 50h2v1h-2zM99 50h1v1h-1zM103 50h3v1h-3zM107 50h1v1h-1zM111 50h1v1h-1zM120 50h2v1h-2zM123 50h1v1h-1zM127 50h1v1h-1zM0 51h4v1h-4zM6 51h6v1h-6zM14 51h2v1h-2zM24 51h4v1h-4zM30 51h6v1h-6zM38 51h6v1h-6zM46 51h2v1h-2zM56 51h4v1h-4zM62 51h2v1h-2zM96 51h4v1h-4zM102 51h6v1h-6zM110 51h2v1h-2zM120 51h4v1h-4zM126 51h2v1h-2zM0 52h4v1h-4zM6 52h2v1h-2zM14 52h2v1h-2zM30 52h6v1h-6zM38 52h2v1h-2zM46 52h2v1h-2zM62 52h2v1h-2zM96 52h4v1h-4zM102 52h2v1h-2zM110 52h2v1h-2zM126 52h2v1h-2zM0 53h2v1h-2zM3 53h1v1h-1zM7 53h1v1h-1zM15 53h1v1h-1zM31 53h3v1h-3zM35 53h1v1h-1zM39 53h1v1h-1zM47 53h1v1h-1zM63 53h1v1h-1zM96 53h2v1h-2zM99 53h1v1h-1zM103 53h1v1h-1zM111 53h1v1h-1zM127 53h1v1h-1zM0 54h2v1h-2zM3 54h3v1h-3zM7 54h1v1h-1zM12 54h2v1h-2zM15 54h1v1h-1zM28 54h2v1h-2zM31 54h3v1h-3zM35 54h3v1h-3zM39 54h1v1h-1zM44 54h2v1h-2zM47 54h1v1h-1zM60 54h2v1h-2zM63 54h1v1h-1zM96 54h2v1h-2zM99 54h3v1h-3zM103 54h1v1h-1zM108 54h2v1h-2zM111 54h1v1h-1zM124 54h2v1h-2zM127 54h1v1h-1zM0 55h8v1h-8zM12 55h4v1h-4zM28 55h12v1h-12zM44 55h4v1h-4zM60 55h4v1h-4zM96 55h8v1h-8zM108 55h4v1h-4zM124 55h4v1h-4zM0 56h8v1h-8zM12 56h12v1h-12zM28 56h12v1h-12zM44 56h12v1h-12zM60 56h4v1h-4zM96 56h8v1h-8zM108 56h12v1h-12zM124 56h4v1h-4zM0 57h2v1h-2zM3 57h3v1h-3zM7 57h1v1h-1zM12 57h2v1h-2zM15 57h3v1h-3zM19 57h3v1h-3zM23 57h1v1h-1zM28 57h2v1h-2zM31 57h3v1h-3zM35 57h3v1h-3zM39 57h1v1h-1zM44 57h2v1h-2zM47 57h3v1h-3zM51 57h3v1h-3zM55 57h1v1h-1zM60 57h2v1h-2zM63 57h1v1h-1zM96 57h2v1h-2zM99 57h3v1h-3zM103 57h1v1h-1zM108 57h2v1h-2zM111 57h3v1h-3zM115 57h3v1h-3zM119 57h1v1h-1zM124 57h2v1h-2zM127 57h1v1h-1zM0 58h2v1h-2zM3 58h1v1h-1zM7 58h1v1h-1zM15 58h3v1h-3zM19 58h1v1h-1zM23 58h1v1h-1zM31 58h3v1h-3zM35 58h1v1h-1zM39 58h1v1h-1zM47 58h3v1h-3zM51 58h1v1h-1zM55 58h1v1h-1zM63 58h1v1h-1zM96 58h2v1h-2zM99 58h1v1h-1zM103 58h1v1h-1zM111 58h3v1h-3zM115 58h1v1h-1zM119 58h1v1h-1zM127 58h1v1h-1zM0 59h4v1h-4zM6 59h2v1h-2zM14 59h6v1h-6zM22 59h2v1h-2zM30 59h6v1h-6zM38 59h2v1h-2zM46 59h6v1h-6zM54 59h2v1h-2zM62 59h2v1h-2zM96 59h4v1h-4zM102 59h2v1h-2zM110 59h6v1h-6zM118 59h2v1h-2zM126 59h2v1h-2zM0 60h4v1h-4zM6 60h6v1h-6zM14 60h6v1h-6zM22 60h6v1h-6zM30 60h6v1h-6zM38 60h6v1h-6zM46 60h6v1h-6zM54 60h6v1h-6zM62 60h2v1h-2zM96 60h4v1h-4zM102 60h6v1h-6zM110 60h6v1h-6zM118 60h6v1h-6zM126 60h2v1h-2zM0 61h2v1h-2zM3 61h1v1h-1zM7 61h3v1h-3zM11 61h1v1h-1zM15 61h3v1h-3zM19 61h1v1h-1zM23 61h3v1h-3zM27 61h1v1h-1zM31 61h3v1h-3zM35 61h1v1h-1zM39 61h3v1h-3zM43 61h1v1h-1zM47 61h3v1h-3zM51 61h1v1h-1zM55 61h3v1h-3zM59 61h1v1h-1zM63 61h1v1h-1zM96 61h2v1h-2zM99 61h1v1h-1zM103 61h3v1h-3zM107 61h1v1h-1zM111 61h3v1h-3zM115 61h1v1h-1zM119 61h3v1h-3zM123 61h1v1h-1zM127 61h1v1h-1zM0 62h2v1h-2zM3 62h3v1h-3zM7 62h3v1h-3zM11 62h3v1h-3zM15 62h3v1h-3zM19 62h3v1h-3zM23 62h3v1h-3zM27 62h3v1h-3zM31 62h3v1h-3zM35 62h3v1h-3zM39 62h3v1h-3zM43 62h3v1h-3zM47 62h3v1h-3zM51 62h3v1h-3zM55 62h3v1h-3zM59 62h3v1h-3zM63 62h1v1h-1zM96 62h2v1h-2zM99 62h3v1h-3zM103 62h3v1h-3zM107 62h3v1h-3zM111 62h3v1h-3zM115 62h3v1h-3zM119 62h3v1h-3zM123 62h3v1h-3zM127 62h1v1h-1zM0 63h64v1h-64zM96 63h32v1h-32zM0 64h64v1h-64zM96 64h32v1h-32zM0 65h2v1h-2zM3 65h3v1h-3zM7 65h3v1h-3zM11 65h3v1h-3zM15 65h3v1h-3zM19 65h3v1h-3zM23 65h3v1h-3zM27 65h3v1h-3zM31 65h3v1h-3zM35 65h3v1h-3zM39 65h3v1h-3zM43 65h3v1h-3zM47 65h3v1h-3zM51 65h3v1h-3zM55 65h3v1h-3zM59 65h3v1h-3zM63 65h1v1h-1zM96 65h2v1h-2zM99 65h3v1h-3zM103 65h3v1h-3zM107 65h3v1h-3zM111 65h3v1h-3zM115 65h3v1h-3zM119 65h3v1h-3zM123 65h3v1h-3zM127 65h1v1h-1zM0 66h2v1h-2zM3 66h1v1h-1zM7 66h3v1h-3zM11 66h1v1h-1zM15 66h3v1h-3zM19 66h1v1h-1zM23 66h3v1h-3zM27 66h1v1h-1zM31 66h3v1h-3zM35 66h1v1h-1zM39 66h3v1h-3zM43 66h1v1h-1zM47 66h3v1h-3zM51 66h1v1h-1zM55 66h3v1h-3zM59 66h1v1h-1zM63 66h1v1h-1zM96 66h2v1h-2zM99 66h1v1h-1zM103 66h3v1h-3zM107 66h1v1h-1zM111 66h3v1h-3zM115 66h1v1h-1zM119 66h3v1h-3zM123 66h1v1h-1zM127 66h1v1h-1zM0 67h4v1h-4zM6 67h6v1h-6zM14 67h6v1h-6zM22 67h6v1h-6zM30 67h6v1h-6zM38 67h6v1h-6zM46 67h6v1h-6zM54 67h6v1h-6zM62 67h2v1h-2zM96 67h4v1h-4zM102 67h6v1h-6zM110 67h6v1h-6zM118 67h6v1h-6zM126 67h2v1h-2zM0 68h4v1h-4zM6 68h2v1h-2zM14 68h6v1h-6zM22 68h2v1h-2zM30 68h6v1h-6zM38 68h2v1h-2zM46 68h6v1h-6zM54 68h2v1h-2zM62 68h2v1h-2zM96 68h4v1h-4zM102 68h2v1h-2zM110 68h6v1h-6zM118 68h2v1h-2zM126 68h2v1h-2zM0 69h2v1h-2zM3 69h1v1h-1zM7 69h1v1h-1zM15 69h3v1h-3zM19 69h1v1h-1zM23 69h1v1h-1zM31 69h3v1h-3zM35 69h1v1h-1zM39 69h1v1h-1zM47 69h3v1h-3zM51 69h1v1h-1zM55 69h1v1h-1zM63 69h1v1h-1zM96 69h2v1h-2zM99 69h1v1h-1zM103 69h1v1h-1zM111 69h3v1h-3zM115 69h1v1h-1zM119 69h1v1h-1zM127 69h1v1h-1zM0 70h2v1h-2zM3 70h3v1h-3zM7 70h1v1h-1zM12 70h2v1h-2zM15 70h3v1h-3zM19 70h3v1h-3zM23 70h1v1h-1zM28 70h2v1h-2zM31 70h3v1h-3zM35 70h3v1h-3zM39 70h1v1h-1zM44 70h2v1h-2zM47 70h3v1h-3zM51 70h3v1h-3zM55 70h1v1h-1zM60 70h2v1h-2zM63 70h1v1h-1zM96 70h2v1h-2zM99 70h3v1h-3zM103 70h1v1h-1zM108 70h2v1h-2zM111 70h3v1h-3zM115 70h3v1h-3zM119 70h1v1h-1zM124 70h2v1h-2zM127 70h1v1h-1zM0 71h8v1h-8zM12 71h12v1h-12zM28 71h12v1h-12zM44 71h12v1h-12zM60 71h4v1h-4zM96 71h8v1h-8zM108 71h12v1h-12zM124 71h4v1h-4zM0 72h8v1h-8zM12 72h4v1h-4zM28 72h12v1h-12zM44 72h4v1h-4zM60 72h4v1h-4zM96 72h8v1h-8zM108 72h4v1h-4zM124 72h4v1h-4zM0 73h2v1h-2zM3 73h3v1h-3zM7 73h1v1h-1zM12 73h2v1h-2zM15 73h1v1h-1zM28 73h2v1h-2zM31 73h3v1h-3zM35 73h3v1h-3zM39 73h1v1h-1zM44 73h2v1h-2zM47 73h1v1h-1zM60 73h2v1h-2zM63 73h1v1h-1zM96 73h2v1h-2zM99 73h3v1h-3zM103 73h1v1h-1zM108 73h2v1h-2zM111 73h1v1h-1zM124 73h2v1h-2zM127 73h1v1h-1zM0 74h2v1h-2zM3 74h1v1h-1zM7 74h1v1h-1zM15 74h1v1h-1zM31 74h3v1h-3zM35 74h1v1h-1zM39 74h1v1h-1zM47 74h1v1h-1zM63 74h1v1h-1zM96 74h2v1h-2zM99 74h1v1h-1zM103 74h1v1h-1zM111 74h1v1h-1zM127 74h1v1h-1zM0 75h4v1h-4zM6 75h2v1h-2zM14 75h2v1h-2zM30 75h6v1h-6zM38 75h2v1h-2zM46 75h2v1h-2zM62 75h2v1h-2zM96 75h4v1h-4zM102 75h2v1h-2zM110 75h2v1h-2zM126 75h2v1h-2zM0 76h4v1h-4zM6 76h6v1h-6zM14 76h2v1h-2zM24 76h4v1h-4zM30 76h6v1h-6zM38 76h6v1h-6zM46 76h2v1h-2zM56 76h4v1h-4zM62 76h2v1h-2zM96 76h4v1h-4zM102 76h6v1h-6zM110 76h2v1h-2zM120 76h4v1h-4zM126 76h2v1h-2zM0 77h2v1h-2zM3 77h1v1h-1zM7 77h3v1h-3zM11 77h1v1h-1zM15 77h1v1h-1zM24 77h2v1h-2zM27 77h1v1h-1zM31 77h3v1h-3zM35 77h1v1h-1zM39 77h3v1h-3zM43 77h1v1h-1zM47 77h1v1h-1zM56 77h2v1h-2zM59 77h1v1h-1zM63 77h1v1h-1zM96 77h2v1h-2zM99 77h1v1h-1zM103 77h3v1h-3zM107 77h1v1h-1zM111 77h1v1h-1zM120 77h2v1h-2zM123 77h1v1h-1zM127 77h1v1h-1zM0 78h2v1h-2zM3 78h3v1h-3zM7 78h3v1h-3zM11 78h3v1h-3zM15 78h1v1h-1zM24 78h2v1h-2zM27 78h3v1h-3zM31 78h3v1h-3zM35 78h3v1h-3zM39 78h3v1h-3zM43 78h3v1h-3zM47 78h1v1h-1zM56 78h2v1h-2zM59 78h3v1h-3zM63 78h1v1h-1zM96 78h2v1h-2zM99 78h3v1h-3zM103 78h3v1h-3zM107 78h3v1h-3zM111 78h1v1h-1zM120 78h2v1h-2zM123 78h3v1h-3zM127 78h1v1h-1zM0 79h16v1h-16zM24 79h24v1h-24zM56 79h8v1h-8zM96 79h16v1h-16zM120 79h8v1h-8zM0 80h16v1h-16zM24 80h8v1h-8zM56 80h8v1h-8zM120 80h8v1h-8zM0 81h2v1h-2zM3 81h3v1h-3zM7 81h3v1h-3zM11 81h3v1h-3zM15 81h1v1h-1zM24 81h2v1h-2zM27 81h3v1h-3zM31 81h1v1h-1zM56 81h2v1h-2zM59 81h3v1h-3zM63 81h1v1h-1zM120 81h2v1h-2zM123 81h3v1h-3zM127 81h1v1h-1zM0 82h2v1h-2zM3 82h1v1h-1zM7 82h3v1h-3zM11 82h1v1h-1zM15 82h1v1h-1zM24 82h2v1h-2zM27 82h1v1h-1zM31 82h1v1h-1zM56 82h2v1h-2zM59 82h1v1h-1zM63 82h1v1h-1zM120 82h2v1h-2zM123 82h1v1h-1zM127 82h1v1h-1zM0 83h4v1h-4zM6 83h6v1h-6zM14 83h2v1h-2zM24 83h4v1h-4zM30 83h2v1h-2zM56 83h4v1h-4zM62 83h2v1h-2zM120 83h4v1h-4zM126 83h2v1h-2zM0 84h4v1h-4zM6 84h2v1h-2zM14 84h2v1h-2zM30 84h2v1h-2zM62 84h2v1h-2zM126 84h2v1h-2zM0 85h2v1h-2zM3 85h1v1h-1zM7 85h1v1h-1zM15 85h1v1h-1zM31 85h1v1h-1zM63 85h1v1h-1zM127 85h1v1h-1zM0 86h2v1h-2zM3 86h3v1h-3zM7 86h1v1h-1zM12 86h2v1h-2zM15 86h1v1h-1zM28 86h2v1h-2zM31 86h1v1h-1zM60 86h2v1h-2zM63 86h1v1h-1zM124 86h2v1h-2zM127 86h1v1h-1zM0 87h8v1h-8zM12 87h4v1h-4zM28 87h4v1h-4zM60 87h4v1h-4zM124 87h4v1h-4zM0 88h8v1h-8zM12 88h12v1h-12zM28 88h4v1h-4zM48 88h8v1h-8zM60 88h4v1h-4zM112 88h8v1h-8zM124 88h4v1h-4zM0 89h2v1h-2zM3 89h3v1h-3zM7 89h1v1h-1zM12 89h2v1h-2zM15 89h3v1h-3zM19 89h3v1h-3zM23 89h1v1h-1zM28 89h2v1h-2zM31 89h1v1h-1zM48 89h2v1h-2zM51 89h3v1h-3zM55 89h1v1h-1zM60 89h2v1h-2zM63 89h1v1h-1zM112 89h2v1h-2zM115 89h3v1h-3zM119 89h1v1h-1zM124 89h2v1h-2zM127 89h1v1h-1zM0 90h2v1h-2zM3 90h1v1h-1zM7 90h1v1h-1zM15 90h3v1h-3zM19 90h1v1h-1zM23 90h1v1h-1zM31 90h1v1h-1zM48 90h2v1h-2zM51 90h1v1h-1zM55 90h1v1h-1zM63 90h1v1h-1zM112 90h2v1h-2zM115 90h1v1h-1zM119 90h1v1h-1zM127 90h1v1h-1zM0 91h4v1h-4zM6 91h2v1h-2zM14 91h6v1h-6zM22 91h2v1h-2zM30 91h2v1h-2zM48 91h4v1h-4zM54 91h2v1h-2zM62 91h2v1h-2zM112 91h4v1h-4zM118 91h2v1h-2zM126 91h2v1h-2zM0 92h4v1h-4zM6 92h6v1h-6zM14 92h6v1h-6zM22 92h6v1h-6zM30 92h2v1h-2zM48 92h4v1h-4zM54 92h6v1h-6zM62 92h2v1h-2zM112 92h4v1h-4zM118 92h6v1h-6zM126 92h2v1h-2zM0 93h2v1h-2zM3 93h1v1h-1zM7 93h3v1h-3zM11 93h1v1h-1zM15 93h3v1h-3zM19 93h1v1h-1zM23 93h3v1h-3zM27 93h1v1h-1zM31 93h1v1h-1zM48 93h2v1h-2zM51 93h1v1h-1zM55 93h3v1h-3zM59 93h1v1h-1zM63 93h1v1h-1zM112 93h2v1h-2zM115 93h1v1h-1zM119 93h3v1h-3zM123 93h1v1h-1zM127 93h1v1h-1zM0 94h2v1h-2zM3 94h3v1h-3zM7 94h3v1h-3zM11 94h3v1h-3zM15 94h3v1h-3zM19 94h3v1h-3zM23 94h3v1h-3zM27 94h3v1h-3zM31 94h1v1h-1zM48 94h2v1h-2zM51 94h3v1h-3zM55 94h3v1h-3zM59 94h3v1h-3zM63 94h1v1h-1zM112 94h2v1h-2zM115 94h3v1h-3zM119 94h3v1h-3zM123 94h3v1h-3zM127 94h1v1h-1zM0 95h32v1h-32zM48 95h16v1h-16zM112 95h16v1h-16zM0 96h32v1h-32zM48 96h48v1h-48zM112 96h16v1h-16zM0 97h2v1h-2zM3 97h3v1h-3zM7 97h3v1h-3zM11 97h3v1h-3zM15 97h3v1h-3zM19 97h3v1h-3zM23 97h3v1h-3zM27 97h3v1h-3zM31 97h1v1h-1zM48 97h2v1h-2zM51 97h3v1h-3zM55 97h3v1h-3zM59 97h3v1h-3zM63 97h3v1h-3zM67 97h3v1h-3zM71 97h3v1h-3zM75 97h3v1h-3zM79 97h3v1h-3zM83 97h3v1h-3zM87 97h3v1h-3zM91 97h3v1h-3zM95 97h1v1h-1zM112 97h2v1h-2zM115 97h3v1h-3zM119 97h3v1h-3zM123 97h3v1h-3zM127 97h1v1h-1zM0 98h2v1h-2zM3 98h1v1h-1zM7 98h3v1h-3zM11 98h1v1h-1zM15 98h3v1h-3zM19 98h1v1h-1zM23 98h3v1h-3zM27 98h1v1h-1zM31 98h1v1h-1zM48 98h2v1h-2zM51 98h1v1h-1zM55 98h3v1h-3zM59 98h1v1h-1zM63 98h3v1h-3zM67 98h1v1h-1zM71 98h3v1h-3zM75 98h1v1h-1zM79 98h3v1h-3zM83 98h1v1h-1zM87 98h3v1h-3zM91 98h1v1h-1zM95 98h1v1h-1zM112 98h2v1h-2zM115 98h1v1h-1zM119 98h3v1h-3zM123 98h1v1h-1zM127 98h1v1h-1zM0 99h4v1h-4zM6 99h6v1h-6zM14 99h6v1h-6zM22 99h6v1h-6zM30 99h2v1h-2zM48 99h4v1h-4zM54 99h6v1h-6zM62 99h6v1h-6zM70 99h6v1h-6zM78 99h6v1h-6zM86 99h6v1h-6zM94 99h2v1h-2zM112 99h4v1h-4zM118 99h6v1h-6zM126 99h2v1h-2zM0 100h4v1h-4zM6 100h2v1h-2zM14 100h6v1h-6zM22 100h2v1h-2zM30 100h2v1h-2zM48 100h4v1h-4zM54 100h2v1h-2zM62 100h6v1h-6zM70 100h2v1h-2zM78 100h6v1h-6zM86 100h2v1h-2zM94 100h2v1h-2zM112 100h4v1h-4zM118 100h2v1h-2zM126 100h2v1h-2zM0 101h2v1h-2zM3 101h1v1h-1zM7 101h1v1h-1zM15 101h3v1h-3zM19 101h1v1h-1zM23 101h1v1h-1zM31 101h1v1h-1zM48 101h2v1h-2zM51 101h1v1h-1zM55 101h1v1h-1zM63 101h3v1h-3zM67 101h1v1h-1zM71 101h1v1h-1zM79 101h3v1h-3zM83 101h1v1h-1zM87 101h1v1h-1zM95 101h1v1h-1zM112 101h2v1h-2zM115 101h1v1h-1zM119 101h1v1h-1zM127 101h1v1h-1zM0 102h2v1h-2zM3 102h3v1h-3zM7 102h1v1h-1zM12 102h2v1h-2zM15 102h3v1h-3zM19 102h3v1h-3zM23 102h1v1h-1zM28 102h2v1h-2zM31 102h1v1h-1zM48 102h2v1h-2zM51 102h3v1h-3zM55 102h1v1h-1zM60 102h2v1h-2zM63 102h3v1h-3zM67 102h3v1h-3zM71 102h1v1h-1zM76 102h2v1h-2zM79 102h3v1h-3zM83 102h3v1h-3zM87 102h1v1h-1zM92 102h2v1h-2zM95 102h1v1h-1zM112 102h2v1h-2zM115 102h3v1h-3zM119 102h1v1h-1zM124 102h2v1h-2zM127 102h1v1h-1zM0 103h8v1h-8zM12 103h12v1h-12zM28 103h4v1h-4zM48 103h8v1h-8zM60 103h12v1h-12zM76 103h12v1h-12zM92 103h4v1h-4zM112 103h8v1h-8zM124 103h4v1h-4zM0 104h8v1h-8zM12 104h4v1h-4zM28 104h4v1h-4zM60 104h12v1h-12zM76 104h4v1h-4zM92 104h4v1h-4zM124 104h4v1h-4zM0 105h2v1h-2zM3 105h3v1h-3zM7 105h1v1h-1zM12 105h2v1h-2zM15 105h1v1h-1zM28 105h2v1h-2zM31 105h1v1h-1zM60 105h2v1h-2zM63 105h3v1h-3zM67 105h3v1h-3zM71 105h1v1h-1zM76 105h2v1h-2zM79 105h1v1h-1zM92 105h2v1h-2zM95 105h1v1h-1zM124 105h2v1h-2zM127 105h1v1h-1zM0 106h2v1h-2zM3 106h1v1h-1zM7 106h1v1h-1zM15 106h1v1h-1zM31 106h1v1h-1zM63 106h3v1h-3zM67 106h1v1h-1zM71 106h1v1h-1zM79 106h1v1h-1zM95 106h1v1h-1zM127 106h1v1h-1zM0 107h4v1h-4zM6 107h2v1h-2zM14 107h2v1h-2zM30 107h2v1h-2zM62 107h6v1h-6zM70 107h2v1h-2zM78 107h2v1h-2zM94 107h2v1h-2zM126 107h2v1h-2zM0 108h4v1h-4zM6 108h6v1h-6zM14 108h2v1h-2zM24 108h4v1h-4zM30 108h2v1h-2zM56 108h4v1h-4zM62 108h6v1h-6zM70 108h6v1h-6zM78 108h2v1h-2zM88 108h4v1h-4zM94 108h2v1h-2zM120 108h4v1h-4zM126 108h2v1h-2zM0 109h2v1h-2zM3 109h1v1h-1zM7 109h3v1h-3zM11 109h1v1h-1zM15 109h1v1h-1zM24 109h2v1h-2zM27 109h1v1h-1zM31 109h1v1h-1zM56 109h2v1h-2zM59 109h1v1h-1zM63 109h3v1h-3zM67 109h1v1h-1zM71 109h3v1h-3zM75 109h1v1h-1zM79 109h1v1h-1zM88 109h2v1h-2zM91 109h1v1h-1zM95 109h1v1h-1zM120 109h2v1h-2zM123 109h1v1h-1zM127 109h1v1h-1zM0 110h2v1h-2zM3 110h3v1h-3zM7 110h3v1h-3zM11 110h3v1h-3zM15 110h1v1h-1zM24 110h2v1h-2zM27 110h3v1h-3zM31 110h1v1h-1zM56 110h2v1h-2zM59 110h3v1h-3zM63 110h3v1h-3zM67 110h3v1h-3zM71 110h3v1h-3zM75 110h3v1h-3zM79 110h1v1h-1zM88 110h2v1h-2zM91 110h3v1h-3zM95 110h1v1h-1zM120 110h2v1h-2zM123 110h3v1h-3zM127 110h1v1h-1zM0 111h16v1h-16zM24 111h8v1h-8zM56 111h24v1h-24zM88 111h8v1h-8zM120 111h8v1h-8zM0 112h16v1h-16zM24 112h24v1h-24zM56 112h24v1h-24zM88 112h24v1h-24zM120 112h8v1h-8zM0 113h2v1h-2zM3 113h3v1h-3zM7 113h3v1h-3zM11 113h3v1h-3zM15 113h1v1h-1zM24 113h2v1h-2zM27 113h3v1h-3zM31 113h3v1h-3zM35 113h3v1h-3zM39 113h3v1h-3zM43 113h3v1h-3zM47 113h1v1h-1zM56 113h2v1h-2zM59 113h3v1h-3zM63 113h3v1h-3zM67 113h3v1h-3zM71 113h3v1h-3zM75 113h3v1h-3zM79 113h1v1h-1zM88 113h2v1h-2zM91 113h3v1h-3zM95 113h3v1h-3zM99 113h3v1h-3zM103 113h3v1h-3zM107 113h3v1h-3zM111 113h1v1h-1zM120 113h2v1h-2zM123 113h3v1h-3zM127 113h1v1h-1zM0 114h2v1h-2zM3 114h1v1h-1zM7 114h3v1h-3zM11 114h1v1h-1zM15 114h1v1h-1zM24 114h2v1h-2zM27 114h1v1h-1zM31 114h3v1h-3zM35 114h1v1h-1zM39 114h3v1h-3zM43 114h1v1h-1zM47 114h1v1h-1zM56 114h2v1h-2zM59 114h1v1h-1zM63 114h3v1h-3zM67 114h1v1h-1zM71 114h3v1h-3zM75 114h1v1h-1zM79 114h1v1h-1zM88 114h2v1h-2zM91 114h1v1h-1zM95 114h3v1h-3zM99 114h1v1h-1zM103 114h3v1h-3zM107 114h1v1h-1zM111 114h1v1h-1zM120 114h2v1h-2zM123 114h1v1h-1zM127 114h1v1h-1zM0 115h4v1h-4zM6 115h6v1h-6zM14 115h2v1h-2zM24 115h4v1h-4zM30 115h6v1h-6zM38 115h6v1h-6zM46 115h2v1h-2zM56 115h4v1h-4zM62 115h6v1h-6zM70 115h6v1h-6zM78 115h2v1h-2zM88 115h4v1h-4zM94 115h6v1h-6zM102 115h6v1h-6zM110 115h2v1h-2zM120 115h4v1h-4zM126 115h2v1h-2zM0 116h4v1h-4zM6 116h2v1h-2zM14 116h2v1h-2zM30 116h6v1h-6zM38 116h2v1h-2zM46 116h2v1h-2zM62 116h6v1h-6zM70 116h2v1h-2zM78 116h2v1h-2zM94 116h6v1h-6zM102 116h2v1h-2zM110 116h2v1h-2zM126 116h2v1h-2zM0 117h2v1h-2zM3 117h1v1h-1zM7 117h1v1h-1zM15 117h1v1h-1zM31 117h3v1h-3zM35 117h1v1h-1zM39 117h1v1h-1zM47 117h1v1h-1zM63 117h3v1h-3zM67 117h1v1h-1zM71 117h1v1h-1zM79 117h1v1h-1zM95 117h3v1h-3zM99 117h1v1h-1zM103 117h1v1h-1zM111 117h1v1h-1zM127 117h1v1h-1zM0 118h2v1h-2zM3 118h3v1h-3zM7 118h1v1h-1zM12 118h2v1h-2zM15 118h1v1h-1zM28 118h2v1h-2zM31 118h3v1h-3zM35 118h3v1h-3zM39 118h1v1h-1zM44 118h2v1h-2zM47 118h1v1h-1zM60 118h2v1h-2zM63 118h3v1h-3zM67 118h3v1h-3zM71 118h1v1h-1zM76 118h2v1h-2zM79 118h1v1h-1zM92 118h2v1h-2zM95 118h3v1h-3zM99 118h3v1h-3zM103 118h1v1h-1zM108 118h2v1h-2zM111 118h1v1h-1zM124 118h2v1h-2zM127 118h1v1h-1zM0 119h8v1h-8zM12 119h4v1h-4zM28 119h12v1h-12zM44 119h4v1h-4zM60 119h12v1h-12zM76 119h4v1h-4zM92 119h12v1h-12zM108 119h4v1h-4zM124 119h4v1h-4zM0 120h8v1h-8zM12 120h12v1h-12zM28 120h12v1h-12zM44 120h12v1h-12zM60 120h12v1h-12zM76 120h12v1h-12zM92 120h12v1h-12zM108 120h12v1h-12zM124 120h4v1h-4zM0 121h2v1h-2zM3 121h3v1h-3zM7 121h1v1h-1zM12 121h2v1h-2zM15 121h3v1h-3zM19 121h3v1h-3zM23 121h1v1h-1zM28 121h2v1h-2zM31 121h3v1h-3zM35 121h3v1h-3zM39 121h1v1h-1zM44 121h2v1h-2zM47 121h3v1h-3zM51 121h3v1h-3zM55 121h1v1h-1zM60 121h2v1h-2zM63 121h3v1h-3zM67 121h3v1h-3zM71 121h1v1h-1zM76 121h2v1h-2zM79 121h3v1h-3zM83 121h3v1h-3zM87 121h1v1h-1zM92 121h2v1h-2zM95 121h3v1h-3zM99 121h3v1h-3zM103 121h1v1h-1zM108 121h2v1h-2zM111 121h3v1h-3zM115 121h3v1h-3zM119 121h1v1h-1zM124 121h2v1h-2zM127 121h1v1h-1zM0 122h2v1h-2zM3 122h1v1h-1zM7 122h1v1h-1zM15 122h3v1h-3zM19 122h1v1h-1zM23 122h1v1h-1zM31 122h3v1h-3zM35 122h1v1h-1zM39 122h1v1h-1zM47 122h3v1h-3zM51 122h1v1h-1zM55 122h1v1h-1zM63 122h3v1h-3zM67 122h1v1h-1zM71 122h1v1h-1zM79 122h3v1h-3zM83 122h1v1h-1zM87 122h1v1h-1zM95 122h3v1h-3zM99 122h1v1h-1zM103 122h1v1h-1zM111 122h3v1h-3zM115 122h1v1h-1zM119 122h1v1h-1zM127 122h1v1h-1zM0 123h4v1h-4zM6 123h2v1h-2zM14 123h6v1h-6zM22 123h2v1h-2zM30 123h6v1h-6zM38 123h2v1h-2zM46 123h6v1h-6zM54 123h2v1h-2zM62 123h6v1h-6zM70 123h2v1h-2zM78 123h6v1h-6zM86 123h2v1h-2zM94 123h6v1h-6zM102 123h2v1h-2zM110 123h6v1h-6zM118 123h2v1h-2zM126 123h2v1h-2zM0 124h4v1h-4zM6 124h6v1h-6zM14 124h6v1h-6zM22 124h6v1h-6zM30 124h6v1h-6zM38 124h6v1h-6zM46 124h6v1h-6zM54 124h6v1h-6zM62 124h6v1h-6zM70 124h6v1h-6zM78 124h6v1h-6zM86 124h6v1h-6zM94 124h6v1h-6zM102 124h6v1h-6zM110 124h6v1h-6zM118 124h6v1h-6zM126 124h2v1h-2zM0 125h2v1h-2zM3 125h1v1h-1zM7 125h3v1h-3zM11 125h1v1h-1zM15 125h3v1h-3zM19 125h1v1h-1zM23 125h3v1h-3zM27 125h1v1h-1zM31 125h3v1h-3zM35 125h1v1h-1zM39 125h3v1h-3zM43 125h1v1h-1zM47 125h3v1h-3zM51 125h1v1h-1zM55 125h3v1h-3zM59 125h1v1h-1zM63 125h3v1h-3zM67 125h1v1h-1zM71 125h3v1h-3zM75 125h1v1h-1zM79 125h3v1h-3zM83 125h1v1h-1zM87 125h3v1h-3zM91 125h1v1h-1zM95 125h3v1h-3zM99 125h1v1h-1zM103 125h3v1h-3zM107 125h1v1h-1zM111 125h3v1h-3zM115 125h1v1h-1zM119 125h3v1h-3zM123 125h1v1h-1zM127 125h1v1h-1zM0 126h2v1h-2zM3 126h3v1h-3zM7 126h3v1h-3zM11 126h3v1h-3zM15 126h3v1h-3zM19 126h3v1h-3zM23 126h3v1h-3zM27 126h3v1h-3zM31 126h3v1h-3zM35 126h3v1h-3zM39 126h3v1h-3zM43 126h3v1h-3zM47 126h3v1h-3zM51 126h3v1h-3zM55 126h3v1h-3zM59 126h3v1h-3zM63 126h3v1h-3zM67 126h3v1h-3zM71 126h3v1h-3zM75 126h3v1h-3zM79 126h3v1h-3zM83 126h3v1h-3zM87 126h3v1h-3zM91 126h3v1h-3zM95 126h3v1h-3zM99 126h3v1h-3zM103 126h3v1h-3zM107 126h3v1h-3zM111 126h3v1h-3zM115 126h3v1h-3zM119 126h3v1h-3zM123 126h3v1h-3zM127 126h1v1h-1zM0 127h128v1h-128z" fill="#3583c5"/>
<text x="136.80" y="426.70" font-size="8.6" text-anchor="middle" font-weight="normal" font-style="normal" fill="#333">MK</text>
<line x1="158.30" y1="422.70" x2="148.00" y2="422.70" stroke="#4a5a7a" stroke-width="0.8"/>
<polygon points="145.20,422.70 148.60,421.00 148.60,424.40" fill="#4a5a7a" stroke="none" stroke-width="0.5"/>
<line x1="158.30" y1="422.70" x2="158.30" y2="433.80" stroke="#4a5a7a" stroke-width="0.8"/>
<polygon points="158.30,436.90 156.60,433.40 160.00,433.40" fill="#4a5a7a" stroke="none" stroke-width="0.5"/>
<text x="158.20" y="447.50" font-size="8.6" text-anchor="middle" font-weight="normal" font-style="normal" fill="#333">RY</text>
<rect x="244.50" y="431.20" width="425.50" height="18.60" fill="#e5e5e5"/>
<rect x="244.50" y="468.40" width="425.50" height="18.60" fill="#e5e5e5"/>
<rect x="244.50" y="505.60" width="425.50" height="18.60" fill="#e5e5e5"/>
<rect x="244.50" y="542.80" width="425.50" height="18.60" fill="#e5e5e5"/>
<rect x="244.90" y="484.92" width="4.38" height="29.98" fill="#5a57a5"/>
<rect x="244.90" y="514.90" width="4.38" height="11.79" fill="#9d2e72"/>
<rect x="249.24" y="502.88" width="4.38" height="12.02" fill="#66bade"/>
<rect x="249.24" y="514.90" width="4.38" height="34.78" fill="#1f7f40"/>
<rect x="253.57" y="485.81" width="4.38" height="29.09" fill="#5a57a5"/>
<rect x="253.57" y="514.90" width="4.38" height="31.51" fill="#9d2e72"/>
<rect x="257.91" y="481.90" width="4.38" height="33.00" fill="#66bade"/>
<rect x="257.91" y="514.90" width="4.38" height="53.08" fill="#1f7f40"/>
<rect x="262.24" y="499.61" width="4.38" height="15.29" fill="#5a57a5"/>
<rect x="262.24" y="514.90" width="4.38" height="33.48" fill="#9d2e72"/>
<rect x="266.57" y="481.90" width="4.38" height="33.00" fill="#66bade"/>
<rect x="266.57" y="514.90" width="4.38" height="32.10" fill="#1f7f40"/>
<rect x="270.91" y="481.90" width="4.38" height="33.00" fill="#5a57a5"/>
<rect x="270.91" y="514.90" width="4.38" height="31.62" fill="#9d2e72"/>
<rect x="275.25" y="462.82" width="4.38" height="52.08" fill="#66bade"/>
<rect x="275.25" y="514.90" width="4.38" height="32.10" fill="#1f7f40"/>
<rect x="279.58" y="468.10" width="4.38" height="46.80" fill="#5a57a5"/>
<rect x="279.58" y="514.90" width="4.38" height="13.09" fill="#9d2e72"/>
<rect x="283.92" y="496.41" width="4.38" height="18.49" fill="#66bade"/>
<rect x="283.92" y="514.90" width="4.38" height="51.08" fill="#1f7f40"/>
<rect x="288.25" y="499.61" width="4.38" height="15.29" fill="#5a57a5"/>
<rect x="288.25" y="514.90" width="4.38" height="32.10" fill="#9d2e72"/>
<rect x="292.59" y="462.22" width="4.38" height="52.68" fill="#66bade"/>
<rect x="292.59" y="514.90" width="4.38" height="30.13" fill="#1f7f40"/>
<rect x="296.92" y="483.91" width="4.38" height="30.99" fill="#5a57a5"/>
<rect x="296.92" y="514.90" width="4.38" height="32.74" fill="#9d2e72"/>
<rect x="301.25" y="480.60" width="4.38" height="34.30" fill="#66bade"/>
<rect x="301.25" y="514.90" width="4.38" height="15.10" fill="#1f7f40"/>
<rect x="305.59" y="499.02" width="4.38" height="15.88" fill="#5a57a5"/>
<rect x="305.59" y="514.90" width="4.38" height="32.74" fill="#9d2e72"/>
<rect x="309.93" y="467.40" width="4.38" height="47.50" fill="#66bade"/>
<rect x="309.93" y="514.90" width="4.38" height="17.11" fill="#1f7f40"/>
<rect x="314.26" y="492.39" width="4.38" height="22.51" fill="#5a57a5"/>
<rect x="314.26" y="514.90" width="4.38" height="30.88" fill="#9d2e72"/>
<rect x="318.60" y="497.71" width="4.38" height="17.19" fill="#66bade"/>
<rect x="318.60" y="514.90" width="4.38" height="31.62" fill="#1f7f40"/>
<rect x="322.93" y="437.23" width="4.38" height="77.67" fill="#5a57a5"/>
<rect x="322.93" y="514.90" width="4.38" height="17.11" fill="#9d2e72"/>
<rect x="327.26" y="483.21" width="4.38" height="31.69" fill="#66bade"/>
<rect x="327.26" y="514.90" width="4.38" height="15.10" fill="#1f7f40"/>
<rect x="331.60" y="481.61" width="4.38" height="33.29" fill="#5a57a5"/>
<rect x="331.60" y="514.90" width="4.38" height="44.45" fill="#9d2e72"/>
<rect x="335.94" y="483.21" width="4.38" height="31.69" fill="#66bade"/>
<rect x="335.94" y="514.90" width="4.38" height="12.39" fill="#1f7f40"/>
<rect x="340.27" y="498.31" width="4.38" height="16.59" fill="#5a57a5"/>
<rect x="340.27" y="514.90" width="4.38" height="32.10" fill="#9d2e72"/>
<rect x="344.61" y="479.71" width="4.38" height="35.19" fill="#66bade"/>
<rect x="344.61" y="514.90" width="4.38" height="13.09" fill="#1f7f40"/>
<rect x="348.94" y="494.40" width="4.38" height="20.50" fill="#5a57a5"/>
<rect x="348.94" y="514.90" width="4.38" height="43.30" fill="#9d2e72"/>
<rect x="353.27" y="457.61" width="4.38" height="57.29" fill="#66bade"/>
<rect x="353.27" y="514.90" width="4.38" height="13.69" fill="#1f7f40"/>
<rect x="357.61" y="472.72" width="4.38" height="42.18" fill="#5a57a5"/>
<rect x="357.61" y="514.90" width="4.38" height="42.71" fill="#9d2e72"/>
<rect x="361.94" y="485.21" width="4.38" height="29.69" fill="#66bade"/>
<rect x="361.94" y="514.90" width="4.38" height="15.10" fill="#1f7f40"/>
<rect x="366.28" y="481.90" width="4.38" height="33.00" fill="#5a57a5"/>
<rect x="366.28" y="514.90" width="4.38" height="41.29" fill="#9d2e72"/>
<rect x="370.62" y="494.40" width="4.38" height="20.50" fill="#66bade"/>
<rect x="370.62" y="514.90" width="4.38" height="24.89" fill="#1f7f40"/>
<rect x="374.95" y="482.61" width="4.38" height="32.29" fill="#5a57a5"/>
<rect x="374.95" y="514.90" width="4.38" height="32.10" fill="#9d2e72"/>
<rect x="379.28" y="483.61" width="4.38" height="31.29" fill="#66bade"/>
<rect x="379.28" y="514.90" width="4.38" height="17.00" fill="#1f7f40"/>
<rect x="383.62" y="477.29" width="4.38" height="37.61" fill="#5a57a5"/>
<rect x="383.62" y="514.90" width="4.38" height="32.10" fill="#9d2e72"/>
<rect x="387.96" y="470.11" width="4.38" height="44.79" fill="#66bade"/>
<rect x="387.96" y="514.90" width="4.38" height="25.59" fill="#1f7f40"/>
<rect x="392.29" y="494.40" width="4.38" height="20.50" fill="#5a57a5"/>
<rect x="392.29" y="514.90" width="4.38" height="42.71" fill="#9d2e72"/>
<rect x="396.62" y="463.53" width="4.38" height="51.37" fill="#66bade"/>
<rect x="396.62" y="514.90" width="4.38" height="28.20" fill="#1f7f40"/>
<rect x="400.96" y="497.71" width="4.38" height="17.19" fill="#5a57a5"/>
<rect x="400.96" y="514.90" width="4.38" height="42.71" fill="#9d2e72"/>
<rect x="405.30" y="489.79" width="4.38" height="25.11" fill="#66bade"/>
<rect x="405.30" y="514.90" width="4.38" height="29.50" fill="#1f7f40"/>
<rect x="409.63" y="499.61" width="4.38" height="15.29" fill="#5a57a5"/>
<rect x="409.63" y="514.90" width="4.38" height="34.78" fill="#9d2e72"/>
<rect x="413.97" y="484.51" width="4.38" height="30.39" fill="#66bade"/>
<rect x="413.97" y="514.90" width="4.38" height="32.36" fill="#1f7f40"/>
<rect x="418.30" y="498.31" width="4.38" height="16.59" fill="#5a57a5"/>
<rect x="418.30" y="514.90" width="4.38" height="40.70" fill="#9d2e72"/>
<rect x="422.63" y="485.81" width="4.38" height="29.09" fill="#66bade"/>
<rect x="422.63" y="514.90" width="4.38" height="18.30" fill="#1f7f40"/>
<rect x="426.97" y="494.40" width="4.38" height="20.50" fill="#5a57a5"/>
<rect x="426.97" y="514.90" width="4.38" height="36.72" fill="#9d2e72"/>
<rect x="431.31" y="483.21" width="4.38" height="31.69" fill="#66bade"/>
<rect x="431.31" y="514.90" width="4.38" height="20.31" fill="#1f7f40"/>
<rect x="435.64" y="482.61" width="4.38" height="32.29" fill="#5a57a5"/>
<rect x="435.64" y="514.90" width="4.38" height="20.98" fill="#9d2e72"/>
<rect x="439.98" y="477.29" width="4.38" height="37.61" fill="#66bade"/>
<rect x="439.98" y="514.90" width="4.38" height="32.81" fill="#1f7f40"/>
<rect x="444.31" y="490.39" width="4.38" height="24.51" fill="#5a57a5"/>
<rect x="444.31" y="514.90" width="4.38" height="19.01" fill="#9d2e72"/>
<rect x="448.64" y="463.90" width="4.38" height="51.00" fill="#66bade"/>
<rect x="448.64" y="514.90" width="4.38" height="21.61" fill="#1f7f40"/>
<rect x="452.98" y="495.70" width="4.38" height="19.20" fill="#5a57a5"/>
<rect x="452.98" y="514.90" width="4.38" height="24.89" fill="#9d2e72"/>
<rect x="457.31" y="471.41" width="4.38" height="43.49" fill="#66bade"/>
<rect x="457.31" y="514.90" width="4.38" height="25.59" fill="#1f7f40"/>
<rect x="461.65" y="490.39" width="4.38" height="24.51" fill="#5a57a5"/>
<rect x="461.65" y="514.90" width="4.38" height="19.72" fill="#9d2e72"/>
<rect x="465.99" y="483.21" width="4.38" height="31.69" fill="#66bade"/>
<rect x="465.99" y="514.90" width="4.38" height="22.28" fill="#1f7f40"/>
<rect x="470.32" y="486.52" width="4.38" height="28.38" fill="#5a57a5"/>
<rect x="470.32" y="514.90" width="4.38" height="24.29" fill="#9d2e72"/>
<rect x="474.65" y="492.39" width="4.38" height="22.51" fill="#66bade"/>
<rect x="474.65" y="514.90" width="4.38" height="35.38" fill="#1f7f40"/>
<rect x="478.99" y="481.90" width="4.38" height="33.00" fill="#5a57a5"/>
<rect x="478.99" y="514.90" width="4.38" height="21.61" fill="#9d2e72"/>
<rect x="483.33" y="494.40" width="4.38" height="20.50" fill="#66bade"/>
<rect x="483.33" y="514.90" width="4.38" height="32.81" fill="#1f7f40"/>
<rect x="487.66" y="483.21" width="4.38" height="31.69" fill="#5a57a5"/>
<rect x="487.66" y="514.90" width="4.38" height="34.11" fill="#9d2e72"/>
<rect x="492.00" y="490.39" width="4.38" height="24.51" fill="#66bade"/>
<rect x="492.00" y="514.90" width="4.38" height="39.39" fill="#1f7f40"/>
<rect x="496.33" y="479.89" width="4.38" height="35.01" fill="#5a57a5"/>
<rect x="496.33" y="514.90" width="4.38" height="46.57" fill="#9d2e72"/>
<rect x="500.66" y="480.60" width="4.38" height="34.30" fill="#66bade"/>
<rect x="500.66" y="514.90" width="4.38" height="51.71" fill="#1f7f40"/>
<rect x="505.00" y="489.79" width="4.38" height="25.11" fill="#5a57a5"/>
<rect x="505.00" y="514.90" width="4.38" height="35.38" fill="#9d2e72"/>
<rect x="509.34" y="487.19" width="4.38" height="27.71" fill="#66bade"/>
<rect x="509.34" y="514.90" width="4.38" height="28.90" fill="#1f7f40"/>
<rect x="513.67" y="495.70" width="4.38" height="19.20" fill="#5a57a5"/>
<rect x="513.67" y="514.90" width="4.38" height="27.49" fill="#9d2e72"/>
<rect x="518.00" y="489.79" width="4.38" height="25.11" fill="#66bade"/>
<rect x="518.00" y="514.90" width="4.38" height="30.80" fill="#1f7f40"/>
<rect x="522.34" y="495.00" width="4.38" height="19.90" fill="#5a57a5"/>
<rect x="522.34" y="514.90" width="4.38" height="24.89" fill="#9d2e72"/>
<rect x="526.67" y="481.01" width="4.38" height="33.89" fill="#66bade"/>
<rect x="526.67" y="514.90" width="4.38" height="34.78" fill="#1f7f40"/>
<rect x="531.01" y="497.71" width="4.38" height="17.19" fill="#5a57a5"/>
<rect x="531.01" y="514.90" width="4.38" height="30.80" fill="#9d2e72"/>
<rect x="535.35" y="465.50" width="4.38" height="49.40" fill="#66bade"/>
<rect x="535.35" y="514.90" width="4.38" height="38.09" fill="#1f7f40"/>
<rect x="539.68" y="496.41" width="4.38" height="18.49" fill="#5a57a5"/>
<rect x="539.68" y="514.90" width="4.38" height="28.20" fill="#9d2e72"/>
<rect x="544.01" y="475.99" width="4.38" height="38.91" fill="#66bade"/>
<rect x="544.01" y="514.90" width="4.38" height="32.10" fill="#1f7f40"/>
<rect x="548.35" y="493.70" width="4.38" height="21.20" fill="#5a57a5"/>
<rect x="548.35" y="514.90" width="4.38" height="28.90" fill="#9d2e72"/>
<rect x="552.69" y="476.62" width="4.38" height="38.28" fill="#66bade"/>
<rect x="552.69" y="514.90" width="4.38" height="37.39" fill="#1f7f40"/>
<rect x="557.02" y="492.39" width="4.38" height="22.51" fill="#5a57a5"/>
<rect x="557.02" y="514.90" width="4.38" height="30.80" fill="#9d2e72"/>
<rect x="561.36" y="485.21" width="4.38" height="29.69" fill="#66bade"/>
<rect x="561.36" y="514.90" width="4.38" height="28.20" fill="#1f7f40"/>
<rect x="565.69" y="487.82" width="4.38" height="27.08" fill="#5a57a5"/>
<rect x="565.69" y="514.90" width="4.38" height="34.11" fill="#9d2e72"/>
<rect x="570.02" y="484.51" width="4.38" height="30.39" fill="#66bade"/>
<rect x="570.02" y="514.90" width="4.38" height="22.92" fill="#1f7f40"/>
<rect x="574.36" y="485.21" width="4.38" height="29.69" fill="#5a57a5"/>
<rect x="574.36" y="514.90" width="4.38" height="38.69" fill="#9d2e72"/>
<rect x="578.70" y="483.91" width="4.38" height="30.99" fill="#66bade"/>
<rect x="578.70" y="514.90" width="4.38" height="22.92" fill="#1f7f40"/>
<rect x="583.03" y="495.70" width="4.38" height="19.20" fill="#5a57a5"/>
<rect x="583.03" y="514.90" width="4.38" height="31.17" fill="#9d2e72"/>
<rect x="587.37" y="483.21" width="4.38" height="31.69" fill="#66bade"/>
<rect x="587.37" y="514.90" width="4.38" height="22.28" fill="#1f7f40"/>
<rect x="591.70" y="495.70" width="4.38" height="19.20" fill="#5a57a5"/>
<rect x="591.70" y="514.90" width="4.38" height="30.21" fill="#9d2e72"/>
<rect x="596.03" y="489.79" width="4.38" height="25.11" fill="#66bade"/>
<rect x="596.03" y="514.90" width="4.38" height="24.89" fill="#1f7f40"/>
<rect x="600.37" y="494.40" width="4.38" height="20.50" fill="#5a57a5"/>
<rect x="600.37" y="514.90" width="4.38" height="23.58" fill="#9d2e72"/>
<rect x="604.71" y="491.09" width="4.38" height="23.81" fill="#66bade"/>
<rect x="604.71" y="514.90" width="4.38" height="26.19" fill="#1f7f40"/>
<rect x="609.04" y="495.70" width="4.38" height="19.20" fill="#5a57a5"/>
<rect x="609.04" y="514.90" width="4.38" height="20.31" fill="#9d2e72"/>
<rect x="613.38" y="488.49" width="4.38" height="26.41" fill="#66bade"/>
<rect x="613.38" y="514.90" width="4.38" height="26.19" fill="#1f7f40"/>
<rect x="617.71" y="497.01" width="4.38" height="17.89" fill="#5a57a5"/>
<rect x="617.71" y="514.90" width="4.38" height="21.61" fill="#9d2e72"/>
<rect x="622.04" y="487.19" width="4.38" height="27.71" fill="#66bade"/>
<rect x="622.04" y="514.90" width="4.38" height="22.92" fill="#1f7f40"/>
<rect x="626.38" y="498.31" width="4.38" height="16.59" fill="#5a57a5"/>
<rect x="626.38" y="514.90" width="4.38" height="22.28" fill="#9d2e72"/>
<rect x="630.72" y="485.21" width="4.38" height="29.69" fill="#66bade"/>
<rect x="630.72" y="514.90" width="4.38" height="22.92" fill="#1f7f40"/>
<rect x="635.05" y="498.31" width="4.38" height="16.59" fill="#5a57a5"/>
<rect x="635.05" y="514.90" width="4.38" height="22.28" fill="#9d2e72"/>
<rect x="639.38" y="485.21" width="4.38" height="29.69" fill="#66bade"/>
<rect x="639.38" y="514.90" width="4.38" height="21.61" fill="#1f7f40"/>
<rect x="643.72" y="499.02" width="4.38" height="15.88" fill="#5a57a5"/>
<rect x="643.72" y="514.90" width="4.38" height="24.29" fill="#9d2e72"/>
<rect x="648.05" y="489.12" width="4.38" height="25.78" fill="#66bade"/>
<rect x="648.05" y="514.90" width="4.38" height="22.92" fill="#1f7f40"/>
<rect x="652.39" y="499.02" width="4.38" height="15.88" fill="#5a57a5"/>
<rect x="652.39" y="514.90" width="4.38" height="24.89" fill="#9d2e72"/>
<rect x="656.73" y="491.09" width="4.38" height="23.81" fill="#66bade"/>
<rect x="656.73" y="514.90" width="4.38" height="23.58" fill="#1f7f40"/>
<rect x="661.06" y="497.71" width="4.38" height="17.19" fill="#5a57a5"/>
<rect x="661.06" y="514.90" width="4.38" height="24.89" fill="#9d2e72"/>
<rect x="665.39" y="493.10" width="4.38" height="21.80" fill="#66bade"/>
<rect x="665.39" y="514.90" width="4.38" height="21.61" fill="#1f7f40"/>
<path d="M244.30,483.22L248.84,486.42M244.30,528.39L248.84,525.19M248.64,501.18L253.17,504.38M248.64,551.38L253.17,548.18M252.97,484.11L257.50,487.31M252.97,548.11L257.50,544.91M257.31,480.20L261.84,483.40M257.31,569.68L261.84,566.48M261.64,497.91L266.18,501.11M261.64,550.08L266.18,546.88M265.97,480.20L270.51,483.40M265.97,548.70L270.51,545.50M270.31,480.20L274.85,483.40M270.31,548.22L274.85,545.02M274.64,461.12L279.18,464.32M274.64,548.70L279.18,545.50M278.98,466.40L283.51,469.60M278.98,529.69L283.51,526.49M283.31,494.71L287.85,497.91M283.31,567.68L287.85,564.48M287.65,497.91L292.19,501.11M287.65,548.70L292.19,545.50M291.99,460.52L296.52,463.72M291.99,546.73L296.52,543.53M296.32,482.21L300.86,485.41M296.32,549.34L300.86,546.14M300.65,478.90L305.19,482.10M300.65,531.70L305.19,528.50M304.99,497.32L309.53,500.52M304.99,549.34L309.53,546.14M309.32,465.70L313.86,468.90M309.32,533.71L313.86,530.51M313.66,490.69L318.19,493.89M313.66,547.48L318.19,544.28M318.00,496.01L322.53,499.21M318.00,548.22L322.53,545.02M322.33,435.53L326.87,438.73M322.33,533.71L326.87,530.51M326.66,481.51L331.20,484.71M326.66,531.70L331.20,528.50M331.00,479.91L335.54,483.11M331.00,561.05L335.54,557.85M335.33,481.51L339.87,484.71M335.33,528.99L339.87,525.79M339.67,496.61L344.20,499.81M339.67,548.70L344.20,545.50M344.00,478.01L348.54,481.21M344.00,529.69L348.54,526.49M348.34,492.70L352.88,495.90M348.34,559.90L352.88,556.70M352.67,455.91L357.21,459.11M352.67,530.29L357.21,527.09M357.01,471.02L361.55,474.22M357.01,559.31L361.55,556.11M361.34,483.51L365.88,486.71M361.34,531.70L365.88,528.50M365.68,480.20L370.21,483.40M365.68,557.89L370.21,554.69M370.01,492.70L374.55,495.90M370.01,541.49L374.55,538.29M374.35,480.91L378.89,484.11M374.35,548.70L378.89,545.50M378.68,481.91L383.22,485.11M378.68,533.60L383.22,530.40M383.02,475.59L387.56,478.79M383.02,548.70L387.56,545.50M387.36,468.41L391.89,471.61M387.36,542.19L391.89,538.99M391.69,492.70L396.22,495.90M391.69,559.31L396.22,556.11M396.02,461.83L400.56,465.03M396.02,544.80L400.56,541.60M400.36,496.01L404.90,499.21M400.36,559.31L404.90,556.11M404.69,488.09L409.23,491.29M404.69,546.10L409.23,542.90M409.03,497.91L413.56,501.11M409.03,551.38L413.56,548.18M413.37,482.81L417.90,486.01M413.37,548.96L417.90,545.76M417.70,496.61L422.24,499.81M417.70,557.30L422.24,554.10M422.03,484.11L426.57,487.31M422.03,534.90L426.57,531.70M426.37,492.70L430.91,495.90M426.37,553.32L430.91,550.12M430.70,481.51L435.24,484.71M430.70,536.91L435.24,533.71M435.04,480.91L439.57,484.11M435.04,537.58L439.57,534.38M439.38,475.59L443.91,478.79M439.38,549.41L443.91,546.21M443.71,488.69L448.25,491.89M443.71,535.61L448.25,532.41M448.04,462.20L452.58,465.40M448.04,538.21L452.58,535.01M452.38,494.00L456.92,497.20M452.38,541.49L456.92,538.29M456.71,469.71L461.25,472.91M456.71,542.19L461.25,538.99M461.05,488.69L465.58,491.89M461.05,536.32L465.58,533.12M465.38,481.51L469.92,484.71M465.38,538.88L469.92,535.68M469.72,484.82L474.25,488.02M469.72,540.89L474.25,537.69M474.05,490.69L478.59,493.89M474.05,551.98L478.59,548.78M478.39,480.20L482.93,483.40M478.39,538.21L482.93,535.01M482.73,492.70L487.26,495.90M482.73,549.41L487.26,546.21M487.06,481.51L491.59,484.71M487.06,550.71L491.59,547.51M491.39,488.69L495.93,491.89M491.39,555.99L495.93,552.79M495.73,478.19L500.27,481.39M495.73,563.17L500.27,559.97M500.06,478.90L504.60,482.10M500.06,568.31L504.60,565.11M504.40,488.09L508.94,491.29M504.40,551.98L508.94,548.78M508.74,485.49L513.27,488.69M508.74,545.50L513.27,542.30M513.07,494.00L517.61,497.20M513.07,544.09L517.61,540.89M517.40,488.09L521.94,491.29M517.40,547.40L521.94,544.20M521.74,493.30L526.28,496.50M521.74,541.49L526.28,538.29M526.07,479.31L530.61,482.51M526.07,551.38L530.61,548.18M530.41,496.01L534.95,499.21M530.41,547.40L534.95,544.20M534.75,463.80L539.28,467.00M534.75,554.69L539.28,551.49M539.08,494.71L543.62,497.91M539.08,544.80L543.62,541.60M543.41,474.29L547.95,477.49M543.41,548.70L547.95,545.50M547.75,492.00L552.29,495.20M547.75,545.50L552.29,542.30M552.09,474.92L556.62,478.12M552.09,553.99L556.62,550.79M556.42,490.69L560.96,493.89M556.42,547.40L560.96,544.20M560.75,483.51L565.29,486.71M560.75,544.80L565.29,541.60M565.09,486.12L569.63,489.32M565.09,550.71L569.63,547.51M569.42,482.81L573.96,486.01M569.42,539.52L573.96,536.32M573.76,483.51L578.30,486.71M573.76,555.29L578.30,552.09M578.10,482.21L582.63,485.41M578.10,539.52L582.63,536.32M582.43,494.00L586.97,497.20M582.43,547.77L586.97,544.57M586.76,481.51L591.30,484.71M586.76,538.88L591.30,535.68M591.10,494.00L595.64,497.20M591.10,546.81L595.64,543.61M595.43,488.09L599.97,491.29M595.43,541.49L599.97,538.29M599.77,492.70L604.31,495.90M599.77,540.18L604.31,536.98M604.11,489.39L608.64,492.59M604.11,542.79L608.64,539.59M608.44,494.00L612.98,497.20M608.44,536.91L612.98,533.71M612.77,486.79L617.31,489.99M612.77,542.79L617.31,539.59M617.11,495.31L621.65,498.51M617.11,538.21L621.65,535.01M621.44,485.49L625.98,488.69M621.44,539.52L625.98,536.32M625.78,496.61L630.32,499.81M625.78,538.88L630.32,535.68M630.12,483.51L634.65,486.71M630.12,539.52L634.65,536.32M634.45,496.61L638.99,499.81M634.45,538.88L638.99,535.68M638.78,483.51L643.32,486.71M638.78,538.21L643.32,535.01M643.12,497.32L647.66,500.52M643.12,540.89L647.66,537.69M647.45,487.42L651.99,490.62M647.45,539.52L651.99,536.32M651.79,497.32L656.33,500.52M651.79,541.49L656.33,538.29M656.12,489.39L660.66,492.59M656.12,540.18L660.66,536.98M660.46,496.01L665.00,499.21M660.46,541.49L665.00,538.29M664.79,491.40L669.33,494.60M664.79,538.21L669.33,535.01" stroke="#000" stroke-width="1.55" stroke-linecap="round" stroke-dasharray="0.7,0.9" fill="none"/>
<rect x="244.5" y="421.9" width="425.5" height="148.89999999999998" fill="none" stroke="#666" stroke-width="0.9"/>
<text x="241.00" y="424.50" font-size="7.7" text-anchor="end" font-weight="normal" font-style="normal" fill="#333">2,500</text>
<text x="241.00" y="443.10" font-size="7.7" text-anchor="end" font-weight="normal" font-style="normal" fill="#333">2,000</text>
<text x="241.00" y="461.70" font-size="7.7" text-anchor="end" font-weight="normal" font-style="normal" fill="#333">1,500</text>
<text x="241.00" y="480.30" font-size="7.7" text-anchor="end" font-weight="normal" font-style="normal" fill="#333">1,000</text>
<text x="241.00" y="498.90" font-size="7.7" text-anchor="end" font-weight="normal" font-style="normal" fill="#333">500</text>
<text x="241.00" y="517.50" font-size="7.7" text-anchor="end" font-weight="normal" font-style="normal" fill="#333">0</text>
<text x="241.00" y="536.10" font-size="7.7" text-anchor="end" font-weight="normal" font-style="normal" fill="#333">500</text>
<text x="241.00" y="554.70" font-size="7.7" text-anchor="end" font-weight="normal" font-style="normal" fill="#333">1,000</text>
<text x="241.00" y="573.30" font-size="7.7" text-anchor="end" font-weight="normal" font-style="normal" fill="#333">1,500</text>
<text x="213.90" y="496.60" font-size="8.9" text-anchor="middle" font-weight="normal" font-style="normal" fill="#333" transform="rotate(-90 213.9 496.6)">Fluorescence intensity</text>
<text x="449.2" y="417.8" font-size="8.6" fill="#333"><tspan font-style="italic">n</tspan> = 3</text>
<rect x="244.50" y="586.95" width="425.50" height="13.50" fill="#e5e5e5"/>
<rect x="244.50" y="613.95" width="425.50" height="13.50" fill="#e5e5e5"/>
<rect x="244.50" y="640.95" width="425.50" height="13.50" fill="#e5e5e5"/>
<rect x="244.50" y="667.95" width="425.50" height="13.50" fill="#e5e5e5"/>
<rect x="244.50" y="694.95" width="425.50" height="13.50" fill="#e5e5e5"/>
<rect x="244.50" y="721.95" width="425.50" height="6.75" fill="#e5e5e5"/>
<rect x="245.10" y="635.15" width="3.90" height="12.55" fill="#5a57a5"/>
<rect x="249.44" y="647.70" width="3.90" height="13.63" fill="#1f7f40"/>
<rect x="253.77" y="635.96" width="3.90" height="11.75" fill="#5a57a5"/>
<rect x="253.77" y="647.70" width="3.90" height="11.48" fill="#9d2e72"/>
<rect x="258.11" y="636.36" width="3.90" height="11.34" fill="#66bade"/>
<rect x="258.11" y="647.70" width="3.90" height="28.89" fill="#1f7f40"/>
<rect x="262.44" y="647.70" width="3.90" height="13.63" fill="#9d2e72"/>
<rect x="266.77" y="635.96" width="3.90" height="11.75" fill="#66bade"/>
<rect x="266.77" y="647.70" width="3.90" height="11.88" fill="#1f7f40"/>
<rect x="271.11" y="634.07" width="3.90" height="13.63" fill="#5a57a5"/>
<rect x="271.11" y="647.70" width="3.90" height="12.96" fill="#9d2e72"/>
<rect x="275.44" y="620.70" width="3.90" height="27.00" fill="#66bade"/>
<rect x="275.44" y="647.70" width="3.90" height="12.55" fill="#1f7f40"/>
<rect x="279.78" y="621.11" width="3.90" height="26.60" fill="#5a57a5"/>
<rect x="284.12" y="647.70" width="3.90" height="28.89" fill="#1f7f40"/>
<rect x="288.45" y="647.70" width="3.90" height="13.90" fill="#9d2e72"/>
<rect x="292.79" y="618.00" width="3.90" height="29.70" fill="#66bade"/>
<rect x="292.79" y="647.70" width="3.90" height="11.48" fill="#1f7f40"/>
<rect x="297.12" y="632.99" width="3.90" height="14.72" fill="#5a57a5"/>
<rect x="297.12" y="647.70" width="3.90" height="14.04" fill="#9d2e72"/>
<rect x="301.45" y="635.55" width="3.90" height="12.15" fill="#66bade"/>
<rect x="305.79" y="647.70" width="3.90" height="14.45" fill="#9d2e72"/>
<rect x="310.12" y="618.95" width="3.90" height="28.75" fill="#66bade"/>
<rect x="314.46" y="647.70" width="3.90" height="13.63" fill="#9d2e72"/>
<rect x="318.80" y="647.70" width="3.90" height="16.20" fill="#1f7f40"/>
<rect x="323.13" y="586.95" width="3.90" height="60.75" fill="#5a57a5"/>
<rect x="327.46" y="633.80" width="3.90" height="13.90" fill="#66bade"/>
<rect x="331.80" y="635.69" width="3.90" height="12.01" fill="#5a57a5"/>
<rect x="331.80" y="647.70" width="3.90" height="29.97" fill="#9d2e72"/>
<rect x="336.13" y="634.07" width="3.90" height="13.63" fill="#66bade"/>
<rect x="340.47" y="647.70" width="3.90" height="10.53" fill="#9d2e72"/>
<rect x="344.81" y="635.96" width="3.90" height="11.75" fill="#66bade"/>
<rect x="349.14" y="647.70" width="3.90" height="27.40" fill="#9d2e72"/>
<rect x="353.47" y="603.29" width="3.90" height="44.41" fill="#66bade"/>
<rect x="357.81" y="619.22" width="3.90" height="28.49" fill="#5a57a5"/>
<rect x="357.81" y="647.70" width="3.90" height="23.09" fill="#9d2e72"/>
<rect x="362.14" y="637.44" width="3.90" height="10.26" fill="#66bade"/>
<rect x="366.48" y="632.99" width="3.90" height="14.72" fill="#5a57a5"/>
<rect x="366.48" y="647.70" width="3.90" height="25.78" fill="#9d2e72"/>
<rect x="370.81" y="647.70" width="3.90" height="12.96" fill="#1f7f40"/>
<rect x="375.15" y="634.88" width="3.90" height="12.83" fill="#5a57a5"/>
<rect x="375.15" y="647.70" width="3.90" height="14.45" fill="#9d2e72"/>
<rect x="379.48" y="635.15" width="3.90" height="12.55" fill="#66bade"/>
<rect x="383.82" y="619.89" width="3.90" height="27.81" fill="#5a57a5"/>
<rect x="383.82" y="647.70" width="3.90" height="12.96" fill="#9d2e72"/>
<rect x="388.16" y="622.19" width="3.90" height="25.51" fill="#66bade"/>
<rect x="388.16" y="647.70" width="3.90" height="11.48" fill="#1f7f40"/>
<rect x="392.49" y="646.08" width="3.90" height="1.62" fill="#5a57a5"/>
<rect x="392.49" y="647.70" width="3.90" height="27.40" fill="#9d2e72"/>
<rect x="396.82" y="605.04" width="3.90" height="42.66" fill="#66bade"/>
<rect x="396.82" y="647.70" width="3.90" height="11.48" fill="#1f7f40"/>
<rect x="401.16" y="643.92" width="3.90" height="3.78" fill="#5a57a5"/>
<rect x="401.16" y="647.70" width="3.90" height="27.40" fill="#9d2e72"/>
<rect x="405.50" y="647.70" width="3.90" height="10.80" fill="#1f7f40"/>
<rect x="409.83" y="647.70" width="3.90" height="13.63" fill="#9d2e72"/>
<rect x="414.17" y="631.63" width="3.90" height="16.07" fill="#66bade"/>
<rect x="414.17" y="647.70" width="3.90" height="26.46" fill="#1f7f40"/>
<rect x="418.50" y="647.70" width="3.90" height="26.73" fill="#9d2e72"/>
<rect x="422.83" y="635.15" width="3.90" height="12.55" fill="#66bade"/>
<rect x="427.17" y="647.70" width="3.90" height="28.89" fill="#9d2e72"/>
<rect x="431.50" y="633.80" width="3.90" height="13.90" fill="#66bade"/>
<rect x="435.84" y="621.11" width="3.90" height="26.60" fill="#5a57a5"/>
<rect x="440.18" y="634.47" width="3.90" height="13.23" fill="#66bade"/>
<rect x="440.18" y="647.70" width="3.90" height="31.86" fill="#1f7f40"/>
<rect x="444.51" y="636.90" width="3.90" height="10.80" fill="#5a57a5"/>
<rect x="448.84" y="604.37" width="3.90" height="43.34" fill="#66bade"/>
<rect x="453.18" y="647.70" width="3.90" height="16.34" fill="#9d2e72"/>
<rect x="457.51" y="619.22" width="3.90" height="28.49" fill="#66bade"/>
<rect x="457.51" y="647.70" width="3.90" height="19.17" fill="#1f7f40"/>
<rect x="461.85" y="634.88" width="3.90" height="12.83" fill="#5a57a5"/>
<rect x="466.19" y="631.63" width="3.90" height="16.07" fill="#66bade"/>
<rect x="470.52" y="632.99" width="3.90" height="14.72" fill="#5a57a5"/>
<rect x="470.52" y="647.70" width="3.90" height="17.28" fill="#9d2e72"/>
<rect x="474.85" y="647.70" width="3.90" height="33.35" fill="#1f7f40"/>
<rect x="479.19" y="622.59" width="3.90" height="25.11" fill="#5a57a5"/>
<rect x="483.53" y="644.60" width="3.90" height="3.11" fill="#66bade"/>
<rect x="483.53" y="647.70" width="3.90" height="13.63" fill="#1f7f40"/>
<rect x="487.86" y="634.88" width="3.90" height="12.83" fill="#5a57a5"/>
<rect x="487.86" y="647.70" width="3.90" height="13.90" fill="#9d2e72"/>
<rect x="492.19" y="647.70" width="3.90" height="10.80" fill="#1f7f40"/>
<rect x="496.53" y="621.38" width="3.90" height="26.33" fill="#5a57a5"/>
<rect x="496.53" y="647.70" width="3.90" height="51.16" fill="#9d2e72"/>
<rect x="500.86" y="617.46" width="3.90" height="30.24" fill="#66bade"/>
<rect x="500.86" y="647.70" width="3.90" height="72.50" fill="#1f7f40"/>
<rect x="505.20" y="636.36" width="3.90" height="11.34" fill="#5a57a5"/>
<rect x="505.20" y="647.70" width="3.90" height="21.60" fill="#9d2e72"/>
<rect x="509.54" y="636.90" width="3.90" height="10.80" fill="#66bade"/>
<rect x="513.87" y="646.35" width="3.90" height="1.35" fill="#5a57a5"/>
<rect x="513.87" y="647.70" width="3.90" height="13.63" fill="#9d2e72"/>
<rect x="518.21" y="643.92" width="3.90" height="3.78" fill="#66bade"/>
<rect x="518.21" y="647.70" width="3.90" height="20.92" fill="#1f7f40"/>
<rect x="522.54" y="634.88" width="3.90" height="12.83" fill="#5a57a5"/>
<rect x="526.88" y="645.00" width="3.90" height="2.70" fill="#66bade"/>
<rect x="526.88" y="647.70" width="3.90" height="13.63" fill="#1f7f40"/>
<rect x="531.21" y="646.35" width="3.90" height="1.35" fill="#5a57a5"/>
<rect x="531.21" y="647.70" width="3.90" height="27.67" fill="#9d2e72"/>
<rect x="535.55" y="583.58" width="3.90" height="64.12" fill="#66bade"/>
<rect x="535.55" y="647.70" width="3.90" height="42.39" fill="#1f7f40"/>
<rect x="539.88" y="645.68" width="3.90" height="2.02" fill="#5a57a5"/>
<rect x="539.88" y="647.70" width="3.90" height="10.80" fill="#9d2e72"/>
<rect x="544.22" y="640.95" width="3.90" height="6.75" fill="#66bade"/>
<rect x="548.55" y="634.07" width="3.90" height="13.63" fill="#5a57a5"/>
<rect x="548.55" y="647.70" width="3.90" height="15.12" fill="#9d2e72"/>
<rect x="552.89" y="605.45" width="3.90" height="42.25" fill="#66bade"/>
<rect x="552.89" y="647.70" width="3.90" height="44.96" fill="#1f7f40"/>
<rect x="557.22" y="643.25" width="3.90" height="4.46" fill="#5a57a5"/>
<rect x="557.22" y="647.70" width="3.90" height="18.76" fill="#9d2e72"/>
<rect x="561.56" y="645.00" width="3.90" height="2.70" fill="#66bade"/>
<rect x="561.56" y="647.70" width="3.90" height="14.31" fill="#1f7f40"/>
<rect x="565.89" y="634.88" width="3.90" height="12.83" fill="#5a57a5"/>
<rect x="565.89" y="647.70" width="3.90" height="12.15" fill="#9d2e72"/>
<rect x="570.23" y="629.07" width="3.90" height="18.63" fill="#66bade"/>
<rect x="570.23" y="647.70" width="3.90" height="4.18" fill="#1f7f40"/>
<rect x="574.56" y="613.14" width="3.90" height="34.56" fill="#5a57a5"/>
<rect x="574.56" y="647.70" width="3.90" height="50.76" fill="#9d2e72"/>
<rect x="578.90" y="634.07" width="3.90" height="13.63" fill="#66bade"/>
<rect x="578.90" y="647.70" width="3.90" height="14.31" fill="#1f7f40"/>
<rect x="583.23" y="647.70" width="3.90" height="5.00" fill="#9d2e72"/>
<rect x="587.57" y="611.93" width="3.90" height="35.77" fill="#66bade"/>
<rect x="591.90" y="639.60" width="3.90" height="8.10" fill="#5a57a5"/>
<rect x="591.90" y="647.70" width="3.90" height="28.22" fill="#9d2e72"/>
<rect x="596.24" y="645.00" width="3.90" height="2.70" fill="#66bade"/>
<rect x="596.24" y="647.70" width="3.90" height="16.34" fill="#1f7f40"/>
<rect x="600.57" y="636.36" width="3.90" height="11.34" fill="#5a57a5"/>
<rect x="600.57" y="647.70" width="3.90" height="11.48" fill="#9d2e72"/>
<rect x="604.91" y="640.68" width="3.90" height="7.02" fill="#66bade"/>
<rect x="604.91" y="647.70" width="3.90" height="12.96" fill="#1f7f40"/>
<rect x="609.24" y="638.12" width="3.90" height="9.59" fill="#5a57a5"/>
<rect x="609.24" y="647.70" width="3.90" height="4.18" fill="#9d2e72"/>
<rect x="613.58" y="630.15" width="3.90" height="17.55" fill="#66bade"/>
<rect x="613.58" y="647.70" width="3.90" height="24.57" fill="#1f7f40"/>
<rect x="617.91" y="638.12" width="3.90" height="9.59" fill="#5a57a5"/>
<rect x="617.91" y="647.70" width="3.90" height="5.00" fill="#9d2e72"/>
<rect x="622.25" y="635.15" width="3.90" height="12.55" fill="#66bade"/>
<rect x="626.58" y="645.00" width="3.90" height="2.70" fill="#5a57a5"/>
<rect x="626.58" y="647.70" width="3.90" height="13.90" fill="#9d2e72"/>
<rect x="630.92" y="628.67" width="3.90" height="19.03" fill="#66bade"/>
<rect x="630.92" y="647.70" width="3.90" height="17.96" fill="#1f7f40"/>
<rect x="635.25" y="638.12" width="3.90" height="9.59" fill="#5a57a5"/>
<rect x="635.25" y="647.70" width="3.90" height="7.83" fill="#9d2e72"/>
<rect x="639.59" y="617.73" width="3.90" height="29.97" fill="#66bade"/>
<rect x="643.92" y="646.35" width="3.90" height="1.35" fill="#5a57a5"/>
<rect x="643.92" y="647.70" width="3.90" height="11.48" fill="#9d2e72"/>
<rect x="648.25" y="636.36" width="3.90" height="11.34" fill="#66bade"/>
<rect x="648.25" y="647.70" width="3.90" height="12.96" fill="#1f7f40"/>
<rect x="652.59" y="641.76" width="3.90" height="5.94" fill="#5a57a5"/>
<rect x="652.59" y="647.70" width="3.90" height="16.47" fill="#9d2e72"/>
<rect x="656.93" y="638.12" width="3.90" height="9.59" fill="#66bade"/>
<rect x="656.93" y="647.70" width="3.90" height="12.96" fill="#1f7f40"/>
<rect x="661.26" y="640.28" width="3.90" height="7.42" fill="#5a57a5"/>
<rect x="661.26" y="647.70" width="3.90" height="12.15" fill="#9d2e72"/>
<rect x="665.60" y="635.96" width="3.90" height="11.75" fill="#66bade"/>
<rect x="665.60" y="647.70" width="3.90" height="12.96" fill="#1f7f40"/>
<line x1="244.50" y1="647.70" x2="670.00" y2="647.70" stroke="#000" stroke-width="1.1"/>
<path d="M245.10,634.85L249.00,635.65M245.10,648.00L249.00,647.20M249.44,647.40L253.34,648.20M249.44,661.63L253.34,660.84M253.77,635.66L257.67,636.46M253.77,659.48L257.67,658.68M258.11,636.06L262.00,636.86M258.11,676.89L262.00,676.09M262.44,647.40L266.34,648.20M262.44,661.63L266.34,660.84M266.77,635.66L270.67,636.46M266.77,659.88L270.67,659.08M271.11,633.77L275.01,634.57M271.11,660.96L275.01,660.16M275.44,620.40L279.34,621.20M275.44,660.55L279.34,659.75M279.78,620.81L283.68,621.61M279.78,648.00L283.68,647.20M284.12,647.40L288.01,648.20M284.12,676.89L288.01,676.09M288.45,647.40L292.35,648.20M288.45,661.90L292.35,661.11M292.79,617.70L296.69,618.50M292.79,659.48L296.69,658.68M297.12,632.69L301.02,633.49M297.12,662.04L301.02,661.24M301.45,635.25L305.35,636.05M301.45,648.00L305.35,647.20M305.79,647.40L309.69,648.20M305.79,662.45L309.69,661.65M310.12,618.65L314.02,619.45M310.12,648.00L314.02,647.20M314.46,647.40L318.36,648.20M314.46,661.63L318.36,660.84M318.80,647.40L322.69,648.20M318.80,664.20L322.69,663.40M323.13,586.65L327.03,587.45M323.13,648.00L327.03,647.20M327.46,633.50L331.36,634.30M327.46,648.00L331.36,647.20M331.80,635.39L335.70,636.19M331.80,677.97L335.70,677.17M336.13,633.77L340.03,634.57M336.13,648.00L340.03,647.20M340.47,647.40L344.37,648.20M340.47,658.53L344.37,657.73M344.81,635.66L348.70,636.46M344.81,648.00L348.70,647.20M349.14,647.40L353.04,648.20M349.14,675.40L353.04,674.61M353.47,602.99L357.37,603.79M353.47,648.00L357.37,647.20M357.81,618.92L361.71,619.72M357.81,671.09L361.71,670.29M362.14,637.14L366.04,637.94M362.14,648.00L366.04,647.20M366.48,632.69L370.38,633.49M366.48,673.78L370.38,672.99M370.81,647.40L374.71,648.20M370.81,660.96L374.71,660.16M375.15,634.58L379.05,635.38M375.15,662.45L379.05,661.65M379.48,634.85L383.38,635.65M379.48,648.00L383.38,647.20M383.82,619.59L387.72,620.39M383.82,660.96L387.72,660.16M388.16,621.89L392.06,622.69M388.16,659.48L392.06,658.68M392.49,645.78L396.39,646.58M392.49,675.40L396.39,674.61M396.82,604.74L400.72,605.54M396.82,659.48L400.72,658.68M401.16,643.62L405.06,644.42M401.16,675.40L405.06,674.61M405.50,647.40L409.39,648.20M405.50,658.80L409.39,658.00M409.83,647.40L413.73,648.20M409.83,661.63L413.73,660.84M414.17,631.34L418.06,632.13M414.17,674.46L418.06,673.66M418.50,647.40L422.40,648.20M418.50,674.73L422.40,673.93M422.83,634.85L426.73,635.65M422.83,648.00L426.73,647.20M427.17,647.40L431.07,648.20M427.17,676.89L431.07,676.09M431.50,633.50L435.40,634.30M431.50,648.00L435.40,647.20M435.84,620.81L439.74,621.61M435.84,648.00L439.74,647.20M440.18,634.17L444.07,634.97M440.18,679.86L444.07,679.06M444.51,636.60L448.41,637.40M444.51,648.00L448.41,647.20M448.84,604.07L452.74,604.87M448.84,648.00L452.74,647.20M453.18,647.40L457.08,648.20M453.18,664.34L457.08,663.54M457.51,618.92L461.41,619.72M457.51,667.17L461.41,666.37M461.85,634.58L465.75,635.38M461.85,648.00L465.75,647.20M466.19,631.34L470.08,632.13M466.19,648.00L470.08,647.20M470.52,632.69L474.42,633.49M470.52,665.28L474.42,664.48M474.85,647.40L478.75,648.20M474.85,681.35L478.75,680.55M479.19,622.29L483.09,623.09M479.19,648.00L483.09,647.20M483.53,644.30L487.43,645.10M483.53,661.63L487.43,660.84M487.86,634.58L491.76,635.38M487.86,661.90L491.76,661.11M492.19,647.40L496.09,648.20M492.19,658.80L496.09,658.00M496.53,621.08L500.43,621.88M496.53,699.16L500.43,698.37M500.86,617.16L504.76,617.96M500.86,720.50L504.76,719.70M505.20,636.06L509.10,636.86M505.20,669.60L509.10,668.80M509.54,636.60L513.44,637.40M509.54,648.00L513.44,647.20M513.87,646.05L517.77,646.85M513.87,661.63L517.77,660.84M518.21,643.62L522.11,644.42M518.21,668.92L522.11,668.12M522.54,634.58L526.44,635.38M522.54,648.00L526.44,647.20M526.88,644.70L530.77,645.50M526.88,661.63L530.77,660.84M531.21,646.05L535.11,646.85M531.21,675.67L535.11,674.88M535.55,583.28L539.45,584.08M535.55,690.39L539.45,689.59M539.88,645.38L543.78,646.18M539.88,658.80L543.78,658.00M544.22,640.65L548.12,641.45M544.22,648.00L548.12,647.20M548.55,633.77L552.45,634.57M548.55,663.12L552.45,662.32M552.89,605.15L556.79,605.95M552.89,692.96L556.79,692.16M557.22,642.95L561.12,643.75M557.22,666.76L561.12,665.97M561.56,644.70L565.46,645.50M561.56,662.31L565.46,661.51M565.89,634.58L569.79,635.38M565.89,660.15L569.79,659.35M570.23,628.77L574.12,629.57M570.23,652.18L574.12,651.38M574.56,612.84L578.46,613.64M574.56,698.76L578.46,697.96M578.90,633.77L582.80,634.57M578.90,662.31L582.80,661.51M583.23,647.40L587.13,648.20M583.23,653.00L587.13,652.20M587.57,611.63L591.47,612.43M587.57,648.00L591.47,647.20M591.90,639.30L595.80,640.10M591.90,676.22L595.80,675.42M596.24,644.70L600.13,645.50M596.24,664.34L600.13,663.54M600.57,636.06L604.47,636.86M600.57,659.48L604.47,658.68M604.91,640.38L608.81,641.18M604.91,660.96L608.81,660.16M609.24,637.82L613.14,638.62M609.24,652.18L613.14,651.38M613.58,629.85L617.48,630.65M613.58,672.57L617.48,671.77M617.91,637.82L621.81,638.62M617.91,653.00L621.81,652.20M622.25,634.85L626.14,635.65M622.25,648.00L626.14,647.20M626.58,644.70L630.48,645.50M626.58,661.90L630.48,661.11M630.92,628.37L634.82,629.17M630.92,665.96L634.82,665.16M635.25,637.82L639.15,638.62M635.25,655.83L639.15,655.03M639.59,617.43L643.49,618.23M639.59,648.00L643.49,647.20M643.92,646.05L647.82,646.85M643.92,659.48L647.82,658.68M648.25,636.06L652.15,636.86M648.25,660.96L652.15,660.16M652.59,641.46L656.49,642.26M652.59,664.47L656.49,663.67M656.93,637.82L660.83,638.62M656.93,660.96L660.83,660.16M661.26,639.98L665.16,640.78M661.26,660.15L665.16,659.35M665.60,635.66L669.50,636.46M665.60,660.96L669.50,660.16" stroke="#000" stroke-width="1.3" fill="none"/>
<circle cx="520.17" cy="661.07" r="2.3" fill="#f7e51e" stroke="#000" stroke-width="0.4"/>
<circle cx="546.18" cy="634.20" r="2.3" fill="#f7e51e" stroke="#000" stroke-width="0.4"/>
<circle cx="606.87" cy="647.70" r="2.3" fill="#f7e51e" stroke="#000" stroke-width="0.4"/>
<circle cx="637.22" cy="647.70" r="2.3" fill="#f7e51e" stroke="#000" stroke-width="0.4"/>
<circle cx="641.55" cy="606.93" r="2.3" fill="#f7e51e" stroke="#000" stroke-width="0.4"/>
<circle cx="667.56" cy="647.70" r="2.3" fill="#f7e51e" stroke="#000" stroke-width="0.4"/>
<rect x="246.90" y="689.60" width="196.60" height="36.00" fill="#fff"/>
<rect x="252.60" y="694.60" width="7.40" height="7.40" fill="#5a57a5"/>
<text x="264.80" y="700.80" font-size="7.5" text-anchor="start" font-weight="normal" font-style="normal" fill="#333">Mean signal of base T</text>
<rect x="252.60" y="704.90" width="7.40" height="7.40" fill="#66bade"/>
<text x="264.80" y="711.10" font-size="7.5" text-anchor="start" font-weight="normal" font-style="normal" fill="#333">Mean signal of base G</text>
<circle cx="256.3" cy="718.7" r="0.9" fill="#000"/>
<text x="264.80" y="721.30" font-size="7.5" text-anchor="start" font-weight="normal" font-style="normal" fill="#333">Individual signal</text>
<rect x="353.20" y="694.60" width="7.40" height="7.40" fill="#9d2e72"/>
<text x="365.30" y="700.80" font-size="7.5" text-anchor="start" font-weight="normal" font-style="normal" fill="#333">Mean signal of base C</text>
<rect x="353.20" y="704.90" width="7.40" height="7.40" fill="#1f7f40"/>
<text x="365.30" y="711.10" font-size="7.5" text-anchor="start" font-weight="normal" font-style="normal" fill="#333">Mean signal of base A</text>
<circle cx="356.9" cy="718.7" r="2.0" fill="#f7e51e" stroke="#000" stroke-width="0.5"/>
<text x="365.30" y="721.30" font-size="7.5" text-anchor="start" font-weight="normal" font-style="normal" fill="#333">Error cycle</text>
<rect x="244.5" y="580.2" width="425.5" height="148.5" fill="none" stroke="#666" stroke-width="0.9"/>
<text x="240.60" y="596.30" font-size="7.7" text-anchor="end" font-weight="normal" font-style="normal" fill="#333">4</text>
<text x="240.60" y="623.30" font-size="7.7" text-anchor="end" font-weight="normal" font-style="normal" fill="#333">2</text>
<text x="240.60" y="650.30" font-size="7.7" text-anchor="end" font-weight="normal" font-style="normal" fill="#333">0</text>
<text x="240.60" y="677.30" font-size="7.7" text-anchor="end" font-weight="normal" font-style="normal" fill="#333">2</text>
<text x="240.60" y="704.30" font-size="7.7" text-anchor="end" font-weight="normal" font-style="normal" fill="#333">4</text>
<text x="240.60" y="731.30" font-size="7.7" text-anchor="end" font-weight="normal" font-style="normal" fill="#333">6</text>
<line x1="285.40" y1="728.70" x2="285.40" y2="726.70" stroke="#888" stroke-width="0.8"/>
<text x="285.40" y="742.20" font-size="7.3" text-anchor="middle" font-weight="normal" font-style="normal" fill="#333">10</text>
<line x1="328.73" y1="728.70" x2="328.73" y2="726.70" stroke="#888" stroke-width="0.8"/>
<text x="328.73" y="742.20" font-size="7.3" text-anchor="middle" font-weight="normal" font-style="normal" fill="#333">20</text>
<line x1="372.06" y1="728.70" x2="372.06" y2="726.70" stroke="#888" stroke-width="0.8"/>
<text x="372.06" y="742.20" font-size="7.3" text-anchor="middle" font-weight="normal" font-style="normal" fill="#333">30</text>
<line x1="415.39" y1="728.70" x2="415.39" y2="726.70" stroke="#888" stroke-width="0.8"/>
<text x="415.39" y="742.20" font-size="7.3" text-anchor="middle" font-weight="normal" font-style="normal" fill="#333">40</text>
<line x1="458.72" y1="728.70" x2="458.72" y2="726.70" stroke="#888" stroke-width="0.8"/>
<text x="458.72" y="742.20" font-size="7.3" text-anchor="middle" font-weight="normal" font-style="normal" fill="#333">50</text>
<line x1="502.05" y1="728.70" x2="502.05" y2="726.70" stroke="#888" stroke-width="0.8"/>
<text x="502.05" y="742.20" font-size="7.3" text-anchor="middle" font-weight="normal" font-style="normal" fill="#333">60</text>
<line x1="545.38" y1="728.70" x2="545.38" y2="726.70" stroke="#888" stroke-width="0.8"/>
<text x="545.38" y="742.20" font-size="7.3" text-anchor="middle" font-weight="normal" font-style="normal" fill="#333">70</text>
<line x1="588.71" y1="728.70" x2="588.71" y2="726.70" stroke="#888" stroke-width="0.8"/>
<text x="588.71" y="742.20" font-size="7.3" text-anchor="middle" font-weight="normal" font-style="normal" fill="#333">80</text>
<line x1="632.04" y1="728.70" x2="632.04" y2="726.70" stroke="#888" stroke-width="0.8"/>
<text x="632.04" y="742.20" font-size="7.3" text-anchor="middle" font-weight="normal" font-style="normal" fill="#333">90</text>
<text x="456.60" y="755.40" font-size="9.5" text-anchor="middle" font-weight="normal" font-style="normal" fill="#333">Cycle number</text>
<text x="229.60" y="654.00" font-size="8.9" text-anchor="middle" font-weight="normal" font-style="normal" fill="#333" transform="rotate(-90 229.6 654.0)">Number of bases</text>
<text x="0.00" y="6.60" font-size="12.5" text-anchor="start" font-weight="bold" font-style="normal" fill="#000">a</text>
<text x="309.50" y="6.60" font-size="12.5" text-anchor="start" font-weight="bold" font-style="normal" fill="#000">c</text>
<text x="0.00" y="208.50" font-size="12.5" text-anchor="start" font-weight="bold" font-style="normal" fill="#000">b</text>
<text x="255.00" y="208.50" font-size="12.5" text-anchor="start" font-weight="bold" font-style="normal" fill="#000">d</text>
<text x="470.50" y="208.50" font-size="12.5" text-anchor="start" font-weight="bold" font-style="normal" fill="#000">e</text>
<text x="0.00" y="421.50" font-size="12.5" text-anchor="start" font-weight="bold" font-style="normal" fill="#000">f</text>
<text x="206.00" y="421.00" font-size="12.5" text-anchor="start" font-weight="bold" font-style="normal" fill="#000">g</text>
</svg></body></html>
